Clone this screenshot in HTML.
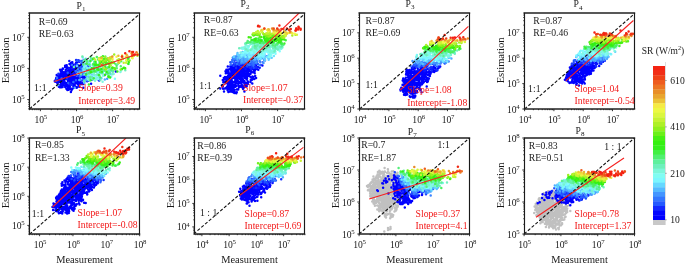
<!DOCTYPE html><html><head><meta charset="utf-8"><style>html,body{margin:0;padding:0;background:#fff;width:685px;height:264px;overflow:hidden}svg{display:block;will-change:transform}text{font-family:"Liberation Serif", serif}</style></head><body>
<svg width="685" height="264" viewBox="0 0 685 264" xmlns="http://www.w3.org/2000/svg">
<clipPath id="c1"><rect x="29.5" y="13" width="110.0" height="96"/></clipPath>
<g clip-path="url(#c1)">
<g stroke-width="2.5" stroke-linecap="round" fill="none"><path d="M70.2 74.8h0M80.2 76.3h0M69.7 75.4h0M66.4 77.4h0M71.1 76.6h0M76.8 87.7h0M81.3 71.4h0M76.3 79.6h0M62.7 81.5h0M69.8 75.0h0M83.1 75.3h0M68.6 78.2h0M81.4 84.0h0M67.1 88.7h0M81.3 66.6h0M58.4 76.2h0M59.0 81.7h0M56.7 75.0h0M69.6 75.5h0M70.0 70.9h0M67.0 84.7h0M66.8 71.8h0M84.8 65.0h0M71.5 90.3h0M71.4 81.6h0M60.4 74.6h0M68.0 80.4h0M80.4 77.3h0M73.6 67.5h0M79.8 79.6h0M64.2 79.4h0M72.2 69.5h0M66.3 65.5h0M73.7 82.5h0M62.8 74.7h0M81.4 72.5h0M83.2 76.2h0M74.6 72.8h0M76.1 64.1h0M80.5 74.9h0M78.5 81.3h0M78.3 80.4h0M70.8 88.6h0M75.2 79.5h0M67.3 78.7h0M76.6 73.0h0M81.1 82.9h0M85.9 72.7h0M81.1 71.2h0M68.4 80.7h0M74.7 84.9h0M63.7 85.1h0M61.4 78.8h0M76.7 73.5h0M85.7 77.3h0M70.5 68.6h0M89.4 71.0h0M73.5 76.7h0M70.7 81.3h0M72.7 73.9h0M69.8 74.4h0M65.1 65.7h0M78.1 77.9h0M64.2 75.9h0M68.7 86.0h0M78.0 72.7h0M60.1 77.8h0M69.8 86.5h0M70.4 84.5h0M57.5 78.9h0M71.6 72.8h0M66.5 79.1h0M71.4 89.7h0M69.0 77.3h0M78.8 65.6h0M67.4 71.6h0M71.2 75.8h0M61.6 78.9h0M61.9 71.1h0M65.6 72.5h0M59.0 85.1h0M67.5 71.5h0M75.3 72.5h0M65.8 85.8h0M83.3 87.7h0M63.6 80.5h0M72.1 75.5h0M62.8 80.8h0M66.3 75.1h0M60.7 87.0h0M64.4 72.4h0M81.0 76.7h0M75.9 70.9h0M59.8 78.2h0M67.4 79.2h0M84.6 66.0h0M57.6 79.8h0M57.0 81.6h0M81.3 68.9h0M71.8 71.2h0M70.0 74.2h0M62.9 81.4h0M71.1 89.5h0M72.3 62.2h0M74.0 82.7h0M78.3 84.7h0M61.0 82.4h0M64.3 82.3h0M72.1 82.6h0M68.2 88.3h0M61.1 78.1h0M64.2 78.7h0M76.1 67.3h0M74.5 81.2h0M69.0 77.5h0M73.6 87.7h0M68.3 70.9h0M74.8 82.1h0M72.1 76.5h0M66.4 86.1h0M63.5 79.7h0M70.3 75.6h0M68.2 79.8h0M65.2 86.9h0M84.7 75.3h0M71.6 80.0h0M69.0 68.7h0M64.7 76.1h0M71.1 67.1h0M73.4 83.0h0M70.9 80.4h0M76.0 82.9h0M71.0 73.0h0M62.7 74.1h0M74.5 71.8h0M72.9 67.3h0M59.9 87.2h0M61.5 87.3h0M61.7 84.9h0M65.2 74.4h0M63.5 82.2h0M78.9 75.6h0M54.8 80.9h0M60.4 75.9h0M76.4 77.5h0M75.1 72.0h0M68.3 71.2h0M66.2 83.9h0M80.3 82.2h0M78.6 77.1h0M62.4 69.3h0M68.0 80.8h0M74.4 87.3h0M68.6 78.4h0M61.0 83.5h0M65.7 86.2h0M60.6 85.4h0M80.0 82.3h0M58.1 80.4h0M79.6 80.0h0M72.2 89.2h0M68.8 86.7h0M75.2 86.9h0M75.7 74.3h0M66.9 83.1h0M80.4 71.4h0M81.1 76.4h0M67.9 85.7h0M57.7 85.1h0M68.6 89.8h0M72.4 76.6h0M68.7 78.2h0M76.1 66.5h0M87.1 81.3h0M72.7 70.9h0M79.1 82.9h0M79.1 66.8h0M64.7 72.3h0M62.8 74.4h0M88.9 80.8h0M73.3 86.0h0M79.5 68.1h0M74.8 72.2h0M75.4 68.2h0M76.5 65.2h0M63.1 77.2h0M60.9 74.5h0M70.9 78.9h0M68.9 72.2h0M60.1 81.5h0M73.3 69.6h0M62.6 87.0h0M66.8 78.3h0M83.1 75.0h0M70.6 75.3h0M68.5 73.2h0M67.4 67.3h0M70.9 92.1h0M78.2 81.6h0M70.3 79.2h0M59.4 74.7h0M56.1 78.7h0M70.2 74.6h0M73.4 65.3h0M72.4 64.2h0M60.1 69.8h0M71.3 83.4h0M68.9 78.9h0M71.8 77.9h0M67.7 82.4h0M62.3 85.1h0M68.2 80.5h0M59.4 76.6h0M72.4 75.2h0M79.3 80.9h0M65.7 70.1h0M70.2 73.0h0M67.4 90.1h0M80.4 69.9h0M66.0 78.3h0M88.2 70.7h0M75.9 69.8h0M61.5 70.3h0M62.4 76.6h0M56.3 77.8h0M61.9 81.5h0M80.0 83.5h0M66.9 78.1h0M63.8 80.3h0M70.7 64.7h0M68.2 72.5h0M68.1 88.4h0M77.7 83.9h0M62.1 73.6h0M80.9 84.2h0M74.1 77.1h0M60.1 80.7h0M65.7 77.0h0M81.5 63.8h0M63.1 82.7h0M77.1 87.2h0M72.3 74.8h0M84.9 74.3h0M62.8 72.1h0M67.1 84.9h0M84.8 75.6h0M57.6 83.6h0M69.6 77.0h0M55.8 81.8h0M81.6 67.6h0M83.8 59.9h0M64.7 82.8h0M60.8 81.1h0M79.6 78.7h0M77.3 81.2h0M54.9 81.5h0M72.9 64.4h0M72.0 84.3h0M79.3 77.1h0M68.5 72.8h0M84.4 79.3h0M74.7 76.7h0M70.8 89.2h0M66.6 73.5h0M68.4 73.2h0M67.6 75.6h0M68.5 70.6h0M72.8 78.6h0M76.1 62.5h0M63.9 79.5h0M73.1 70.2h0M74.0 69.8h0M70.1 77.4h0M75.4 71.1h0M67.1 78.2h0M71.1 63.0h0M80.9 66.4h0M65.3 66.9h0M65.9 83.8h0M66.3 73.0h0M71.5 89.2h0M66.8 78.4h0M69.1 69.9h0M67.6 79.0h0M57.4 83.3h0M66.8 68.4h0M77.0 74.3h0M67.5 71.4h0M77.2 80.4h0M64.7 73.1h0M73.8 73.3h0M78.3 84.2h0M68.8 82.7h0M63.1 81.4h0M63.8 83.1h0M75.7 77.3h0M69.6 76.3h0M72.3 76.2h0M75.9 74.0h0M58.4 77.6h0M64.2 75.9h0M71.2 66.4h0M70.5 70.4h0M67.6 83.3h0M77.1 74.5h0M77.7 83.4h0M72.8 78.7h0M60.5 73.5h0M79.6 68.6h0M74.7 70.7h0M64.8 82.2h0M68.2 85.3h0M74.9 71.3h0M73.0 77.1h0M76.5 68.8h0M78.4 80.1h0M82.8 77.5h0M61.3 79.3h0M91.1 83.7h0M75.7 86.7h0M69.4 68.0h0M66.7 65.2h0M80.5 81.0h0M90.6 79.6h0M70.7 84.0h0M61.0 86.8h0M74.0 86.5h0M68.5 86.4h0M70.2 79.6h0M75.4 82.3h0M66.0 77.5h0M64.5 72.4h0M58.9 86.8h0M78.6 81.0h0M77.0 62.3h0M73.4 80.5h0M79.3 86.7h0M60.8 71.2h0M73.2 84.2h0M67.6 89.3h0M72.3 89.1h0M85.5 76.7h0M64.6 79.3h0M68.4 88.0h0M62.8 68.6h0M78.6 83.9h0M69.2 88.0h0M81.7 65.6h0M70.3 70.2h0M74.0 77.7h0M63.7 73.7h0M78.7 83.0h0M74.8 78.7h0M60.6 84.7h0M70.8 77.1h0M62.1 73.6h0M73.1 66.0h0M115.8 71.6h0M69.5 64.1h0M61.7 71.8h0M84.5 68.6h0M85.1 77.4h0M70.0 69.9h0M98.7 79.9h0M72.1 67.1h0M76.9 81.4h0M74.6 73.5h0M82.9 80.1h0M80.2 72.8h0M71.8 80.9h0M68.0 75.3h0M66.4 88.7h0M79.2 61.8h0M82.6 72.8h0M83.3 83.9h0M63.0 68.8h0M64.2 81.0h0" stroke="#0000ff"/><path d="M70.2 81.5h0M86.9 75.4h0M70.5 80.8h0M79.7 71.9h0M77.2 70.2h0M87.5 76.1h0M73.5 84.3h0M75.0 69.1h0M85.7 67.2h0M78.8 78.7h0M73.8 72.8h0M65.1 67.0h0M68.1 70.7h0M80.5 66.2h0" stroke="#0102ff"/><path d="M87.0 68.5h0M81.3 74.8h0M69.1 68.4h0M69.3 61.0h0M84.2 68.0h0M83.6 67.9h0M85.9 71.5h0M88.9 75.2h0M87.1 65.4h0M81.0 70.3h0M81.9 82.5h0M80.6 75.2h0M75.3 64.3h0M55.4 80.5h0M73.2 73.1h0M82.1 75.0h0" stroke="#0a14ff"/><path d="M78.2 60.3h0M71.9 84.9h0M99.2 80.6h0M75.6 74.5h0M76.1 59.9h0M77.6 75.6h0M77.7 68.3h0M82.5 66.1h0M58.4 73.7h0M78.0 69.0h0M70.7 84.5h0M66.8 78.6h0M79.4 61.0h0M91.8 79.7h0M83.8 72.7h0M79.5 60.8h0M92.8 77.4h0" stroke="#142bff"/><path d="M81.8 61.1h0M79.6 67.2h0M98.8 77.5h0M82.1 66.8h0M85.8 67.2h0M88.6 67.0h0M86.1 65.8h0M98.8 73.2h0M79.9 74.4h0" stroke="#1f4cff"/><path d="M56.3 80.7h0M87.1 77.2h0M81.7 69.7h0M83.0 72.8h0M95.5 63.5h0M77.2 64.5h0M88.4 64.5h0M89.7 75.0h0M76.0 80.2h0M79.7 67.0h0M75.9 71.6h0M96.1 78.4h0M68.3 83.1h0M79.9 80.0h0M78.7 70.9h0M90.8 76.3h0M92.5 77.8h0M87.2 70.3h0M83.5 73.2h0M77.4 60.7h0M88.5 62.7h0M67.7 72.7h0M80.8 68.2h0" stroke="#2860ff"/><path d="M71.9 64.9h0M82.9 75.1h0M85.0 80.1h0M82.2 73.0h0M87.4 74.5h0M75.8 70.9h0M104.5 75.3h0M77.6 73.4h0M80.5 61.3h0M86.3 72.8h0M82.5 74.1h0M91.0 75.4h0M91.7 71.2h0M92.5 71.4h0M82.2 62.7h0M82.6 73.9h0M98.1 69.5h0M57.0 78.0h0M84.3 66.2h0M87.2 76.3h0M73.4 82.1h0M83.8 70.1h0M61.6 78.6h0M85.1 65.3h0M79.8 76.5h0" stroke="#3172ff"/><path d="M88.5 77.4h0M93.3 68.0h0M87.2 80.5h0M84.7 68.5h0M79.9 71.2h0M83.3 79.7h0M81.1 71.2h0M86.6 78.8h0M87.9 67.9h0M80.5 79.6h0M90.1 73.8h0M90.8 79.3h0M91.4 60.0h0M96.4 71.7h0M81.0 74.5h0M111.3 70.9h0M94.5 67.5h0" stroke="#3a83ff"/><path d="M84.7 72.3h0M77.7 69.1h0M84.2 67.3h0M84.8 63.9h0M99.9 69.7h0M90.0 65.9h0M107.2 78.8h0M85.0 80.0h0M78.1 72.5h0M84.6 81.3h0M88.1 78.6h0M87.5 79.7h0M109.7 71.1h0M81.0 75.4h0M82.8 68.7h0" stroke="#4397ff"/><path d="M58.3 85.1h0M74.7 87.7h0M106.5 73.6h0M84.8 69.3h0M92.8 67.9h0M89.7 79.7h0M104.8 79.4h0M97.5 70.6h0M88.2 74.2h0M99.3 75.2h0M86.4 76.3h0M79.3 80.1h0M90.3 72.8h0M88.9 68.6h0M84.3 65.8h0" stroke="#4eadff"/><path d="M89.6 71.6h0M85.9 79.5h0M99.3 68.8h0M88.7 74.9h0M95.9 67.4h0M84.4 83.0h0M83.3 70.5h0M87.9 78.9h0M98.2 71.2h0M87.3 75.1h0M106.1 68.5h0M91.2 59.2h0M89.7 71.1h0" stroke="#58bfff"/><path d="M88.3 68.5h0M91.7 69.6h0M93.2 74.7h0M97.1 78.5h0M84.6 69.2h0M110.6 73.9h0M90.5 78.8h0M83.5 63.5h0M84.3 68.4h0M76.9 66.0h0M82.9 68.7h0M84.1 60.3h0M85.8 58.8h0M101.5 78.3h0M82.8 71.9h0M90.9 59.4h0M83.6 64.9h0M95.6 76.1h0M87.7 62.9h0" stroke="#61d1ff"/><path d="M95.2 66.7h0M82.7 57.5h0M92.3 68.3h0M92.7 65.3h0M90.6 77.0h0M102.9 72.9h0M98.7 77.8h0M88.0 75.4h0M104.0 70.2h0M89.3 74.7h0M89.8 62.8h0M87.9 71.9h0M83.9 70.5h0M84.4 66.8h0M94.7 62.7h0" stroke="#72e8ff"/><path d="M86.3 61.4h0M96.3 71.0h0M111.2 76.5h0M89.8 68.9h0M86.2 65.7h0M84.8 70.3h0M94.4 70.1h0M98.2 59.2h0M86.0 71.9h0M92.7 58.4h0M77.5 73.9h0M93.8 59.5h0M101.0 60.9h0M98.7 73.3h0M84.4 67.3h0M89.5 80.6h0M88.2 79.0h0" stroke="#7bf7ff"/><path d="M97.6 71.7h0M89.0 63.8h0M90.7 75.9h0M95.2 68.5h0M96.3 65.6h0M100.3 73.4h0M101.9 68.8h0M93.4 58.4h0M104.0 67.8h0M105.5 68.4h0M92.1 71.3h0M114.9 78.7h0M89.6 68.2h0M93.7 76.5h0" stroke="#80fefc"/><path d="M87.4 63.4h0M90.3 75.3h0M91.7 78.7h0M97.0 74.7h0M110.7 70.8h0M84.1 64.7h0M102.3 71.5h0M89.5 64.4h0M87.1 67.9h0M89.6 80.3h0M95.7 77.2h0M85.1 71.3h0M111.6 68.3h0M99.2 62.2h0M98.1 79.0h0M95.3 75.5h0M92.4 72.6h0M94.8 62.2h0M90.9 68.9h0M106.5 68.2h0M105.0 62.0h0M107.3 70.9h0" stroke="#80fbee"/><path d="M95.0 80.7h0M98.5 76.5h0M93.9 73.6h0M128.7 64.0h0M94.1 70.7h0M89.3 60.5h0M105.8 70.6h0M96.0 79.2h0M107.6 73.2h0M90.3 60.7h0M103.0 75.7h0M113.7 74.0h0M102.6 81.8h0M86.5 60.7h0M120.4 71.9h0M121.1 70.5h0" stroke="#80f8df"/><path d="M89.2 79.4h0M96.9 74.6h0M105.4 56.4h0M109.4 63.6h0M84.4 74.4h0M98.7 65.2h0M94.5 74.7h0M83.7 61.3h0M91.9 60.1h0M94.6 62.5h0M112.4 74.3h0M90.3 70.9h0M93.3 79.5h0M110.5 65.8h0M95.0 68.6h0M109.7 62.9h0M87.4 78.1h0M90.0 65.3h0M100.1 66.8h0M93.4 65.2h0" stroke="#77f3ce"/><path d="M125.3 70.3h0M100.4 79.9h0M105.8 67.9h0M89.7 69.5h0M110.7 62.5h0M99.7 76.0h0M85.1 69.5h0M104.9 70.7h0M91.8 77.2h0M93.5 69.8h0M109.3 70.1h0M94.6 68.1h0M80.0 72.8h0M99.6 70.1h0M97.6 74.6h0" stroke="#6ef0bc"/><path d="M117.8 63.9h0M82.4 56.5h0M92.8 78.7h0M111.5 69.1h0M121.3 61.2h0M103.1 67.4h0M93.1 69.9h0M109.8 72.3h0M90.2 71.3h0M104.0 68.9h0M97.2 70.7h0M112.9 71.7h0M108.9 75.8h0M73.9 67.0h0M109.4 59.9h0M94.1 62.1h0M97.1 64.7h0M84.2 80.9h0M96.1 71.2h0M103.1 60.6h0M80.9 74.1h0M108.1 71.3h0M87.0 72.2h0" stroke="#65f0aa"/><path d="M95.7 71.2h0M90.2 77.8h0M112.3 69.3h0M94.3 68.6h0M109.0 67.6h0M104.1 70.6h0M100.2 57.9h0M97.7 68.6h0M90.3 77.0h0M94.1 63.7h0M107.3 67.8h0M103.0 69.4h0M102.0 73.2h0M113.1 70.4h0M85.5 59.5h0M111.5 69.4h0M109.3 73.3h0" stroke="#5cf094"/><path d="M83.3 64.4h0M100.0 66.0h0M89.1 73.2h0M87.2 61.3h0M89.2 64.6h0M91.6 69.9h0M94.5 67.3h0M95.7 63.6h0M116.8 68.3h0M95.6 71.1h0M85.1 60.1h0M107.2 67.6h0M111.0 69.7h0M98.1 59.6h0M120.8 66.3h0M115.5 63.9h0M90.6 71.7h0M107.4 67.7h0M119.2 62.2h0" stroke="#53f079"/><path d="M92.2 71.9h0M99.7 59.7h0M94.7 71.3h0M90.5 56.9h0M107.9 73.6h0M96.8 57.1h0M100.4 77.4h0M99.7 60.9h0M102.2 65.4h0M103.5 64.5h0M97.8 67.9h0M93.0 64.2h0M100.2 72.2h0M116.6 65.8h0M100.5 70.1h0" stroke="#4af05f"/><path d="M93.6 67.9h0M90.4 70.8h0M86.7 63.7h0M86.5 63.5h0M105.6 61.2h0M106.8 63.1h0M94.2 71.2h0M93.8 78.3h0M104.8 62.1h0M108.3 76.2h0M95.7 63.6h0" stroke="#41f044"/><path d="M86.2 74.6h0M124.6 68.0h0M101.5 57.2h0M92.7 59.0h0M103.0 64.3h0M113.9 62.8h0M128.7 57.7h0M101.9 60.2h0M98.5 65.4h0M88.9 84.6h0M90.4 61.0h0M88.6 70.0h0M102.9 56.2h0M119.1 62.8h0M104.9 66.7h0M110.9 63.3h0M98.9 75.0h0M101.4 60.3h0M90.6 80.2h0" stroke="#3af02d"/><path d="M100.2 63.3h0M94.6 64.7h0M95.5 61.4h0M106.6 71.9h0M97.3 69.2h0M102.1 71.7h0M107.5 58.5h0M122.9 58.8h0M127.7 59.3h0M108.3 63.8h0M117.4 71.5h0M126.7 60.5h0" stroke="#32f017"/><path d="M105.6 64.4h0M96.2 65.2h0M93.8 68.8h0M112.7 67.7h0M101.4 68.9h0M110.1 77.4h0M91.7 68.2h0M98.5 69.7h0M104.1 58.8h0M128.8 61.9h0M105.1 74.7h0M111.5 58.3h0M128.3 63.8h0" stroke="#33f010"/><path d="M98.4 65.1h0M123.7 67.7h0M101.8 61.8h0M122.1 68.9h0M90.9 72.2h0M108.6 77.1h0" stroke="#36f010"/><path d="M109.6 65.1h0M112.4 67.7h0M99.1 59.2h0M120.8 60.4h0M109.5 63.8h0M119.0 59.4h0M105.9 64.1h0M107.8 60.1h0M103.4 61.6h0M109.3 66.9h0M125.2 68.2h0" stroke="#44f012"/><path d="M114.8 68.3h0M105.4 61.9h0M99.8 63.4h0" stroke="#5af015"/><path d="M115.0 69.3h0M111.5 62.2h0M99.8 59.4h0" stroke="#71f018"/><path d="M102.3 59.0h0M110.1 57.4h0M106.7 60.0h0M94.0 58.4h0M100.0 61.2h0M120.6 69.4h0M129.6 60.4h0M108.9 61.7h0M105.2 69.5h0M113.1 62.5h0M105.8 58.8h0" stroke="#87f01c"/><path d="M105.2 56.7h0M105.7 60.6h0M114.2 54.4h0M112.5 63.1h0M103.3 61.6h0M106.3 69.3h0" stroke="#9df020"/><path d="M102.0 57.4h0M137.4 55.7h0M101.0 59.2h0M117.5 59.9h0M109.6 58.7h0" stroke="#adf026"/><path d="M109.6 59.9h0M110.7 65.5h0M123.7 62.8h0M103.8 67.7h0M122.9 59.0h0M99.0 58.2h0" stroke="#bcf02e"/><path d="M137.6 53.9h0M118.8 59.5h0M95.2 59.8h0M126.1 62.8h0M134.1 55.8h0" stroke="#c9f235"/><path d="M131.8 57.4h0M118.6 62.7h0" stroke="#d6f53b"/><path d="M125.8 56.9h0" stroke="#e2f841"/><path d="M116.5 56.8h0M126.4 60.2h0M101.2 59.3h0M119.3 61.3h0M112.5 58.2h0M132.6 58.3h0" stroke="#f5f847"/><path d="M99.0 59.2h0M122.1 55.5h0M112.4 59.8h0M120.8 59.8h0" stroke="#f3e642"/><path d="M131.4 53.2h0M111.3 57.2h0M127.3 55.8h0M108.4 58.2h0" stroke="#edcb39"/><path d="M101.4 58.1h0M118.6 62.2h0M126.6 54.7h0M118.4 55.8h0M133.1 55.9h0" stroke="#eab834"/><path d="M112.3 56.5h0" stroke="#e8992b"/><path d="M121.9 56.7h0" stroke="#e98b27"/><path d="M136.5 52.2h0" stroke="#ec7c24"/><path d="M132.0 54.1h0" stroke="#ed6e22"/><path d="M132.0 55.7h0M101.7 64.8h0" stroke="#ee5f20"/><path d="M132.0 51.9h0" stroke="#ee4e1a"/><path d="M122.1 56.6h0" stroke="#f03218"/><path d="M137.5 54.7h0" stroke="#f12b16"/><path d="M133.7 54.8h0M129.4 51.2h0M135.0 54.6h0M133.1 51.9h0M125.2 53.3h0" stroke="#f51e10"/></g>
</g>
<g clip-path="url(#c1)"><line x1="29.53" y1="108.86" x2="140.69" y2="13.10" stroke="#111" stroke-width="1.1" stroke-dasharray="3.2,1.8"/>
<line x1="54.2" y1="81.6" x2="136.4" y2="54.6" stroke="#f52020" stroke-width="1.1"/></g>
<path d="M28.8 13H140.2M28.8 109H140.2" stroke="#222" stroke-width="1.45" fill="none"/>
<path d="M29.5 13V109M139.5 13V109" stroke="#1a1a1a" stroke-width="1.15" fill="none"/>
<path d="M29.53 109v1.2M29.5 108.86h-1.2M32.39 109v1.2M29.5 106.40h-1.2M34.81 109v1.2M29.5 104.32h-1.2M36.90 109v1.2M29.5 102.51h-1.2M38.75 109v1.2M29.5 100.92h-1.2M40.40 109v2.2M29.5 99.50h-2.2M51.27 109v1.2M29.5 90.14h-1.2M57.62 109v1.2M29.5 84.66h-1.2M62.13 109v1.2M29.5 80.78h-1.2M65.63 109v1.2M29.5 77.76h-1.2M68.49 109v1.2M29.5 75.30h-1.2M70.91 109v1.2M29.5 73.22h-1.2M73.00 109v1.2M29.5 71.41h-1.2M74.85 109v1.2M29.5 69.82h-1.2M76.50 109v2.2M29.5 68.40h-2.2M87.37 109v1.2M29.5 59.04h-1.2M93.72 109v1.2M29.5 53.56h-1.2M98.23 109v1.2M29.5 49.68h-1.2M101.73 109v1.2M29.5 46.66h-1.2M104.59 109v1.2M29.5 44.20h-1.2M107.01 109v1.2M29.5 42.12h-1.2M109.10 109v1.2M29.5 40.31h-1.2M110.95 109v1.2M29.5 38.72h-1.2M112.60 109v2.2M29.5 37.30h-2.2M123.47 109v1.2M29.5 27.94h-1.2M129.82 109v1.2M29.5 22.46h-1.2M134.33 109v1.2M29.5 18.58h-1.2M137.83 109v1.2M29.5 15.56h-1.2M29.5 13.10h-1.2" stroke="#222" stroke-width="0.9" fill="none"/>
<text x="40.90" y="122.90" font-size="9.6" text-anchor="middle" fill="#1a1a1a">10<tspan font-size="6.8" dx="-0.3" dy="-3.7">5</tspan></text>
<text x="24.60" y="103.00" font-size="9.6" text-anchor="end" fill="#1a1a1a">10<tspan font-size="6.8" dx="-0.4" dy="-3.7">5</tspan></text>
<text x="77.00" y="122.90" font-size="9.6" text-anchor="middle" fill="#1a1a1a">10<tspan font-size="6.8" dx="-0.3" dy="-3.7">6</tspan></text>
<text x="24.60" y="71.90" font-size="9.6" text-anchor="end" fill="#1a1a1a">10<tspan font-size="6.8" dx="-0.4" dy="-3.7">6</tspan></text>
<text x="113.10" y="122.90" font-size="9.6" text-anchor="middle" fill="#1a1a1a">10<tspan font-size="6.8" dx="-0.3" dy="-3.7">7</tspan></text>
<text x="24.60" y="40.80" font-size="9.6" text-anchor="end" fill="#1a1a1a">10<tspan font-size="6.8" dx="-0.4" dy="-3.7">7</tspan></text>
<text transform="translate(9.00,60.40) rotate(-90)" font-size="10.6" text-anchor="middle" fill="#1a1a1a">Estimation</text>
<text x="76.40" y="8.50" font-size="9.7" fill="#1a1a1a">P<tspan font-size="7.1" dx="0.1" dy="2.3">1</tspan></text>
<text x="38.80" y="24.50" font-size="9.7" fill="#1a1a1a">R=0.69</text>
<text x="38.80" y="36.60" font-size="9.7" fill="#1a1a1a">RE=0.63</text>
<text x="34.10" y="91.20" font-size="9.7" fill="#1a1a1a">1:1</text>
<text x="78.30" y="91.10" font-size="9.7" fill="#f21818">Slope=0.39</text>
<text x="78.30" y="103.60" font-size="9.7" fill="#f21818">Intercept=3.49</text>
<clipPath id="c2"><rect x="194.5" y="13" width="110.0" height="96"/></clipPath>
<g clip-path="url(#c2)">
<g stroke-width="2.5" stroke-linecap="round" fill="none"><path d="M244.1 71.0h0M230.1 80.4h0M239.2 86.7h0M230.8 90.5h0M244.3 81.0h0M227.7 78.6h0M230.2 79.1h0M224.4 81.7h0M252.2 79.4h0M229.1 87.7h0M238.8 70.0h0M235.6 85.8h0M222.8 86.5h0M238.3 77.6h0M255.2 76.0h0M238.4 75.0h0M247.1 77.9h0M229.2 83.5h0M247.9 70.5h0M252.2 69.0h0M239.0 69.1h0M247.2 71.3h0M223.8 78.1h0M226.2 71.7h0M237.3 80.0h0M232.3 84.7h0M235.9 83.3h0M234.4 73.4h0M236.5 70.4h0M239.0 75.1h0M238.2 89.6h0M241.7 85.0h0M244.1 70.2h0M243.0 69.0h0M231.1 69.3h0M238.1 71.2h0M239.4 73.9h0M254.2 71.4h0M226.5 82.2h0M242.7 82.0h0M225.0 76.9h0M250.2 65.1h0M241.7 82.2h0M235.6 68.3h0M248.1 72.9h0M240.6 78.0h0M232.0 71.6h0M233.6 88.7h0M235.5 83.7h0M229.1 83.0h0M225.9 78.9h0M229.3 89.1h0M240.3 82.1h0M250.6 77.2h0M229.5 74.0h0M244.6 85.3h0M238.7 73.6h0M236.3 93.2h0M235.5 72.6h0M239.9 65.4h0M239.1 70.6h0M235.3 86.8h0M235.7 86.1h0M231.9 70.3h0M247.1 70.7h0M248.3 69.9h0M244.4 83.7h0M234.7 78.2h0M244.6 81.9h0M245.2 69.0h0M240.7 74.1h0M227.7 85.7h0M240.9 75.0h0M226.4 80.0h0M241.3 81.7h0M247.9 81.4h0M250.4 81.9h0M250.1 70.9h0M241.4 78.4h0M226.8 87.1h0M229.5 74.2h0M234.0 66.2h0M233.4 87.9h0M256.2 68.9h0M238.0 69.8h0M250.1 74.0h0M241.6 84.3h0M237.2 89.5h0M243.2 73.8h0M225.6 77.6h0M253.2 77.1h0M243.3 72.7h0M235.1 71.1h0M234.1 70.0h0M227.6 90.3h0M231.3 70.9h0M233.6 82.0h0M229.2 73.6h0M234.5 91.7h0M234.9 82.3h0M237.2 74.1h0M246.9 79.6h0M249.9 70.1h0M234.0 84.7h0M235.7 69.9h0M228.6 72.1h0M241.9 73.4h0M231.3 67.0h0M239.8 74.1h0M250.6 71.8h0M223.8 79.4h0M229.3 77.2h0M237.0 71.3h0M240.4 76.9h0M245.6 77.6h0M247.5 68.8h0M240.0 83.0h0M250.0 70.9h0M250.8 71.0h0M241.7 77.5h0M241.2 75.6h0M241.8 67.6h0M231.8 87.5h0M228.9 76.3h0M235.6 72.0h0M227.8 81.9h0M238.3 71.3h0M239.6 73.5h0M234.1 72.2h0M239.2 71.0h0M238.9 71.2h0M225.5 82.2h0M254.0 70.8h0M247.8 75.3h0M230.4 91.6h0M224.6 77.4h0M254.8 70.7h0M230.3 68.4h0M235.6 77.5h0M247.4 75.3h0M238.1 76.5h0M230.6 78.8h0M238.4 77.2h0M235.1 82.4h0M236.6 81.0h0M229.2 86.3h0M243.9 70.2h0M252.3 83.5h0M231.9 82.5h0M246.4 76.8h0M227.7 90.3h0M239.3 68.3h0M232.2 72.5h0M226.9 83.0h0M246.7 86.3h0M236.4 64.0h0M230.4 77.2h0M224.0 91.5h0M232.4 91.0h0M230.0 83.8h0M237.0 75.4h0M245.1 71.1h0M240.7 75.1h0M223.0 80.0h0M243.2 81.6h0M234.4 64.6h0M245.3 76.2h0M242.9 68.5h0M234.3 70.6h0M237.0 73.9h0M245.2 69.5h0M229.1 84.9h0M239.1 76.1h0M230.1 77.2h0M239.0 87.3h0M250.4 73.9h0M230.4 78.6h0M244.6 71.1h0M252.2 72.3h0M233.3 67.8h0M244.3 64.5h0M228.2 71.0h0M232.1 68.4h0M254.3 69.9h0M236.8 92.3h0M240.4 70.5h0M230.2 89.9h0M228.8 85.3h0M225.2 77.5h0M238.5 66.3h0M242.2 87.3h0M237.2 70.1h0M251.8 79.9h0M231.8 80.9h0M239.2 77.8h0M231.5 69.9h0M242.2 87.0h0M221.9 85.3h0M230.5 84.9h0M229.8 87.3h0M235.3 80.3h0M227.7 70.6h0M238.9 68.1h0M248.5 68.7h0M230.4 86.1h0M244.4 86.5h0M230.5 75.9h0M236.9 78.4h0M233.9 65.2h0M236.8 89.5h0M236.7 77.7h0M236.1 79.7h0M228.2 69.6h0M241.3 82.4h0M244.5 75.3h0M220.3 88.4h0M241.9 85.3h0M245.0 76.1h0M243.1 89.0h0M231.6 78.7h0M254.7 73.3h0M228.4 86.2h0M231.2 86.3h0M231.9 86.9h0M241.0 71.7h0M256.0 65.6h0M235.3 71.0h0M232.6 91.9h0M234.9 74.3h0M229.0 87.1h0M254.3 79.1h0M246.2 75.4h0M234.6 86.8h0M238.0 73.5h0M242.1 75.3h0M255.8 65.5h0M231.4 73.4h0M244.6 77.8h0M227.3 70.2h0M229.4 82.0h0M226.9 76.9h0M246.9 68.1h0M239.8 71.4h0M245.9 84.3h0M244.0 70.0h0M246.2 70.0h0M230.4 69.4h0M254.0 71.8h0M245.6 70.6h0M242.3 70.1h0M240.4 77.7h0M225.8 83.2h0M227.3 87.0h0M220.3 75.8h0M226.4 69.7h0M244.8 68.9h0M238.3 83.9h0M236.5 85.9h0M255.6 68.9h0M237.2 78.4h0M249.2 75.8h0M246.2 78.8h0M228.3 75.4h0M251.0 80.2h0M245.7 74.0h0M231.6 76.1h0M246.0 77.7h0M243.8 81.8h0M244.2 86.3h0M231.6 66.1h0M248.1 71.5h0M240.3 68.8h0M241.6 85.8h0M232.6 75.0h0M244.9 86.3h0M243.3 72.1h0M235.8 70.6h0M234.6 67.0h0M234.5 75.7h0M255.1 67.5h0M235.3 66.7h0M230.2 74.7h0M244.3 87.0h0M231.0 78.5h0M241.0 82.6h0M233.2 72.2h0M225.8 82.4h0M250.0 74.0h0M233.5 71.6h0M227.6 73.0h0M242.7 69.1h0M240.7 86.0h0M225.8 73.2h0M227.2 83.1h0M225.5 88.2h0M226.1 80.4h0M234.3 92.9h0M252.5 76.4h0M238.9 86.0h0M231.0 88.4h0M230.3 80.1h0M249.5 67.0h0M246.6 82.9h0M238.0 89.4h0M242.8 68.1h0M247.3 67.9h0M230.5 89.5h0M243.5 70.5h0M240.9 80.0h0M238.6 78.2h0M233.4 77.8h0M236.9 68.3h0M247.6 75.9h0M247.5 72.4h0M229.6 82.5h0M238.8 76.6h0M240.9 79.7h0M239.1 74.9h0M223.1 88.7h0M240.1 86.8h0M243.7 87.7h0M247.9 82.6h0M238.5 69.3h0M245.5 70.1h0M246.5 85.2h0M243.0 79.4h0M239.8 79.1h0M234.1 72.4h0M256.1 78.1h0M225.0 88.6h0M236.5 70.9h0M228.1 71.0h0M234.2 77.8h0M242.9 87.3h0M223.3 82.3h0M232.7 82.4h0M235.1 68.7h0M238.4 82.7h0M233.0 65.5h0M239.6 75.0h0M243.9 86.6h0M228.4 92.0h0M247.4 74.6h0M237.5 70.0h0M244.4 65.4h0M243.5 72.7h0M229.3 80.7h0M225.5 71.3h0M231.7 74.3h0M244.4 91.6h0M224.9 82.3h0M248.7 74.7h0M228.4 83.3h0M226.9 88.5h0M233.4 87.2h0M240.0 81.7h0M248.5 65.7h0M231.6 79.4h0M247.3 67.2h0M236.5 68.3h0M239.6 74.2h0M225.5 82.5h0M222.8 80.0h0M236.5 71.3h0M254.5 73.0h0M238.8 73.8h0M244.4 81.3h0M243.5 82.1h0M244.4 72.4h0M235.4 73.8h0M250.7 80.0h0M227.4 80.6h0M237.9 81.1h0M244.9 68.0h0M250.4 66.4h0M234.4 68.0h0M237.8 83.4h0M233.8 74.9h0M236.9 66.4h0M228.0 83.7h0M247.8 84.1h0M252.3 78.1h0M234.9 69.4h0M230.9 91.6h0M258.3 69.8h0M236.2 73.9h0M227.8 66.5h0M227.8 79.4h0M231.8 88.6h0M246.3 67.6h0M244.2 73.2h0M234.5 89.9h0M239.4 67.1h0M233.4 73.7h0M235.2 85.0h0M243.7 72.8h0M231.5 85.9h0M253.0 68.1h0M237.1 63.2h0M243.2 76.5h0M241.6 80.3h0M231.3 71.9h0M231.3 73.1h0M229.7 81.9h0M239.9 77.7h0M240.0 68.8h0M243.7 73.1h0M231.2 68.8h0" stroke="#0000ff"/><path d="M231.4 89.3h0M249.4 67.7h0M233.4 90.8h0M246.8 69.1h0M231.4 67.1h0M240.8 73.0h0M241.8 70.0h0M230.3 66.5h0M229.2 75.1h0M237.0 65.2h0M234.5 63.6h0M222.5 86.1h0M245.1 65.6h0M262.4 65.5h0M239.9 67.9h0M227.1 72.7h0M256.9 67.8h0M249.6 65.5h0M239.0 65.0h0M243.0 68.5h0M246.2 72.1h0M256.5 67.8h0M234.8 64.6h0M251.8 68.7h0M254.4 64.5h0M249.9 66.9h0M233.8 64.3h0M242.4 65.4h0M240.8 69.5h0M233.7 70.3h0M249.0 64.3h0M256.5 63.1h0M247.8 71.4h0" stroke="#0102ff"/><path d="M230.9 64.7h0M251.1 66.4h0M245.5 69.0h0M259.7 67.8h0M251.3 69.8h0M248.8 66.7h0M239.0 64.6h0M240.4 68.1h0M241.7 64.5h0M242.6 65.6h0M245.1 63.6h0M244.5 66.3h0M254.0 62.6h0M246.9 66.7h0M257.9 67.0h0M241.0 62.7h0M244.1 63.8h0M238.6 63.3h0M242.0 63.8h0" stroke="#0a14ff"/><path d="M253.6 64.3h0M244.7 64.1h0M240.2 61.6h0M260.7 64.9h0M243.4 66.9h0M239.5 63.2h0M247.0 62.7h0M257.2 63.2h0M236.2 65.2h0M254.9 66.1h0M250.9 60.7h0M235.1 63.6h0M236.1 67.9h0M251.3 68.7h0M234.7 63.1h0M243.4 63.2h0M260.6 65.0h0M256.5 63.3h0M240.8 60.8h0M244.6 64.3h0M249.7 67.4h0M240.1 61.8h0M239.7 64.1h0M234.6 60.4h0M245.3 62.6h0M240.1 61.1h0M237.3 62.9h0M245.2 65.1h0M252.9 62.8h0M255.3 67.5h0M256.6 67.9h0" stroke="#142bff"/><path d="M241.2 63.4h0M234.7 63.5h0M256.3 63.6h0M252.5 62.8h0M240.1 62.7h0M233.6 65.7h0M258.1 64.3h0M247.2 66.2h0M254.2 62.6h0M243.5 61.0h0M237.3 59.7h0M250.5 63.5h0M257.0 63.0h0M252.4 66.0h0M239.3 65.0h0M243.6 63.6h0M238.3 63.5h0M256.9 62.0h0M253.7 67.7h0M230.3 62.3h0M250.4 64.8h0M240.0 64.0h0M233.0 59.8h0M239.0 62.0h0M248.2 61.5h0M248.6 63.9h0M255.1 62.2h0M246.2 65.0h0M256.1 62.5h0" stroke="#1f4cff"/><path d="M232.3 59.9h0M254.4 62.6h0M241.0 63.5h0M249.2 63.8h0M251.9 62.9h0M243.5 62.7h0M241.3 62.2h0M250.0 58.1h0M233.1 57.9h0M233.9 62.6h0M252.1 64.0h0M251.6 60.8h0M253.1 62.3h0M256.1 62.1h0M249.0 61.5h0M236.4 60.6h0M247.4 59.1h0M250.1 60.7h0M251.2 61.5h0M252.7 64.2h0M236.2 59.4h0M249.9 65.1h0M245.7 60.5h0M244.8 62.8h0" stroke="#2860ff"/><path d="M254.8 62.8h0M256.9 61.3h0M253.2 62.7h0M250.5 61.0h0M247.0 61.7h0M242.7 61.3h0M238.1 60.0h0M241.6 59.0h0M262.7 62.3h0M237.0 64.0h0M230.9 64.4h0M253.6 65.0h0M238.8 60.4h0M249.8 58.2h0M251.5 61.3h0M242.9 58.9h0M235.7 58.2h0M249.6 57.9h0M238.4 59.5h0M248.9 64.7h0M232.0 61.9h0M260.1 61.7h0M245.8 61.9h0M233.0 59.7h0M250.0 61.6h0M254.3 58.7h0M242.5 63.1h0M256.7 61.0h0" stroke="#3172ff"/><path d="M251.2 59.2h0M265.0 60.4h0M234.6 56.8h0M249.0 59.4h0M236.0 56.6h0M264.2 60.1h0M249.7 60.9h0M232.8 57.8h0M246.5 61.0h0M236.7 55.9h0M259.6 65.0h0M259.5 61.1h0M246.5 59.7h0M247.5 61.9h0M243.4 58.2h0M241.3 62.7h0M234.4 59.3h0M240.9 60.2h0M238.7 57.2h0M235.0 57.3h0M255.5 57.6h0M234.6 59.1h0" stroke="#3a83ff"/><path d="M256.1 56.0h0M251.3 58.8h0M245.4 57.8h0M238.4 57.8h0M242.3 60.5h0M246.7 55.1h0M246.9 61.5h0M241.5 62.3h0M257.4 59.0h0M236.1 57.7h0M256.4 62.4h0M243.8 59.5h0M263.5 63.1h0M243.7 62.3h0M235.2 57.6h0M255.2 60.1h0M243.2 58.5h0M242.8 60.3h0M243.2 55.2h0M255.8 57.9h0M246.7 53.5h0M238.0 61.2h0M262.3 58.2h0M266.3 56.2h0M254.0 60.5h0M255.0 56.3h0" stroke="#4397ff"/><path d="M251.1 58.4h0M248.5 59.9h0M247.5 58.8h0M249.2 58.7h0M249.3 61.7h0M257.8 54.8h0M244.7 57.7h0M245.4 60.2h0M251.2 58.6h0M237.4 59.5h0M245.6 61.0h0M259.5 53.6h0M247.2 56.9h0M241.8 59.0h0M264.5 57.8h0M264.9 59.5h0M261.1 57.4h0M259.8 57.2h0M254.3 56.6h0M258.1 55.4h0M252.8 54.5h0M261.3 54.8h0M239.8 57.1h0M248.7 53.7h0M247.3 58.8h0M250.2 55.0h0M233.7 57.0h0M245.2 56.5h0M269.0 56.8h0M245.1 51.9h0M255.7 56.0h0M241.8 61.0h0" stroke="#4eadff"/><path d="M259.3 57.9h0M269.0 56.6h0M245.2 54.0h0M255.8 54.9h0M239.6 55.8h0M258.7 55.0h0M257.1 56.8h0M248.8 58.4h0M249.2 55.3h0M268.3 55.8h0M249.2 59.8h0M246.1 57.0h0M238.6 57.0h0M247.1 52.3h0M237.8 57.8h0M250.7 57.0h0M246.4 57.2h0M260.4 53.4h0M246.1 54.1h0M244.6 53.1h0M264.9 59.9h0M242.6 56.8h0M251.3 57.0h0M254.6 53.0h0M254.9 59.3h0M268.3 57.9h0M242.5 52.0h0M264.5 54.3h0M237.5 53.0h0M258.2 57.7h0M262.5 55.6h0" stroke="#58bfff"/><path d="M238.3 55.1h0M242.9 54.3h0M258.0 58.8h0M237.2 54.6h0M260.6 55.4h0M233.9 56.8h0M261.4 54.5h0M269.2 58.5h0M242.9 53.3h0M261.7 56.0h0M255.0 53.9h0M251.9 57.4h0M252.8 57.5h0M248.8 57.1h0M241.1 56.5h0M256.6 55.8h0M268.7 59.7h0M256.8 55.4h0M267.9 56.9h0M261.1 58.0h0M260.7 58.9h0M240.1 57.6h0M265.0 59.5h0M249.6 58.2h0M261.0 51.6h0M269.1 57.2h0M250.7 51.4h0M271.7 57.8h0M256.3 52.5h0M257.1 52.8h0M256.1 57.0h0M269.2 55.0h0M243.1 55.6h0M260.9 57.4h0M240.6 54.5h0M255.0 55.1h0M263.4 55.8h0M254.3 53.0h0M273.2 52.8h0M258.8 56.7h0M250.3 53.5h0M252.5 57.5h0M261.7 56.7h0M259.9 52.7h0" stroke="#61d1ff"/><path d="M263.6 53.9h0M245.3 51.1h0M245.5 54.3h0M244.4 54.8h0M255.8 53.3h0M254.7 54.0h0M251.4 56.6h0M256.4 56.1h0M273.9 55.9h0M249.3 53.7h0M264.1 55.9h0M253.8 53.5h0M243.5 52.7h0M243.9 52.3h0M260.3 53.6h0M257.2 54.8h0M267.1 57.3h0M263.6 55.0h0M242.6 54.7h0M268.8 55.3h0M248.4 55.1h0M242.3 47.8h0M250.1 53.3h0M251.9 50.8h0M263.8 52.1h0M258.4 56.7h0M263.7 57.3h0M260.4 58.2h0M252.4 48.8h0M250.7 54.3h0M249.8 50.5h0" stroke="#72e8ff"/><path d="M267.7 49.3h0M248.8 46.2h0M262.3 54.9h0M264.2 54.0h0M273.3 52.7h0M272.2 50.5h0M271.7 51.3h0M271.4 52.1h0M259.3 55.8h0M263.4 55.2h0M258.3 52.3h0M251.0 53.3h0M268.5 50.4h0M272.7 52.9h0M245.9 44.8h0M245.5 56.7h0M250.9 52.3h0M249.4 56.8h0M266.1 51.5h0M256.9 50.5h0M262.6 56.3h0M268.2 52.6h0M248.4 46.1h0M251.7 49.9h0M262.0 51.4h0M255.1 50.0h0M252.4 53.4h0M241.6 55.6h0M248.4 51.0h0M261.5 55.2h0" stroke="#7bf7ff"/><path d="M271.2 55.3h0M275.5 53.7h0M262.4 46.1h0M264.1 52.6h0M264.9 51.7h0M254.6 50.2h0M269.3 56.9h0M255.3 47.1h0M243.0 49.1h0M269.8 48.8h0M241.5 48.4h0M246.3 52.6h0M263.0 52.5h0M258.8 52.5h0M245.0 51.4h0M254.4 49.7h0M264.3 47.3h0M269.9 53.1h0M273.6 50.8h0M251.8 53.0h0M243.2 53.1h0M275.5 51.8h0M255.6 54.3h0M260.5 55.2h0M247.4 47.3h0M253.9 51.5h0M266.4 47.6h0M249.3 51.1h0M259.8 45.8h0M255.5 51.2h0M251.8 52.0h0M274.7 51.8h0M263.3 53.9h0M268.6 52.4h0M279.7 51.3h0M247.4 52.7h0M254.6 51.2h0M264.8 47.3h0M260.0 49.5h0M248.4 47.7h0" stroke="#80fefc"/><path d="M255.2 46.5h0M259.2 46.4h0M264.8 49.1h0M270.2 46.3h0M276.5 46.8h0M260.1 50.0h0M246.9 48.5h0M252.9 46.3h0M270.7 51.8h0M255.9 52.1h0M279.1 49.5h0M254.3 48.4h0M274.9 49.8h0M250.7 50.4h0M269.8 48.3h0M266.1 47.5h0M253.6 51.3h0M264.0 50.1h0M271.4 46.8h0M255.0 55.4h0M264.9 48.3h0M261.3 50.4h0M263.4 48.1h0M269.7 56.6h0M255.7 45.2h0M248.0 49.7h0M266.5 46.5h0M257.5 46.4h0M245.1 48.6h0M274.8 51.2h0M259.1 49.9h0M272.8 53.0h0M254.2 48.6h0M269.4 46.3h0M265.1 48.8h0M270.4 54.0h0M272.5 52.6h0M270.0 46.8h0M262.3 45.4h0M256.8 51.9h0M281.3 48.8h0" stroke="#80fbee"/><path d="M241.4 48.1h0M261.7 53.3h0M263.8 49.5h0M270.4 50.2h0M251.9 49.1h0M262.5 46.4h0M261.9 48.6h0M268.9 45.1h0M272.2 51.7h0M264.1 46.7h0M272.2 51.5h0M263.7 50.8h0M268.3 46.4h0M252.5 43.9h0M259.9 48.5h0M240.6 52.4h0M255.3 44.6h0M248.4 46.3h0M269.7 51.9h0M246.2 45.3h0M250.3 44.6h0M247.2 43.1h0M257.8 48.0h0M275.1 47.5h0M255.6 46.7h0M259.4 49.2h0M243.8 47.4h0M260.6 44.4h0M244.9 47.2h0M279.4 47.9h0M270.9 46.5h0M245.4 46.2h0M262.0 44.8h0M274.3 47.3h0M268.1 50.5h0M276.7 44.7h0M281.1 48.4h0M254.0 51.4h0M266.8 46.9h0M259.6 47.3h0M257.6 44.4h0M275.8 47.1h0M253.2 47.1h0M276.7 45.7h0M279.5 46.3h0M261.3 46.9h0M266.0 48.7h0M266.0 50.1h0" stroke="#80f8df"/><path d="M252.6 47.3h0M275.0 49.5h0M276.0 48.7h0M278.2 48.0h0M266.6 47.0h0M247.9 50.8h0M252.2 49.0h0M277.7 48.0h0M261.2 44.4h0M259.3 46.8h0M258.3 54.0h0M265.9 46.3h0M282.4 47.6h0M257.8 42.7h0M277.8 49.2h0M269.6 43.6h0M282.3 47.1h0M268.5 47.2h0M265.8 46.4h0M245.5 43.6h0M277.8 46.7h0M254.4 44.3h0M257.5 45.5h0M251.8 49.1h0M245.2 48.8h0M262.4 45.5h0M255.4 48.5h0M275.5 44.8h0M259.8 47.8h0M273.0 48.5h0" stroke="#77f3ce"/><path d="M274.4 51.5h0M262.7 42.5h0M267.1 46.3h0M256.8 41.4h0M268.7 45.3h0M272.9 47.0h0M254.8 42.9h0M239.2 48.3h0M266.4 48.0h0M264.3 48.3h0M273.1 48.1h0M277.7 49.5h0M263.0 50.6h0M264.2 46.2h0M246.3 49.5h0M269.0 46.7h0M256.7 49.2h0M260.5 43.9h0M272.1 45.6h0M257.4 42.9h0M250.6 49.8h0M274.6 50.9h0M274.3 43.5h0M261.3 46.8h0M259.8 51.6h0M264.0 48.2h0M267.6 45.4h0M257.9 44.7h0M280.5 47.3h0M245.3 43.7h0M259.4 42.0h0M255.4 48.2h0M272.6 46.5h0M253.0 43.1h0M248.8 42.6h0M280.2 46.8h0M267.6 43.8h0M259.6 42.1h0M257.0 42.5h0M251.0 43.5h0" stroke="#6ef0bc"/><path d="M260.1 46.8h0M252.0 42.2h0M265.8 40.1h0M256.9 45.7h0M264.2 43.5h0M256.1 47.2h0M247.8 41.8h0M275.5 48.0h0M269.3 46.5h0M262.5 40.2h0M263.8 43.8h0M266.2 43.4h0M277.5 44.6h0M254.9 47.7h0" stroke="#65f0aa"/><path d="M262.0 42.1h0M282.2 44.9h0M248.4 42.5h0M276.8 43.7h0M255.8 40.9h0M280.6 43.8h0M274.9 46.6h0M254.8 46.1h0M254.4 41.6h0M283.4 45.1h0M252.9 42.8h0M258.3 40.9h0M248.4 42.8h0M281.7 46.3h0M261.8 43.1h0M271.0 43.2h0M273.6 43.1h0M266.6 42.5h0M259.8 42.1h0M267.2 43.0h0M266.2 47.4h0" stroke="#5cf094"/><path d="M252.7 40.0h0M279.6 41.9h0M263.7 43.3h0M271.4 41.5h0M247.7 41.1h0M261.0 42.6h0M262.7 42.2h0M268.1 41.8h0M268.4 43.0h0M260.4 40.5h0M268.2 42.1h0M271.9 42.9h0M254.2 41.4h0M272.8 42.4h0M254.4 43.1h0M246.7 42.7h0M265.2 41.9h0M255.6 40.1h0M275.4 45.3h0M277.4 44.2h0M272.9 45.3h0" stroke="#53f079"/><path d="M257.5 40.8h0M277.8 43.1h0M267.4 43.4h0M282.1 43.8h0M271.0 42.5h0M269.7 42.5h0M254.2 39.4h0M267.1 42.2h0M250.4 41.9h0M279.2 42.3h0M260.8 40.1h0M268.2 44.7h0M272.5 40.6h0M263.6 42.4h0M271.4 38.4h0M269.3 43.3h0M257.0 41.4h0M266.3 41.6h0M270.7 41.5h0M261.3 40.3h0" stroke="#4af05f"/><path d="M266.0 42.0h0M281.4 42.4h0M258.3 38.6h0M270.0 43.0h0M266.0 39.7h0M266.9 41.7h0M260.1 39.4h0M280.8 41.3h0M261.5 40.9h0M270.5 40.1h0M281.4 43.6h0M266.9 40.9h0M268.5 41.2h0M259.8 42.7h0M266.9 38.3h0M256.5 42.1h0M258.3 40.6h0M254.9 40.9h0M285.7 40.3h0M257.4 41.7h0" stroke="#41f044"/><path d="M284.4 43.6h0M274.7 40.9h0M271.0 42.0h0M253.6 39.9h0M267.8 39.6h0M267.9 40.0h0M264.1 37.7h0M273.4 41.8h0M273.6 40.0h0M251.5 39.9h0M258.6 40.5h0M269.3 41.5h0M273.3 42.2h0M256.0 38.4h0M279.2 39.9h0" stroke="#3af02d"/><path d="M271.8 39.1h0M268.2 40.4h0M284.1 39.5h0M268.2 38.9h0M271.0 39.7h0M278.7 41.9h0M279.7 42.3h0M269.4 36.3h0M254.9 39.0h0M276.0 41.0h0M266.4 40.4h0M266.5 40.9h0M264.7 38.7h0" stroke="#32f017"/><path d="M273.0 40.6h0M264.5 35.8h0M261.2 40.4h0M272.0 38.6h0M275.9 38.8h0M275.5 38.8h0M265.4 40.6h0M281.9 39.4h0M277.9 40.0h0M270.3 38.1h0M265.0 40.0h0" stroke="#33f010"/><path d="M263.7 37.3h0M275.5 39.1h0M255.5 40.1h0M279.9 38.8h0M276.8 39.2h0M266.6 36.2h0M270.2 38.6h0M272.1 40.9h0" stroke="#36f010"/><path d="M258.5 33.6h0M281.8 37.3h0M272.5 36.7h0M280.6 40.4h0M253.9 35.3h0M278.9 39.4h0M279.4 40.3h0M266.2 38.4h0M268.3 37.6h0M261.2 37.1h0M280.0 38.0h0M250.7 37.4h0M267.8 38.8h0M271.4 36.7h0M266.4 36.1h0M280.1 36.0h0M276.6 38.3h0M248.7 37.3h0M266.5 37.8h0M271.3 35.8h0M258.3 33.8h0M269.2 35.1h0M281.8 37.0h0M255.9 34.4h0M268.5 37.9h0" stroke="#44f012"/><path d="M252.8 34.7h0M273.0 36.6h0M259.6 36.7h0M273.9 35.3h0M277.6 37.6h0M271.7 39.1h0M267.6 36.8h0M256.3 34.5h0M269.9 34.8h0M253.2 35.2h0M271.8 35.6h0M266.2 36.3h0M259.5 35.0h0" stroke="#5af015"/><path d="M272.3 34.4h0M276.3 37.7h0M281.0 36.7h0M276.0 36.3h0M257.4 34.9h0M274.7 35.6h0M274.7 34.9h0M284.0 38.1h0M257.7 35.1h0M275.2 36.1h0M283.2 37.6h0M266.7 34.7h0M252.8 34.3h0M259.5 33.7h0M269.2 33.4h0" stroke="#71f018"/><path d="M279.1 36.0h0M278.1 35.3h0M265.2 35.1h0M275.5 35.1h0M258.6 34.0h0M285.0 35.0h0M282.9 36.2h0M282.5 37.3h0M267.3 35.9h0M263.4 34.3h0" stroke="#87f01c"/><path d="M268.9 36.6h0M275.8 34.5h0M277.1 34.7h0M257.1 33.8h0M259.6 34.1h0M282.5 37.3h0M283.5 37.0h0M264.6 34.3h0" stroke="#9df020"/><path d="M278.2 34.9h0M295.4 34.8h0M267.6 33.2h0M278.5 34.5h0M273.7 33.5h0M284.2 37.6h0M270.5 35.7h0M266.3 33.8h0M276.7 34.1h0M292.3 35.5h0M254.8 33.3h0M262.8 32.9h0M267.9 33.5h0M275.0 34.2h0M268.2 32.7h0" stroke="#adf026"/><path d="M268.3 33.8h0M269.7 33.4h0M285.7 35.7h0M285.0 34.5h0M275.9 33.9h0M274.3 33.3h0M269.7 32.0h0M253.3 33.3h0M272.0 33.8h0M257.8 31.0h0" stroke="#bcf02e"/><path d="M279.7 33.2h0M280.2 33.9h0M280.3 35.4h0M266.5 33.2h0M256.2 32.0h0M280.3 32.9h0M262.1 32.0h0M259.2 32.5h0" stroke="#c9f235"/><path d="M279.2 33.5h0M285.5 35.3h0M280.9 33.9h0M296.9 34.7h0" stroke="#d6f53b"/><path d="M274.5 32.5h0M261.0 30.9h0" stroke="#e2f841"/><path d="M276.5 33.5h0M273.6 32.1h0M268.3 31.6h0M279.2 32.5h0M292.1 32.9h0" stroke="#ebf844"/><path d="M289.7 32.6h0M294.8 33.8h0M288.3 32.9h0M277.1 32.6h0M283.5 33.5h0M263.1 29.8h0M267.9 30.8h0" stroke="#f5f847"/><path d="M267.3 30.0h0M269.8 30.7h0M276.8 31.6h0M280.9 32.5h0M273.9 32.4h0M292.5 33.6h0" stroke="#f3e642"/><path d="M286.9 33.8h0M285.5 32.3h0M286.4 32.6h0M261.6 29.9h0M268.3 29.2h0M278.9 31.3h0M289.8 32.8h0" stroke="#edcb39"/><path d="M268.8 29.4h0M279.4 31.2h0M284.0 31.3h0M290.3 31.9h0" stroke="#eab834"/><path d="M274.3 29.9h0M273.7 30.2h0M277.0 30.0h0M276.4 30.8h0" stroke="#e8a730"/><path d="M272.8 29.3h0M264.5 28.7h0" stroke="#e8992b"/><path d="M272.1 28.5h0" stroke="#e98b27"/><path d="M290.2 31.6h0" stroke="#ec7c24"/><path d="M288.8 29.9h0" stroke="#ed6e22"/><path d="M278.6 29.8h0" stroke="#ee5f20"/><path d="M273.7 28.6h0M295.8 30.5h0" stroke="#ee4e1a"/><path d="M264.3 28.4h0M283.4 28.9h0M289.1 29.7h0M281.4 29.0h0M296.2 28.8h0" stroke="#ef4018"/><path d="M300.6 29.8h0M298.8 27.8h0M277.2 28.4h0M258.2 25.8h0" stroke="#f03218"/><path d="M290.8 28.9h0M259.6 26.5h0" stroke="#f12b16"/><path d="M300.6 28.7h0M279.4 25.4h0" stroke="#f32513"/><path d="M295.5 30.4h0M298.0 29.5h0M298.5 26.8h0M258.0 26.2h0M286.9 28.4h0M296.2 28.6h0" stroke="#f51e10"/></g>
</g>
<g clip-path="url(#c2)"><line x1="194.53" y1="108.86" x2="305.69" y2="13.10" stroke="#111" stroke-width="1.1" stroke-dasharray="3.2,1.8"/>
<line x1="221.3" y1="87.5" x2="299.1" y2="13" stroke="#f52020" stroke-width="1.1"/></g>
<path d="M193.8 13H305.2M193.8 109H305.2" stroke="#222" stroke-width="1.45" fill="none"/>
<path d="M194.5 13V109M304.5 13V109" stroke="#1a1a1a" stroke-width="1.15" fill="none"/>
<path d="M194.53 109v1.2M194.5 108.86h-1.2M197.39 109v1.2M194.5 106.40h-1.2M199.81 109v1.2M194.5 104.32h-1.2M201.90 109v1.2M194.5 102.51h-1.2M203.75 109v1.2M194.5 100.92h-1.2M205.40 109v2.2M194.5 99.50h-2.2M216.27 109v1.2M194.5 90.14h-1.2M222.62 109v1.2M194.5 84.66h-1.2M227.13 109v1.2M194.5 80.78h-1.2M230.63 109v1.2M194.5 77.76h-1.2M233.49 109v1.2M194.5 75.30h-1.2M235.91 109v1.2M194.5 73.22h-1.2M238.00 109v1.2M194.5 71.41h-1.2M239.85 109v1.2M194.5 69.82h-1.2M241.50 109v2.2M194.5 68.40h-2.2M252.37 109v1.2M194.5 59.04h-1.2M258.72 109v1.2M194.5 53.56h-1.2M263.23 109v1.2M194.5 49.68h-1.2M266.73 109v1.2M194.5 46.66h-1.2M269.59 109v1.2M194.5 44.20h-1.2M272.01 109v1.2M194.5 42.12h-1.2M274.10 109v1.2M194.5 40.31h-1.2M275.95 109v1.2M194.5 38.72h-1.2M277.60 109v2.2M194.5 37.30h-2.2M288.47 109v1.2M194.5 27.94h-1.2M294.82 109v1.2M194.5 22.46h-1.2M299.33 109v1.2M194.5 18.58h-1.2M302.83 109v1.2M194.5 15.56h-1.2M194.5 13.10h-1.2" stroke="#222" stroke-width="0.9" fill="none"/>
<text x="205.90" y="122.90" font-size="9.6" text-anchor="middle" fill="#1a1a1a">10<tspan font-size="6.8" dx="-0.3" dy="-3.7">5</tspan></text>
<text x="189.60" y="103.00" font-size="9.6" text-anchor="end" fill="#1a1a1a">10<tspan font-size="6.8" dx="-0.4" dy="-3.7">5</tspan></text>
<text x="242.00" y="122.90" font-size="9.6" text-anchor="middle" fill="#1a1a1a">10<tspan font-size="6.8" dx="-0.3" dy="-3.7">6</tspan></text>
<text x="189.60" y="71.90" font-size="9.6" text-anchor="end" fill="#1a1a1a">10<tspan font-size="6.8" dx="-0.4" dy="-3.7">6</tspan></text>
<text x="278.10" y="122.90" font-size="9.6" text-anchor="middle" fill="#1a1a1a">10<tspan font-size="6.8" dx="-0.3" dy="-3.7">7</tspan></text>
<text x="189.60" y="40.80" font-size="9.6" text-anchor="end" fill="#1a1a1a">10<tspan font-size="6.8" dx="-0.4" dy="-3.7">7</tspan></text>
<text transform="translate(174.00,60.40) rotate(-90)" font-size="10.6" text-anchor="middle" fill="#1a1a1a">Estimation</text>
<text x="240.60" y="7.00" font-size="9.7" fill="#1a1a1a">P<tspan font-size="7.1" dx="0.1" dy="2.3">2</tspan></text>
<text x="203.80" y="23.30" font-size="9.7" fill="#1a1a1a">R=0.87</text>
<text x="203.80" y="35.50" font-size="9.7" fill="#1a1a1a">RE=0.63</text>
<text x="199.30" y="89.00" font-size="9.7" fill="#1a1a1a">1:1</text>
<text x="243.00" y="90.60" font-size="9.7" fill="#f21818">Slope=1.07</text>
<text x="243.00" y="102.60" font-size="9.7" fill="#f21818">Intercept=-0.37</text>
<clipPath id="c3"><rect x="359.5" y="13" width="110.0" height="96"/></clipPath>
<g clip-path="url(#c3)">
<g stroke-width="2.5" stroke-linecap="round" fill="none"><path d="M411.2 75.4h0M425.9 71.6h0M431.2 72.3h0M403.8 89.6h0M404.4 84.2h0M407.5 85.6h0M409.8 85.7h0M411.5 93.3h0M417.7 84.6h0M407.2 82.8h0M409.8 77.8h0M410.7 76.7h0M416.4 76.4h0M400.4 89.6h0M412.4 83.7h0M418.3 79.9h0M411.1 92.8h0M405.1 87.8h0M404.1 84.5h0M414.5 78.1h0M413.4 78.4h0M412.9 97.4h0M423.7 79.3h0M415.8 78.4h0M404.2 85.8h0M418.0 79.0h0M418.2 83.6h0M421.7 74.2h0M406.2 80.1h0M431.1 68.8h0M415.6 84.9h0M413.6 82.1h0M424.5 71.9h0M407.8 83.7h0M415.2 96.4h0M421.6 79.2h0M420.2 83.1h0M415.3 74.7h0M416.4 87.8h0M418.4 69.9h0M414.3 74.2h0M409.2 89.3h0M415.1 77.1h0M410.8 80.5h0M421.6 92.3h0M423.3 70.2h0M408.4 81.2h0M411.1 90.4h0M411.4 85.9h0M411.8 86.0h0M408.5 78.2h0M406.3 85.6h0M411.4 78.8h0M427.0 81.9h0M415.9 75.6h0M420.5 72.5h0M416.8 79.6h0M419.7 72.5h0M429.8 69.5h0M400.6 90.6h0M416.9 91.0h0M419.5 87.3h0M416.8 92.5h0M414.7 76.7h0M413.0 89.3h0M420.2 67.3h0M411.2 80.1h0M421.3 77.6h0M412.0 77.7h0M420.4 89.7h0M422.1 80.9h0M419.4 73.3h0M430.5 73.8h0M433.3 71.6h0M423.7 75.5h0M411.4 80.9h0M403.1 80.0h0M410.5 90.6h0M430.2 72.2h0M409.5 80.4h0M421.1 74.6h0M407.2 88.1h0M422.8 75.1h0M424.1 77.2h0M422.6 71.5h0M431.5 67.7h0M416.4 82.7h0M434.7 67.8h0M406.4 83.9h0M415.2 72.9h0M406.6 82.8h0M410.7 81.6h0M410.9 83.8h0M408.2 76.9h0M419.8 70.5h0M413.0 77.0h0M415.6 83.4h0M413.1 88.1h0M419.6 73.6h0M427.8 81.5h0M409.9 77.6h0M415.8 72.2h0M424.5 75.7h0M417.5 71.6h0M406.7 80.1h0M411.9 68.6h0M418.0 74.7h0M411.4 77.2h0M410.7 72.6h0M418.5 84.8h0M407.2 70.7h0M420.5 89.8h0M427.0 78.1h0M418.5 75.0h0M406.7 69.8h0M408.5 85.7h0M407.3 91.4h0M413.5 96.1h0M424.0 69.4h0M429.3 72.9h0M411.1 81.5h0M417.5 76.2h0M417.7 83.1h0M412.7 71.9h0M425.6 73.2h0M402.7 80.4h0M412.5 89.7h0M414.3 85.5h0M408.3 89.8h0M403.2 78.6h0M423.0 80.9h0M409.8 71.5h0M409.5 84.7h0M402.4 89.1h0M424.7 77.8h0M416.7 74.0h0M418.4 84.3h0M417.6 78.2h0M404.0 94.7h0M408.8 79.5h0M410.5 71.7h0M409.3 88.1h0M426.7 86.4h0M410.3 93.3h0M414.5 97.6h0M410.4 76.3h0M405.4 94.9h0M414.6 71.0h0M410.6 72.2h0M429.9 76.0h0M414.5 74.0h0M407.5 73.3h0M425.9 80.3h0M421.8 71.6h0M405.7 79.9h0M418.0 73.9h0M418.9 87.4h0M422.5 75.7h0M416.1 76.3h0M412.1 76.9h0M415.3 95.7h0M418.3 82.7h0M426.0 74.5h0M408.6 85.3h0M411.5 77.5h0M411.3 73.4h0M411.0 93.6h0M407.8 75.3h0M418.7 77.3h0M407.1 88.6h0M404.7 79.7h0M423.8 73.0h0M409.0 81.9h0M402.6 88.5h0M410.3 80.1h0M416.2 74.5h0M420.0 70.1h0M411.9 67.9h0M412.3 76.9h0M425.9 77.1h0M412.4 79.2h0M417.5 78.5h0M423.4 75.8h0M414.4 88.4h0M413.0 72.4h0M406.5 88.1h0M404.5 81.2h0M414.8 73.5h0M404.9 86.3h0M414.3 92.2h0M413.4 96.4h0M416.3 78.2h0M411.5 92.4h0M402.6 85.1h0M417.7 75.7h0M419.9 74.5h0M417.6 73.2h0M412.5 78.1h0M412.3 81.1h0M406.0 74.4h0M416.0 75.0h0M428.2 75.2h0M412.9 77.9h0M405.5 84.2h0M411.1 80.5h0M407.8 90.2h0M406.3 73.3h0M414.6 80.7h0M410.0 87.4h0M413.7 79.3h0M421.7 78.3h0M415.3 79.4h0M404.2 80.1h0M413.0 93.8h0M416.8 86.3h0M416.0 75.1h0M418.1 67.2h0M417.1 80.0h0M404.3 85.6h0M410.9 72.5h0M419.1 72.4h0M404.9 82.9h0M407.7 82.1h0M412.3 96.2h0M413.5 75.8h0M402.6 84.8h0M408.0 81.7h0M422.0 70.0h0M414.4 70.7h0M412.2 91.2h0M412.7 81.7h0M424.3 73.1h0M406.0 89.6h0M415.1 67.6h0M413.3 91.9h0M415.5 72.1h0M420.7 89.9h0M410.1 73.4h0M420.8 89.7h0M431.4 71.8h0M422.7 72.5h0M428.6 71.6h0M403.9 81.9h0M407.9 77.1h0M410.5 75.3h0M423.2 82.7h0M414.4 68.1h0M408.4 81.2h0M403.4 92.0h0M419.2 71.9h0M417.1 74.4h0M423.8 71.5h0M418.9 78.5h0M409.7 96.3h0M406.1 82.2h0M420.0 74.0h0M412.9 80.8h0M422.1 73.4h0M414.6 74.7h0M401.3 87.7h0M412.8 94.1h0M403.6 90.7h0M420.3 85.4h0M409.5 90.3h0M421.5 82.5h0M428.4 79.6h0M424.2 72.8h0M409.6 70.0h0M410.2 87.4h0M407.0 91.5h0M409.9 79.7h0M403.3 91.4h0M428.9 78.6h0M416.8 91.9h0M419.5 77.6h0M423.0 69.5h0M407.8 71.7h0M408.9 87.3h0M425.7 76.7h0M426.0 72.7h0M409.3 89.1h0M419.4 70.3h0M422.9 72.0h0M405.4 90.7h0M425.8 80.7h0M423.1 71.6h0M407.3 86.6h0M421.0 68.7h0M405.9 93.0h0M404.5 93.9h0M407.8 87.7h0M413.4 68.9h0M426.6 79.9h0M418.4 72.8h0M414.0 91.8h0M422.1 84.3h0M420.6 69.9h0M410.2 96.9h0M406.8 86.5h0M421.6 77.7h0M419.2 80.8h0M411.2 87.6h0M420.4 66.3h0M424.4 72.2h0M409.0 87.9h0M408.8 82.9h0M414.8 90.4h0M435.2 68.0h0M417.8 70.6h0M409.4 87.4h0M415.3 82.9h0M426.0 70.2h0M407.6 91.5h0M423.8 81.9h0M403.1 90.9h0M423.4 67.8h0M418.7 73.9h0M423.5 67.2h0M405.8 77.8h0M406.9 74.6h0M411.6 70.5h0M404.3 85.5h0M414.5 85.0h0M423.9 70.7h0M418.5 66.2h0M410.9 81.7h0M409.3 84.0h0M413.7 67.1h0M433.5 70.1h0M420.9 69.2h0M405.9 87.2h0M421.3 68.5h0M413.2 83.2h0M427.2 72.4h0M420.8 67.5h0M408.5 70.6h0M418.9 81.7h0M406.5 80.8h0M413.2 68.4h0M410.1 92.8h0M430.4 72.9h0M406.4 71.2h0M410.6 80.3h0M436.4 70.6h0M403.6 81.8h0M433.4 68.8h0M419.1 84.4h0M409.3 90.6h0M405.4 89.1h0M407.3 94.2h0M424.6 73.9h0M415.2 75.0h0M420.9 79.3h0M420.5 69.5h0M415.0 67.5h0M408.4 73.1h0M406.8 83.6h0M408.6 90.3h0M414.4 89.6h0M437.1 69.4h0M418.8 88.8h0M418.5 80.1h0M418.2 76.0h0M435.4 70.8h0M408.8 77.4h0M405.0 80.0h0M418.8 76.5h0M411.5 86.3h0M420.6 67.8h0M418.0 74.2h0M416.2 71.5h0M417.7 68.6h0M412.0 84.7h0M432.7 67.8h0M433.1 69.3h0M419.1 79.7h0M434.2 72.1h0M428.0 78.2h0M419.3 66.3h0M422.1 82.8h0M417.8 75.4h0M414.7 93.3h0M423.1 77.8h0M416.4 66.0h0M424.4 72.6h0M422.5 68.0h0M412.5 73.0h0M426.2 71.8h0M409.0 89.9h0M411.1 78.1h0M432.3 63.9h0M408.9 75.7h0M421.4 74.4h0M424.8 70.8h0M440.2 66.6h0M414.4 72.1h0M419.2 71.9h0M413.7 67.5h0" stroke="#0000ff"/><path d="M405.5 86.0h0M421.8 69.8h0M407.3 87.9h0M429.5 74.2h0M432.9 67.8h0M423.6 73.5h0M415.0 68.4h0M425.1 66.2h0M406.6 94.6h0M424.3 67.4h0M424.2 69.6h0M415.1 66.7h0M427.8 74.8h0M422.4 69.9h0M413.1 78.9h0M406.9 71.3h0M425.2 79.6h0M430.4 67.6h0M434.1 66.2h0M438.0 68.2h0M423.9 67.1h0M417.7 67.1h0M422.9 68.6h0" stroke="#0102ff"/><path d="M431.8 67.8h0M420.9 65.6h0M433.3 68.6h0M424.5 71.3h0M417.8 65.8h0M429.5 69.3h0M439.3 67.6h0M425.3 70.6h0M438.7 66.6h0M422.3 64.0h0M418.7 66.0h0M427.9 68.4h0M414.0 66.3h0M418.2 70.3h0M424.3 64.9h0M412.5 68.0h0M436.2 70.5h0M427.3 69.0h0M430.2 63.7h0" stroke="#0a14ff"/><path d="M425.9 67.2h0M415.9 64.5h0M413.0 66.5h0M431.5 67.6h0M436.9 69.9h0M437.4 70.2h0M423.7 69.0h0M427.6 65.7h0M426.1 64.7h0M425.8 65.4h0M422.0 65.2h0M422.8 63.9h0M423.0 64.2h0M414.6 64.1h0M431.8 70.6h0" stroke="#142bff"/><path d="M416.4 67.0h0M426.1 64.3h0M422.9 66.1h0M429.3 68.6h0M422.0 64.3h0M439.8 62.2h0M413.7 65.2h0M420.4 63.3h0M426.3 63.3h0M416.5 64.7h0M420.5 66.4h0M444.8 63.5h0" stroke="#1f4cff"/><path d="M427.8 64.6h0M424.7 68.1h0M435.0 65.2h0M437.1 66.4h0M433.3 62.8h0M428.9 63.0h0M426.8 64.8h0M438.1 61.9h0M423.1 62.9h0M424.5 62.9h0M410.6 66.0h0M415.4 63.6h0M432.0 60.5h0M426.4 63.7h0M435.1 63.8h0M418.1 66.4h0M440.5 63.6h0M414.8 65.2h0" stroke="#2860ff"/><path d="M436.4 63.5h0M415.9 63.7h0M435.1 63.6h0M419.4 63.9h0M434.5 63.7h0M423.5 63.3h0M433.5 64.1h0M443.8 62.5h0M418.7 64.8h0M437.0 62.6h0M416.9 60.4h0M436.2 63.4h0M429.9 64.3h0" stroke="#3172ff"/><path d="M418.9 65.1h0M425.2 60.7h0M448.7 61.5h0M429.2 63.7h0M423.5 64.4h0M427.0 59.8h0M423.9 65.9h0M427.0 61.6h0M422.5 64.1h0M419.4 64.9h0M419.0 66.8h0M432.1 62.6h0M446.4 60.6h0M426.0 61.3h0M415.5 60.6h0M440.1 63.0h0M437.1 62.4h0M419.4 64.1h0" stroke="#3a83ff"/><path d="M440.4 61.7h0M422.9 60.1h0M422.4 61.5h0M420.1 64.5h0M434.7 63.0h0M413.9 62.3h0M430.6 61.7h0M412.5 61.0h0M430.7 60.6h0M431.0 64.3h0M424.8 63.8h0M439.3 63.5h0M418.9 60.4h0M421.2 62.3h0M442.9 58.8h0M438.8 61.3h0M429.1 61.3h0M426.9 61.1h0M434.3 59.0h0M427.2 61.0h0M429.8 61.5h0M432.6 62.0h0M446.0 62.7h0M441.5 61.7h0M433.8 63.0h0" stroke="#4397ff"/><path d="M419.5 61.2h0M427.5 58.9h0M430.6 60.8h0M437.6 60.6h0M431.5 61.8h0M440.8 59.1h0M426.5 60.1h0M417.6 62.9h0M428.7 60.7h0M436.3 59.8h0M438.4 59.1h0M443.2 57.9h0M451.4 58.4h0M424.4 57.0h0M437.2 64.4h0M418.1 60.8h0M425.4 60.1h0M421.4 63.2h0" stroke="#4eadff"/><path d="M431.6 61.5h0M428.5 60.1h0M423.0 56.3h0M413.9 62.7h0M426.9 59.8h0M448.6 57.9h0M443.4 58.2h0M430.1 57.6h0M442.9 59.7h0M427.1 60.8h0M425.9 60.0h0M422.8 64.0h0M431.8 59.0h0M441.1 56.3h0M424.6 57.3h0M431.4 63.3h0M440.4 56.4h0M443.2 61.5h0M422.8 58.7h0" stroke="#58bfff"/><path d="M420.7 58.8h0M432.7 57.2h0M424.8 59.1h0M443.7 61.9h0M431.9 60.2h0M426.4 59.6h0M423.6 60.1h0M427.0 61.5h0M431.7 59.6h0M434.5 58.9h0M443.7 56.4h0M430.4 55.8h0M443.3 58.3h0M433.1 56.6h0M424.3 59.5h0M441.4 59.3h0M423.5 55.9h0M432.4 60.9h0M434.4 60.6h0M427.8 57.9h0M415.9 60.3h0M427.2 59.6h0M442.2 60.5h0M440.7 59.9h0M423.0 59.8h0M449.6 57.7h0M423.3 58.6h0" stroke="#61d1ff"/><path d="M430.3 55.9h0M423.7 57.4h0M437.3 61.1h0M444.1 58.8h0M427.1 58.3h0M448.7 56.8h0M432.6 59.4h0M434.1 57.0h0M431.3 61.7h0M437.3 60.4h0M433.6 57.9h0M438.9 59.1h0M426.9 54.5h0M440.6 57.4h0M416.6 58.8h0M418.2 59.0h0M443.1 60.7h0M445.1 59.1h0M440.2 58.1h0M448.8 57.1h0M416.3 57.1h0M447.2 61.5h0M421.3 58.7h0M439.5 55.8h0" stroke="#72e8ff"/><path d="M437.6 59.1h0M440.8 58.6h0M429.5 56.7h0M430.6 57.4h0M427.3 58.4h0M443.1 57.0h0M429.3 56.5h0M424.3 57.4h0M435.8 59.9h0M416.9 54.9h0M439.5 55.9h0M429.4 57.7h0M425.4 60.4h0M427.3 58.8h0M437.4 56.6h0M426.2 58.6h0M432.4 60.4h0M438.9 61.7h0M436.2 56.2h0M421.9 57.2h0" stroke="#7bf7ff"/><path d="M428.9 54.4h0M434.4 55.2h0M425.3 56.2h0M437.1 56.9h0M450.9 55.1h0M432.0 57.0h0M438.4 56.3h0M446.4 59.2h0M447.8 52.4h0M438.4 56.8h0M427.1 53.8h0M420.3 57.0h0M419.8 57.4h0M435.7 58.6h0M440.7 56.3h0M424.7 55.1h0M433.6 57.9h0M421.5 57.1h0M448.0 55.1h0M441.8 55.7h0M422.5 54.1h0M421.9 54.9h0M442.5 55.3h0M443.2 53.6h0M438.3 56.8h0M440.3 52.5h0" stroke="#80fefc"/><path d="M427.9 55.2h0M444.9 56.3h0M449.8 52.6h0M446.3 53.6h0M429.7 53.2h0M428.4 52.2h0M442.7 52.6h0M443.9 59.6h0M433.8 53.4h0M423.2 55.9h0M442.1 54.8h0M454.8 52.4h0M427.5 53.3h0M431.0 52.0h0M444.2 54.1h0M421.4 53.8h0M429.6 54.8h0M423.3 55.8h0M438.4 54.0h0M428.3 53.1h0M432.7 53.3h0M438.0 56.2h0M426.6 55.7h0" stroke="#80fbee"/><path d="M416.7 56.3h0M442.2 55.4h0M438.6 52.6h0M437.8 57.0h0M427.8 55.1h0M444.9 54.5h0M437.4 55.8h0M442.3 52.1h0M437.3 55.3h0M447.6 56.3h0M433.8 53.3h0M449.3 55.4h0M430.4 53.0h0M448.0 56.3h0M426.5 53.7h0M440.9 55.7h0M443.0 55.8h0M438.5 51.3h0M453.5 52.1h0" stroke="#80f8df"/><path d="M434.7 51.8h0M443.1 54.9h0M446.2 55.1h0M444.4 54.8h0M440.7 55.5h0M446.6 51.7h0M450.4 52.1h0M425.8 52.8h0M453.8 50.7h0M450.8 54.9h0M439.4 53.2h0M433.0 55.6h0" stroke="#77f3ce"/><path d="M437.3 50.2h0M457.1 50.4h0M425.0 54.0h0M434.8 51.3h0M454.8 53.8h0M453.1 52.7h0M440.2 55.2h0M427.0 50.4h0M426.6 55.3h0M429.7 50.4h0M443.1 53.2h0M442.8 52.2h0M445.2 51.5h0M442.1 50.2h0" stroke="#6ef0bc"/><path d="M447.7 51.4h0M430.4 48.9h0M444.0 51.4h0M445.8 53.0h0M430.8 49.1h0M420.4 54.2h0M432.8 51.2h0M446.2 53.3h0M439.3 50.8h0M448.6 48.2h0M425.8 51.6h0M439.9 51.3h0M447.1 51.1h0M451.1 52.4h0M437.0 53.4h0M438.7 53.8h0M451.8 51.5h0M438.6 50.3h0M439.2 53.0h0M444.3 51.5h0" stroke="#65f0aa"/><path d="M443.5 56.2h0M442.7 51.0h0M435.0 54.6h0M435.8 49.6h0M442.8 51.9h0M451.3 50.6h0M424.6 52.2h0M442.1 51.7h0M443.6 51.0h0M445.4 51.4h0M430.4 48.9h0" stroke="#5cf094"/><path d="M430.6 50.9h0M454.1 51.4h0M432.8 50.1h0M446.9 50.6h0M448.5 51.6h0M426.0 50.0h0M438.4 49.8h0M449.8 50.6h0M446.6 47.6h0M433.0 51.2h0M441.0 51.2h0M435.5 49.9h0M449.6 49.0h0M446.3 50.2h0" stroke="#53f079"/><path d="M443.6 50.1h0M436.9 50.3h0M433.8 49.7h0M430.6 50.2h0M424.9 51.4h0M443.1 48.8h0M448.1 50.4h0M424.7 48.6h0M444.6 49.3h0M428.7 49.1h0M454.2 49.2h0M444.3 47.5h0M441.6 52.7h0M452.6 51.7h0M454.9 50.0h0M459.1 49.5h0M436.1 50.7h0M446.8 49.0h0M449.3 51.7h0M430.4 48.2h0M450.5 52.6h0M460.4 48.8h0M444.1 48.2h0" stroke="#4af05f"/><path d="M442.3 49.4h0M448.5 48.4h0M439.8 49.2h0M437.0 50.4h0M445.3 48.9h0M429.3 49.7h0M452.5 47.8h0M444.7 49.7h0M446.8 48.8h0M436.5 51.8h0M438.5 48.3h0M438.0 49.9h0" stroke="#41f044"/><path d="M436.1 45.8h0M450.9 46.4h0M442.1 46.8h0M444.1 49.1h0M449.1 48.0h0M424.8 48.1h0M433.2 49.0h0M454.4 48.0h0M428.9 48.1h0M442.5 48.9h0M443.1 48.4h0M435.2 46.9h0M444.9 50.8h0M434.0 47.9h0M432.3 46.7h0" stroke="#3af02d"/><path d="M449.9 47.2h0M435.5 49.1h0M445.6 47.2h0M427.9 48.0h0M425.7 47.1h0M439.1 49.6h0M426.8 46.6h0M452.6 47.4h0M442.8 46.0h0M437.0 49.1h0M445.3 50.3h0M423.8 48.2h0M445.7 48.7h0M459.5 47.8h0M435.8 48.7h0M436.8 46.4h0" stroke="#32f017"/><path d="M444.1 47.1h0M449.2 47.8h0M437.8 46.4h0M454.3 47.9h0M444.0 48.5h0M454.0 47.6h0M434.9 48.1h0M447.3 46.9h0M451.1 47.6h0M423.9 47.6h0" stroke="#33f010"/><path d="M425.1 46.8h0M457.0 46.7h0M438.0 47.0h0M427.6 48.8h0M442.7 46.4h0M448.4 47.7h0M436.2 45.9h0M432.1 46.8h0" stroke="#36f010"/><path d="M438.8 44.7h0M446.2 45.3h0M451.0 46.0h0M439.2 46.5h0M451.5 46.2h0M440.6 47.5h0M433.5 46.7h0" stroke="#44f012"/><path d="M453.4 45.8h0M441.6 45.8h0M432.1 44.0h0M444.5 46.7h0M427.5 46.6h0M423.1 48.2h0M451.8 43.7h0M441.7 44.8h0M438.5 45.7h0" stroke="#5af015"/><path d="M456.1 43.8h0M451.9 44.9h0M449.8 45.4h0M449.2 47.0h0M447.6 47.1h0M443.6 47.1h0M457.8 46.2h0M451.9 43.4h0M455.9 46.1h0M450.6 45.6h0M455.1 49.0h0M456.3 43.8h0" stroke="#71f018"/><path d="M439.0 45.5h0M430.4 44.9h0M441.6 46.0h0M438.3 44.4h0M450.3 45.7h0M447.3 46.2h0M449.4 44.7h0M460.0 46.0h0M449.3 44.4h0M446.7 46.9h0M456.2 47.3h0M441.0 43.9h0M454.5 43.5h0" stroke="#87f01c"/><path d="M446.1 43.9h0M433.6 43.6h0M443.7 44.7h0M430.2 44.1h0M440.3 45.1h0M449.8 44.3h0M446.7 42.2h0" stroke="#9df020"/><path d="M431.1 43.7h0M438.7 43.3h0M461.4 43.1h0M442.8 43.0h0M439.5 44.5h0M451.5 44.2h0M442.7 42.7h0M426.2 45.1h0M440.9 44.0h0M459.1 42.5h0" stroke="#adf026"/><path d="M452.4 42.8h0M454.7 43.6h0M455.5 43.7h0M443.1 43.0h0" stroke="#bcf02e"/><path d="M441.2 42.6h0M439.9 43.0h0M432.3 43.1h0M442.8 43.2h0M438.0 41.8h0M440.9 41.7h0" stroke="#c9f235"/><path d="M464.9 41.9h0M430.9 43.3h0M452.2 42.8h0M442.6 42.7h0M439.3 43.4h0M462.2 41.4h0" stroke="#d6f53b"/><path d="M431.5 42.5h0M439.5 41.0h0M448.8 42.4h0M452.6 41.4h0M444.6 42.3h0" stroke="#e2f841"/><path d="M433.4 42.7h0" stroke="#ebf844"/><path d="M430.0 41.9h0M448.5 41.9h0M444.7 41.7h0M443.1 42.2h0" stroke="#f5f847"/><path d="M461.3 41.2h0M447.2 42.7h0M448.7 40.7h0M437.5 41.6h0M446.6 41.3h0M457.1 40.5h0" stroke="#f3e642"/><path d="M455.2 40.7h0M446.8 40.7h0M431.6 40.9h0M448.4 40.9h0M438.3 39.6h0" stroke="#edcb39"/><path d="M450.2 39.8h0M460.1 40.0h0" stroke="#eab834"/><path d="M448.0 42.0h0M457.3 40.4h0M448.6 41.0h0M442.6 39.4h0M438.5 40.7h0M437.7 40.4h0" stroke="#e8a730"/><path d="M444.8 40.3h0M436.5 40.7h0" stroke="#e8992b"/><path d="M467.8 38.5h0M440.4 39.9h0" stroke="#e98b27"/><path d="M460.7 40.2h0M452.6 39.6h0" stroke="#ec7c24"/><path d="M464.6 39.1h0M439.2 40.0h0M463.0 39.6h0" stroke="#ed6e22"/><path d="M465.4 39.5h0M442.8 38.5h0M441.3 39.4h0" stroke="#ee5f20"/><path d="M437.7 39.4h0M438.7 37.7h0" stroke="#ee4e1a"/><path d="M438.5 37.6h0M460.5 38.7h0M438.7 38.2h0M446.2 38.4h0" stroke="#ef4018"/><path d="M442.9 38.7h0" stroke="#f03218"/><path d="M450.7 37.7h0M463.3 37.2h0M444.7 35.0h0" stroke="#f12b16"/><path d="M453.0 37.7h0M454.9 37.5h0M459.6 37.6h0" stroke="#f51e10"/></g>
</g>
<g clip-path="url(#c3)"><line x1="359.60" y1="109.00" x2="470.30" y2="13.03" stroke="#111" stroke-width="1.1" stroke-dasharray="3.2,1.8"/>
<line x1="400.1" y1="90.1" x2="468.4" y2="26.3" stroke="#f52020" stroke-width="1.1"/></g>
<path d="M358.8 13H470.2M358.8 109H470.2" stroke="#222" stroke-width="1.45" fill="none"/>
<path d="M359.5 13V109M469.5 13V109" stroke="#1a1a1a" stroke-width="1.15" fill="none"/>
<path d="M359.60 109v2.2M359.5 109.00h-2.2M368.42 109v1.2M359.5 101.35h-1.2M373.58 109v1.2M359.5 96.88h-1.2M377.24 109v1.2M359.5 93.71h-1.2M380.08 109v1.2M359.5 91.25h-1.2M382.40 109v1.2M359.5 89.23h-1.2M384.36 109v1.2M359.5 87.53h-1.2M386.06 109v1.2M359.5 86.06h-1.2M387.56 109v1.2M359.5 84.76h-1.2M388.90 109v2.2M359.5 83.60h-2.2M397.72 109v1.2M359.5 75.95h-1.2M402.88 109v1.2M359.5 71.48h-1.2M406.54 109v1.2M359.5 68.31h-1.2M409.38 109v1.2M359.5 65.85h-1.2M411.70 109v1.2M359.5 63.83h-1.2M413.66 109v1.2M359.5 62.13h-1.2M415.36 109v1.2M359.5 60.66h-1.2M416.86 109v1.2M359.5 59.36h-1.2M418.20 109v2.2M359.5 58.20h-2.2M427.02 109v1.2M359.5 50.55h-1.2M432.18 109v1.2M359.5 46.08h-1.2M435.84 109v1.2M359.5 42.91h-1.2M438.68 109v1.2M359.5 40.45h-1.2M441.00 109v1.2M359.5 38.43h-1.2M442.96 109v1.2M359.5 36.73h-1.2M444.66 109v1.2M359.5 35.26h-1.2M446.16 109v1.2M359.5 33.96h-1.2M447.50 109v2.2M359.5 32.80h-2.2M456.32 109v1.2M359.5 25.15h-1.2M461.48 109v1.2M359.5 20.68h-1.2M465.14 109v1.2M359.5 17.51h-1.2M467.98 109v1.2M359.5 15.05h-1.2M359.5 13.03h-1.2" stroke="#222" stroke-width="0.9" fill="none"/>
<text x="360.10" y="122.90" font-size="9.6" text-anchor="middle" fill="#1a1a1a">10<tspan font-size="6.8" dx="-0.3" dy="-3.7">4</tspan></text>
<text x="354.60" y="112.50" font-size="9.6" text-anchor="end" fill="#1a1a1a">10<tspan font-size="6.8" dx="-0.4" dy="-3.7">4</tspan></text>
<text x="389.40" y="122.90" font-size="9.6" text-anchor="middle" fill="#1a1a1a">10<tspan font-size="6.8" dx="-0.3" dy="-3.7">5</tspan></text>
<text x="354.60" y="87.10" font-size="9.6" text-anchor="end" fill="#1a1a1a">10<tspan font-size="6.8" dx="-0.4" dy="-3.7">5</tspan></text>
<text x="418.70" y="122.90" font-size="9.6" text-anchor="middle" fill="#1a1a1a">10<tspan font-size="6.8" dx="-0.3" dy="-3.7">6</tspan></text>
<text x="354.60" y="61.70" font-size="9.6" text-anchor="end" fill="#1a1a1a">10<tspan font-size="6.8" dx="-0.4" dy="-3.7">6</tspan></text>
<text x="448.00" y="122.90" font-size="9.6" text-anchor="middle" fill="#1a1a1a">10<tspan font-size="6.8" dx="-0.3" dy="-3.7">7</tspan></text>
<text x="354.60" y="36.30" font-size="9.6" text-anchor="end" fill="#1a1a1a">10<tspan font-size="6.8" dx="-0.4" dy="-3.7">7</tspan></text>
<text transform="translate(339.00,60.40) rotate(-90)" font-size="10.6" text-anchor="middle" fill="#1a1a1a">Estimation</text>
<text x="405.40" y="6.90" font-size="9.7" fill="#1a1a1a">P<tspan font-size="7.1" dx="0.1" dy="2.3">3</tspan></text>
<text x="365.60" y="24.00" font-size="9.7" fill="#1a1a1a">R=0.87</text>
<text x="365.60" y="36.30" font-size="9.7" fill="#1a1a1a">RE=0.69</text>
<text x="365.40" y="88.00" font-size="9.7" fill="#1a1a1a">1:1</text>
<text x="407.20" y="93.40" font-size="9.7" fill="#f21818">Slope=1.08</text>
<text x="407.20" y="105.60" font-size="9.7" fill="#f21818">Intercept=-1.08</text>
<clipPath id="c4"><rect x="524.5" y="13" width="110.0" height="96"/></clipPath>
<g clip-path="url(#c4)">
<g stroke-width="2.5" stroke-linecap="round" fill="none"><path d="M582.1 76.9h0M572.3 74.2h0M572.3 68.2h0M575.5 78.0h0M575.9 71.0h0M591.7 70.8h0M577.6 80.5h0M586.6 70.1h0M569.5 82.9h0M590.0 72.4h0M577.8 64.7h0M575.7 69.1h0M578.2 65.2h0M578.1 72.7h0M577.8 67.5h0M590.2 66.9h0M576.8 80.9h0M580.2 77.9h0M576.1 75.0h0M574.8 76.4h0M584.4 70.5h0M573.7 83.0h0M573.8 73.4h0M584.6 70.3h0M588.8 73.2h0M573.3 75.6h0M576.8 83.4h0M585.6 72.4h0M576.9 69.2h0M569.8 73.1h0M583.1 76.1h0M581.0 66.4h0M569.2 76.5h0M588.4 66.0h0M584.0 76.2h0M581.3 65.3h0M583.3 76.2h0M577.1 71.5h0M591.6 68.3h0M574.6 75.8h0M579.9 79.3h0M582.2 74.3h0M589.2 74.2h0M576.6 79.5h0M577.3 67.2h0M571.9 72.3h0M582.6 71.0h0M571.5 71.4h0M594.4 67.8h0M582.7 79.8h0M592.6 70.1h0M575.8 74.6h0M572.2 81.0h0M574.5 72.8h0M581.4 74.0h0M583.9 69.8h0M572.2 65.7h0M575.1 78.6h0M591.2 67.9h0M573.4 72.2h0M570.9 69.9h0M590.9 73.8h0M575.0 79.7h0M585.2 76.0h0M580.8 79.9h0M570.8 73.8h0M581.3 72.4h0M569.9 82.4h0M599.2 66.0h0M569.8 77.2h0M576.7 69.3h0M572.9 73.9h0M575.2 76.9h0M579.1 78.5h0M567.0 76.0h0M569.5 76.6h0M573.1 70.9h0M589.0 70.4h0M568.1 74.3h0M571.8 74.1h0M575.8 82.2h0M582.5 72.0h0M589.5 66.6h0M574.2 70.8h0M576.9 72.2h0M569.0 74.4h0M574.6 81.5h0M593.5 70.4h0M568.5 77.3h0M572.1 70.9h0M577.6 75.3h0M571.9 75.6h0M574.9 72.7h0M588.3 69.9h0M573.0 77.3h0M578.5 68.0h0M570.9 82.6h0M585.2 68.0h0M575.1 70.0h0M568.2 74.7h0M578.1 71.3h0M576.1 79.6h0M581.0 82.8h0M581.9 82.4h0M572.9 78.6h0M585.3 76.1h0M573.0 69.3h0M566.7 79.5h0M581.8 81.5h0M583.6 70.0h0M583.7 73.5h0M592.0 68.9h0M583.5 72.2h0M566.1 80.3h0M583.9 75.9h0M580.3 76.3h0M583.5 67.0h0M577.7 79.0h0M574.5 64.4h0M580.3 67.0h0M594.2 66.6h0M567.4 75.9h0M589.9 71.5h0M585.8 66.8h0M566.1 77.8h0M590.4 70.8h0M578.6 79.1h0M567.1 75.0h0M582.1 73.2h0M577.6 75.9h0M587.4 72.3h0M566.5 77.0h0M584.5 64.3h0M571.0 67.4h0M574.8 68.9h0M590.7 65.9h0M582.3 70.0h0M581.4 72.9h0M590.1 65.3h0M583.5 81.8h0M578.7 75.5h0M585.4 69.2h0M572.3 79.9h0M579.2 81.6h0M575.9 79.0h0M589.5 68.4h0M574.3 75.8h0M572.0 72.1h0M570.4 71.2h0M580.9 67.3h0M587.6 68.3h0M590.9 65.2h0M584.7 66.4h0M575.6 67.3h0M591.6 68.7h0M580.0 73.5h0M590.7 63.9h0M584.7 78.2h0M578.6 66.3h0M573.8 75.6h0M581.1 70.6h0M574.0 72.8h0M574.6 69.6h0M600.1 61.9h0M575.2 79.7h0M594.1 66.1h0M574.8 76.5h0M573.6 78.4h0M582.1 83.4h0M577.7 65.4h0M581.3 72.8h0M586.6 71.7h0M593.4 65.3h0M573.7 73.5h0M570.7 73.2h0M582.2 68.9h0M574.5 82.1h0M586.7 68.6h0M571.2 68.1h0M571.4 74.1h0M581.8 78.6h0M585.7 72.8h0M567.6 73.5h0M578.6 68.5h0M573.9 68.0h0M588.2 70.9h0M574.5 72.9h0M580.5 65.3h0M581.7 69.5h0M584.5 78.3h0M586.9 66.1h0M574.2 74.1h0M591.2 71.4h0M571.9 65.2h0M586.8 67.6h0M566.9 77.9h0M578.1 72.2h0M587.2 74.5h0M567.9 81.3h0M579.1 81.9h0M578.0 70.5h0M566.8 75.3h0M577.3 63.1h0M583.4 71.0h0M571.7 77.3h0M570.6 72.5h0M582.0 71.3h0M581.5 78.0h0M585.3 70.3h0M567.9 77.6h0M594.6 67.9h0M579.9 69.5h0M580.8 80.2h0M580.8 67.9h0M570.3 74.3h0M567.9 79.2h0M582.2 79.5h0M584.0 69.3h0M603.0 61.7h0M573.8 69.9h0M592.0 68.0h0M596.2 66.5h0M575.5 75.1h0M583.8 65.1h0M592.3 68.4h0M577.0 76.6h0M582.9 65.6h0M570.2 68.0h0M576.8 79.1h0M576.3 84.8h0M573.6 64.5h0M586.8 75.0h0M575.2 70.2h0M571.9 63.8h0M578.8 68.5h0M574.9 69.6h0M578.2 69.4h0M571.5 67.2h0M576.9 67.1h0M583.1 75.7h0M584.7 83.5h0M592.6 62.9h0M584.2 69.2h0M581.3 71.8h0M586.7 65.1h0M583.1 73.6h0M584.9 79.4h0M573.8 76.6h0M575.1 75.0h0M584.5 72.6h0M578.9 70.4h0M581.5 72.4h0M582.1 63.2h0M566.7 74.8h0M569.5 70.8h0M574.9 75.9h0M567.0 77.8h0M573.4 70.8h0M582.9 67.2h0M579.4 64.8h0M576.9 63.1h0M576.6 75.5h0M579.4 82.5h0M577.7 77.9h0M584.6 75.8h0M591.1 67.0h0M580.6 65.9h0M586.2 67.2h0M585.8 73.6h0M575.2 73.2h0M589.2 65.4h0M588.6 65.8h0M570.3 70.8h0M582.9 70.8h0M564.9 79.7h0M587.0 65.3h0M572.0 82.4h0M572.6 81.1h0M587.9 70.1h0M575.0 78.3h0M591.3 65.3h0M573.9 67.5h0M570.6 77.6h0M567.8 72.4h0M578.2 64.9h0M581.2 80.9h0M571.7 65.4h0M571.6 66.0h0M586.4 66.3h0M591.7 70.1h0M587.0 67.9h0M576.8 61.9h0M569.9 67.6h0M575.4 65.3h0M578.9 85.5h0" stroke="#0000ff"/><path d="M579.4 80.9h0M591.8 63.2h0M576.4 82.0h0M575.6 65.8h0M571.1 72.4h0M574.7 69.6h0M586.0 66.6h0M572.6 66.7h0M575.6 64.4h0M576.1 65.2h0M573.1 66.5h0M595.8 62.5h0M579.0 67.4h0M581.4 66.9h0M578.8 65.9h0M590.6 62.6h0M587.3 63.3h0M591.5 66.1h0M580.9 64.8h0M584.8 66.8h0M593.5 66.3h0M575.8 64.3h0M596.4 63.3h0M580.0 68.7h0M584.7 65.4h0M578.8 64.7h0M584.1 61.7h0M594.9 60.6h0M584.2 64.5h0M579.9 63.5h0" stroke="#0102ff"/><path d="M590.0 64.0h0M579.1 64.4h0M571.8 70.6h0M597.3 63.8h0M586.7 62.8h0M593.7 63.3h0M581.7 62.9h0M580.8 62.3h0M591.0 64.9h0M583.5 60.0h0M587.0 61.0h0M589.8 64.9h0M582.7 62.4h0M575.7 64.2h0M596.0 64.1h0M583.4 61.3h0M585.2 63.3h0M587.0 62.4h0M590.4 60.5h0" stroke="#0a14ff"/><path d="M581.1 63.0h0M581.4 62.7h0M578.8 61.6h0M581.9 62.7h0M592.5 61.0h0M601.2 63.8h0M575.3 65.9h0M588.7 65.0h0M596.5 60.9h0M582.5 60.5h0M589.3 61.9h0M584.6 61.8h0M592.0 60.3h0M586.8 60.6h0M584.0 61.0h0M599.9 63.6h0M595.9 66.0h0M579.0 62.8h0M575.2 60.4h0M577.9 61.8h0M604.9 60.8h0M585.7 62.8h0M587.3 62.1h0M598.9 57.0h0" stroke="#142bff"/><path d="M573.9 60.4h0M602.2 61.8h0M590.5 61.7h0M597.8 58.9h0M598.0 60.9h0M573.7 62.2h0M572.0 64.2h0M585.2 61.2h0M601.1 58.8h0M579.3 62.7h0M587.1 60.0h0M590.7 62.8h0M600.7 61.9h0M579.3 60.7h0M590.5 60.2h0" stroke="#1f4cff"/><path d="M586.5 64.5h0M598.5 60.5h0M575.2 60.2h0M581.8 60.3h0M596.8 59.7h0M587.7 60.0h0M595.1 59.9h0M586.1 59.8h0M583.6 63.2h0M587.8 58.7h0M602.0 58.5h0M597.5 59.0h0M599.0 58.2h0M599.7 59.9h0M586.1 57.6h0M591.4 59.8h0M576.2 57.0h0M582.5 59.1h0" stroke="#2860ff"/><path d="M580.9 58.9h0M599.8 59.8h0M582.2 60.7h0M594.0 60.4h0M602.2 60.3h0M590.0 59.9h0M583.6 58.4h0M579.3 61.1h0M584.0 58.4h0M589.8 59.9h0M588.3 55.5h0M588.0 61.2h0M580.8 58.4h0M578.1 60.8h0M599.4 57.7h0M592.9 60.1h0" stroke="#3172ff"/><path d="M598.3 57.5h0M600.6 58.9h0M597.6 57.3h0M581.7 60.3h0M582.6 59.0h0M586.6 60.6h0M607.6 56.8h0M607.1 58.2h0M590.7 58.7h0M597.0 58.0h0M599.4 58.6h0M600.9 52.2h0M592.9 60.2h0M607.0 54.6h0M604.4 60.0h0M586.6 60.0h0M588.5 59.8h0M592.2 59.2h0M593.3 58.5h0M602.7 58.1h0M595.2 54.9h0M600.3 58.4h0" stroke="#3a83ff"/><path d="M585.1 59.7h0M581.2 56.9h0M580.4 55.4h0M598.2 61.4h0M596.7 56.6h0M591.4 56.0h0M594.2 58.3h0M598.6 55.2h0M595.2 58.3h0M603.6 56.8h0M591.7 58.8h0M594.0 57.0h0M580.6 58.6h0M591.7 57.3h0M594.0 59.3h0M606.4 54.2h0M598.9 54.8h0M591.0 59.1h0M578.0 59.9h0" stroke="#4397ff"/><path d="M579.1 54.0h0M606.0 56.9h0M606.9 58.8h0M593.3 60.1h0M582.3 55.5h0M595.5 60.7h0M599.1 57.2h0M595.2 58.3h0M588.3 57.9h0M593.4 60.0h0M585.7 56.7h0M591.0 56.5h0M591.9 58.6h0M595.4 54.3h0M594.4 59.0h0M599.1 54.6h0M604.6 54.8h0M586.0 56.3h0M604.3 58.0h0M589.4 57.5h0M602.2 55.3h0M598.0 58.4h0M597.0 53.9h0M583.1 51.1h0M589.3 55.9h0M600.7 59.3h0M595.0 54.9h0M596.4 59.1h0M590.6 55.1h0" stroke="#4eadff"/><path d="M582.4 56.0h0M591.3 55.8h0M580.8 58.1h0M590.3 57.1h0M592.0 57.0h0M585.0 52.4h0M594.5 55.3h0M591.1 56.5h0M608.6 56.8h0M590.9 60.9h0M592.5 54.4h0M604.6 56.2h0M584.0 55.7h0M579.0 55.1h0M597.3 52.3h0M598.0 55.3h0M593.2 56.5h0M606.0 55.0h0M600.9 56.3h0M577.7 55.2h0M584.3 54.4h0M599.0 56.2h0M583.8 57.9h0M584.7 57.2h0M592.7 56.2h0M593.1 56.7h0M585.7 59.6h0" stroke="#58bfff"/><path d="M582.0 54.5h0M579.8 54.7h0M606.2 56.4h0M592.0 54.5h0M594.9 56.8h0M591.7 53.6h0M604.6 55.4h0M598.2 56.4h0M602.2 55.5h0M610.7 54.0h0M580.1 51.8h0M598.5 55.6h0M597.8 54.5h0M591.4 56.5h0M589.9 56.5h0M607.8 55.3h0M591.1 56.3h0M596.4 58.0h0M580.1 57.1h0M601.2 55.8h0M582.4 55.3h0M580.7 55.1h0M591.6 51.9h0M615.2 51.7h0M605.0 54.1h0M598.1 55.9h0M595.2 55.3h0M586.2 55.7h0M598.3 52.4h0M600.5 50.8h0" stroke="#61d1ff"/><path d="M602.5 54.3h0M606.5 54.1h0M589.1 58.1h0M583.7 56.2h0M580.2 57.1h0M596.9 55.2h0M599.6 53.6h0M590.2 51.3h0M597.1 55.5h0M576.2 56.7h0M597.3 53.7h0M585.8 51.6h0M608.4 53.5h0M600.0 52.5h0M595.0 55.8h0M583.8 54.3h0M579.9 54.9h0M580.1 55.7h0" stroke="#72e8ff"/><path d="M606.2 54.9h0M580.8 50.7h0M594.5 53.0h0M595.0 55.7h0M601.7 48.7h0M576.4 55.4h0M605.7 52.8h0M587.3 52.9h0M593.2 55.2h0M611.2 54.3h0M587.4 52.5h0M583.2 55.3h0M592.2 53.9h0M594.6 50.9h0M602.4 50.3h0M585.8 52.6h0M596.4 52.6h0M582.6 55.5h0M595.4 52.5h0M587.8 53.3h0M598.3 54.2h0" stroke="#7bf7ff"/><path d="M584.2 52.9h0M590.2 53.1h0M597.1 54.1h0M580.7 54.6h0M606.2 51.3h0M606.7 52.9h0M584.2 48.9h0M592.5 52.1h0M587.8 51.7h0M579.8 52.8h0M583.2 52.2h0M598.0 50.6h0M583.1 50.9h0M598.0 55.3h0M598.1 52.0h0M595.4 55.0h0M605.5 54.9h0M603.6 50.6h0M596.6 52.1h0M578.6 53.8h0M600.8 50.0h0M598.7 51.0h0M587.7 50.2h0M596.6 56.3h0M603.8 50.7h0M578.8 59.1h0M591.4 50.9h0M594.3 53.9h0M601.4 48.9h0M607.9 50.3h0" stroke="#80fefc"/><path d="M595.6 49.2h0M606.8 54.6h0M587.1 51.0h0M587.1 51.9h0M590.1 48.5h0M587.4 51.7h0M591.4 52.9h0M600.2 50.1h0M595.9 50.2h0M600.5 52.2h0M603.7 53.2h0M591.9 51.2h0" stroke="#80fbee"/><path d="M610.5 48.8h0M589.6 55.1h0M586.2 49.1h0M595.4 50.2h0M607.7 53.9h0M613.4 48.4h0M593.4 49.9h0M596.7 51.7h0M599.6 53.6h0M593.3 50.6h0M597.8 50.6h0M614.5 50.9h0M608.6 50.0h0M582.7 53.4h0M589.3 50.2h0M601.0 55.8h0M616.1 47.5h0M602.0 51.3h0M593.6 49.2h0M585.7 48.0h0M589.6 50.3h0M602.6 52.4h0M604.6 48.6h0" stroke="#80f8df"/><path d="M603.7 51.0h0M597.9 50.2h0M602.1 49.1h0M599.5 51.9h0M596.4 50.5h0M604.6 49.3h0M607.7 48.9h0M592.3 49.5h0M587.9 52.5h0M599.7 54.7h0M607.3 51.2h0M587.2 48.2h0M599.0 54.1h0M588.5 49.1h0M601.9 48.7h0M586.2 49.1h0M601.8 47.8h0M593.7 49.1h0M604.5 49.8h0M600.7 48.1h0M602.5 49.3h0M596.5 49.1h0" stroke="#77f3ce"/><path d="M608.4 47.9h0M609.1 48.0h0M599.9 46.4h0M595.2 50.4h0M594.9 48.2h0M606.3 48.7h0M608.5 47.8h0M607.4 47.5h0M598.5 51.2h0M590.3 47.8h0M598.2 50.0h0M603.4 48.4h0M593.2 47.2h0M597.1 50.1h0M598.5 47.7h0M593.1 48.9h0M597.8 48.7h0M611.0 47.5h0" stroke="#6ef0bc"/><path d="M586.9 49.2h0M597.2 47.1h0M615.1 46.6h0M606.1 48.7h0M609.4 45.5h0M593.9 46.8h0M611.7 44.8h0M597.3 46.0h0M610.6 47.1h0M604.8 51.5h0M587.0 47.1h0M605.9 49.0h0M606.8 47.2h0M598.2 49.9h0M597.6 46.6h0M599.8 47.4h0M603.0 46.5h0M596.1 47.8h0" stroke="#65f0aa"/><path d="M590.7 50.1h0M603.7 47.1h0M602.5 45.3h0M591.2 45.8h0M600.4 48.0h0M601.7 49.1h0M607.8 49.0h0M601.0 48.8h0M605.3 44.9h0M584.5 48.8h0M590.7 49.3h0M609.5 47.5h0M609.5 49.7h0M595.6 48.6h0" stroke="#5cf094"/><path d="M604.9 47.7h0M614.3 47.4h0M607.5 44.4h0M609.8 45.7h0M596.7 46.4h0M614.0 44.7h0M597.5 44.1h0M598.4 47.7h0M609.2 45.0h0M588.9 47.1h0M606.8 46.9h0M603.8 49.8h0M614.8 46.7h0M608.3 45.4h0M613.3 46.6h0M605.2 48.9h0M596.8 46.4h0M603.2 45.9h0M586.4 46.7h0M606.5 46.4h0M605.3 46.0h0M592.9 47.7h0M616.7 44.7h0M598.8 44.5h0M597.0 47.4h0" stroke="#53f079"/><path d="M611.8 45.5h0M597.3 46.2h0M610.4 46.5h0M614.7 45.4h0M604.5 44.0h0M608.4 45.8h0M603.7 45.6h0M616.4 45.7h0M610.1 45.5h0M612.6 46.5h0M614.5 46.7h0M615.6 45.7h0M602.8 47.7h0M605.9 44.4h0" stroke="#4af05f"/><path d="M618.7 42.9h0M603.0 45.4h0M595.7 45.2h0M603.8 45.0h0M607.9 47.9h0M604.0 48.6h0M584.5 46.8h0M612.1 45.9h0M591.4 46.1h0M605.8 46.5h0M598.5 44.7h0M594.7 44.4h0M607.6 44.0h0M601.7 45.2h0M600.2 44.7h0" stroke="#41f044"/><path d="M612.5 45.6h0M593.9 43.6h0M599.2 48.0h0M618.4 41.8h0M596.1 46.4h0M599.2 45.1h0M607.4 44.8h0M585.6 48.2h0M593.5 44.4h0M619.4 45.9h0M591.5 48.1h0M599.8 43.1h0M606.1 43.8h0M590.2 44.0h0M598.4 44.0h0M600.8 46.0h0M607.7 46.5h0M601.0 45.0h0M605.4 43.0h0" stroke="#3af02d"/><path d="M610.5 45.5h0M604.1 45.3h0M604.4 44.4h0M612.4 45.6h0M592.6 44.3h0M594.3 44.4h0M606.1 44.9h0M592.8 45.7h0M608.2 43.8h0M589.6 42.2h0M611.4 42.6h0" stroke="#32f017"/><path d="M611.1 44.2h0M592.0 44.1h0M604.1 42.3h0M606.5 44.7h0M620.2 43.1h0M591.4 43.7h0M610.2 44.2h0M602.2 44.3h0M611.6 42.7h0M603.9 43.4h0M613.1 43.2h0M597.2 41.0h0M595.3 43.1h0" stroke="#33f010"/><path d="M605.7 42.0h0M603.5 43.3h0M596.8 42.8h0M613.9 43.4h0M622.1 42.6h0M609.3 42.9h0M598.9 43.6h0M602.4 41.4h0" stroke="#36f010"/><path d="M615.9 42.9h0M600.0 42.3h0M616.7 42.5h0M598.2 42.4h0M620.7 43.0h0M621.3 42.6h0M610.5 40.0h0M607.5 43.1h0M612.4 42.0h0" stroke="#44f012"/><path d="M602.4 43.3h0M618.0 41.1h0M608.2 41.1h0M601.5 42.0h0M600.8 40.1h0M613.1 43.5h0M628.0 41.2h0M610.6 41.1h0M618.1 43.1h0M598.6 42.7h0M611.5 40.7h0M599.0 43.6h0M597.5 40.3h0M601.7 40.5h0M626.3 41.6h0M610.5 42.7h0" stroke="#5af015"/><path d="M592.3 41.6h0M624.6 39.8h0M616.2 40.1h0M602.5 42.1h0M603.6 40.6h0M622.2 39.8h0" stroke="#71f018"/><path d="M612.9 41.5h0M616.4 40.9h0M599.2 41.6h0M590.6 42.8h0M609.7 41.7h0M617.0 41.3h0M601.6 41.6h0M604.3 40.1h0M608.5 38.9h0M590.9 41.1h0M600.4 41.5h0M615.8 40.4h0M603.9 40.3h0M613.1 41.1h0" stroke="#87f01c"/><path d="M623.1 40.9h0M616.6 40.4h0M607.7 40.4h0M596.6 39.3h0M606.1 41.5h0M625.0 41.1h0M593.7 39.7h0M594.2 40.0h0M624.0 40.7h0M605.8 39.5h0M615.3 41.0h0M596.6 41.7h0" stroke="#9df020"/><path d="M602.6 42.0h0M592.3 39.8h0M595.3 40.4h0M601.7 40.4h0M603.8 42.5h0M594.8 40.4h0M615.8 40.3h0M612.0 41.1h0M599.5 39.9h0M597.8 39.4h0M593.1 40.2h0" stroke="#adf026"/><path d="M604.7 39.8h0M601.2 39.0h0M608.3 42.1h0M599.4 40.3h0M598.1 39.3h0M598.1 39.0h0M611.4 39.7h0M612.9 38.7h0M598.1 37.8h0M609.0 38.3h0M598.8 40.9h0M596.4 39.9h0M617.6 38.9h0M594.6 39.0h0" stroke="#bcf02e"/><path d="M595.9 37.5h0M618.2 38.1h0M619.4 39.7h0M598.0 39.6h0M618.6 38.0h0M605.2 38.8h0M598.7 38.8h0M599.2 38.8h0" stroke="#c9f235"/><path d="M599.1 38.7h0M612.8 39.2h0M626.1 38.9h0M629.1 38.2h0" stroke="#d6f53b"/><path d="M606.7 38.2h0M616.4 39.1h0M599.1 38.0h0M609.0 37.2h0M624.1 37.7h0M594.6 38.3h0M605.1 38.1h0M596.9 38.0h0M612.5 37.2h0M603.0 37.3h0M609.8 38.0h0" stroke="#e2f841"/><path d="M612.9 38.3h0M609.7 37.7h0M615.7 37.7h0M623.8 40.1h0M607.5 38.3h0M603.7 38.6h0M627.5 38.7h0M597.2 37.3h0M613.8 37.3h0" stroke="#ebf844"/><path d="M615.2 37.9h0M609.2 37.2h0M593.5 37.8h0" stroke="#f5f847"/><path d="M599.3 37.7h0M601.0 38.3h0M613.2 37.7h0M604.3 37.4h0M611.3 36.7h0M622.7 37.2h0" stroke="#f3e642"/><path d="M596.2 36.8h0M628.8 36.9h0M615.9 36.9h0" stroke="#edcb39"/><path d="M621.0 37.7h0M595.5 37.0h0M601.1 36.5h0" stroke="#eab834"/><path d="M625.7 37.2h0M613.9 36.1h0M601.2 36.4h0M628.5 36.9h0M605.4 36.9h0M616.0 36.9h0" stroke="#e8a730"/><path d="M610.1 35.7h0M601.9 37.4h0M609.2 36.1h0M626.0 36.0h0" stroke="#e8992b"/><path d="M615.4 36.3h0M631.4 35.9h0M613.2 35.9h0M596.4 36.6h0M602.1 36.1h0" stroke="#e98b27"/><path d="M610.2 34.5h0M603.7 34.7h0M606.5 34.4h0M616.0 36.1h0" stroke="#ed6e22"/><path d="M627.2 34.5h0M605.8 35.5h0M603.0 34.1h0M603.7 34.6h0" stroke="#ee5f20"/><path d="M608.6 35.6h0M611.8 34.8h0M597.8 33.9h0M612.0 35.0h0M632.3 34.3h0" stroke="#ee4e1a"/><path d="M602.0 35.0h0M626.2 33.8h0M632.9 33.7h0M605.1 33.4h0M609.8 33.5h0M630.4 34.7h0M624.7 35.4h0" stroke="#ef4018"/><path d="M596.2 34.3h0M631.2 33.8h0M611.1 33.9h0" stroke="#f03218"/><path d="M600.2 34.8h0M603.8 33.1h0" stroke="#f12b16"/><path d="M606.2 33.5h0M626.2 33.2h0" stroke="#f32513"/><path d="M604.1 34.4h0M594.5 32.6h0M628.6 31.4h0M620.5 30.5h0" stroke="#f51e10"/></g>
</g>
<g clip-path="url(#c4)"><line x1="524.60" y1="109.00" x2="635.30" y2="13.03" stroke="#111" stroke-width="1.1" stroke-dasharray="3.2,1.8"/>
<line x1="565.8" y1="80.8" x2="633.4" y2="20.5" stroke="#f52020" stroke-width="1.1"/></g>
<path d="M523.8 13H635.2M523.8 109H635.2" stroke="#222" stroke-width="1.45" fill="none"/>
<path d="M524.5 13V109M634.5 13V109" stroke="#1a1a1a" stroke-width="1.15" fill="none"/>
<path d="M524.60 109v2.2M524.5 109.00h-2.2M533.42 109v1.2M524.5 101.35h-1.2M538.58 109v1.2M524.5 96.88h-1.2M542.24 109v1.2M524.5 93.71h-1.2M545.08 109v1.2M524.5 91.25h-1.2M547.40 109v1.2M524.5 89.23h-1.2M549.36 109v1.2M524.5 87.53h-1.2M551.06 109v1.2M524.5 86.06h-1.2M552.56 109v1.2M524.5 84.76h-1.2M553.90 109v2.2M524.5 83.60h-2.2M562.72 109v1.2M524.5 75.95h-1.2M567.88 109v1.2M524.5 71.48h-1.2M571.54 109v1.2M524.5 68.31h-1.2M574.38 109v1.2M524.5 65.85h-1.2M576.70 109v1.2M524.5 63.83h-1.2M578.66 109v1.2M524.5 62.13h-1.2M580.36 109v1.2M524.5 60.66h-1.2M581.86 109v1.2M524.5 59.36h-1.2M583.20 109v2.2M524.5 58.20h-2.2M592.02 109v1.2M524.5 50.55h-1.2M597.18 109v1.2M524.5 46.08h-1.2M600.84 109v1.2M524.5 42.91h-1.2M603.68 109v1.2M524.5 40.45h-1.2M606.00 109v1.2M524.5 38.43h-1.2M607.96 109v1.2M524.5 36.73h-1.2M609.66 109v1.2M524.5 35.26h-1.2M611.16 109v1.2M524.5 33.96h-1.2M612.50 109v2.2M524.5 32.80h-2.2M621.32 109v1.2M524.5 25.15h-1.2M626.48 109v1.2M524.5 20.68h-1.2M630.14 109v1.2M524.5 17.51h-1.2M632.98 109v1.2M524.5 15.05h-1.2M524.5 13.03h-1.2" stroke="#222" stroke-width="0.9" fill="none"/>
<text x="525.10" y="122.90" font-size="9.6" text-anchor="middle" fill="#1a1a1a">10<tspan font-size="6.8" dx="-0.3" dy="-3.7">4</tspan></text>
<text x="519.60" y="112.50" font-size="9.6" text-anchor="end" fill="#1a1a1a">10<tspan font-size="6.8" dx="-0.4" dy="-3.7">4</tspan></text>
<text x="554.40" y="122.90" font-size="9.6" text-anchor="middle" fill="#1a1a1a">10<tspan font-size="6.8" dx="-0.3" dy="-3.7">5</tspan></text>
<text x="519.60" y="87.10" font-size="9.6" text-anchor="end" fill="#1a1a1a">10<tspan font-size="6.8" dx="-0.4" dy="-3.7">5</tspan></text>
<text x="583.70" y="122.90" font-size="9.6" text-anchor="middle" fill="#1a1a1a">10<tspan font-size="6.8" dx="-0.3" dy="-3.7">6</tspan></text>
<text x="519.60" y="61.70" font-size="9.6" text-anchor="end" fill="#1a1a1a">10<tspan font-size="6.8" dx="-0.4" dy="-3.7">6</tspan></text>
<text x="613.00" y="122.90" font-size="9.6" text-anchor="middle" fill="#1a1a1a">10<tspan font-size="6.8" dx="-0.3" dy="-3.7">7</tspan></text>
<text x="519.60" y="36.30" font-size="9.6" text-anchor="end" fill="#1a1a1a">10<tspan font-size="6.8" dx="-0.4" dy="-3.7">7</tspan></text>
<text transform="translate(504.00,60.40) rotate(-90)" font-size="10.6" text-anchor="middle" fill="#1a1a1a">Estimation</text>
<text x="573.60" y="7.40" font-size="9.7" fill="#1a1a1a">P<tspan font-size="7.1" dx="0.1" dy="2.3">4</tspan></text>
<text x="533.30" y="23.70" font-size="9.7" fill="#1a1a1a">R=0.87</text>
<text x="533.30" y="36.00" font-size="9.7" fill="#1a1a1a">RE=0.46</text>
<text x="528.10" y="91.80" font-size="9.7" fill="#1a1a1a">1:1</text>
<text x="574.60" y="91.80" font-size="9.7" fill="#f21818">Slope=1.04</text>
<text x="574.60" y="103.90" font-size="9.7" fill="#f21818">Intercept=-0.54</text>
<clipPath id="c5"><rect x="29.5" y="138" width="110.0" height="96"/></clipPath>
<g clip-path="url(#c5)">
<g stroke-width="2.5" stroke-linecap="round" fill="none"><path d="M72.4 189.6h0M67.7 191.3h0M92.3 183.4h0M57.1 204.8h0M91.4 187.3h0M83.0 186.6h0M78.9 203.2h0M75.4 185.2h0M66.8 201.2h0M82.3 191.8h0M60.0 194.3h0M66.5 188.5h0M72.9 181.3h0M64.3 196.6h0M84.6 184.8h0M60.9 202.4h0M62.6 201.6h0M57.0 202.2h0M62.9 195.9h0M78.8 181.9h0M77.3 188.5h0M64.9 199.6h0M62.9 192.1h0M73.6 210.7h0M71.0 208.2h0M90.8 188.3h0M66.3 202.0h0M86.9 192.3h0M63.3 206.9h0M72.1 181.9h0M59.4 199.0h0M68.2 191.8h0M62.5 190.3h0M67.1 213.4h0M69.7 186.4h0M78.4 195.2h0M61.4 209.3h0M63.2 209.4h0M68.7 207.9h0M75.7 187.1h0M79.2 189.7h0M64.9 202.7h0M76.5 186.6h0M66.1 188.1h0M69.2 207.5h0M68.9 210.0h0M76.1 188.7h0M68.0 197.6h0M73.0 192.3h0M77.8 187.6h0M74.2 203.7h0M61.9 189.5h0M78.7 187.9h0M95.7 182.3h0M92.0 183.3h0M67.5 194.9h0M82.8 192.3h0M71.8 188.7h0M81.0 199.4h0M64.9 198.3h0M85.0 180.2h0M90.9 186.3h0M82.2 194.6h0M67.0 211.1h0M70.8 201.9h0M72.0 194.3h0M90.1 188.1h0M63.8 193.3h0M61.7 195.7h0M74.7 183.2h0M59.6 202.7h0M56.8 203.0h0M77.5 196.6h0M60.1 203.8h0M76.0 193.1h0M75.2 182.5h0M71.4 189.5h0M73.9 196.3h0M56.7 204.5h0M75.7 188.5h0M87.3 194.2h0M57.9 205.7h0M64.5 201.8h0M73.3 183.6h0M80.6 194.7h0M69.6 185.0h0M86.9 185.2h0M91.0 181.6h0M67.9 198.4h0M82.3 188.9h0M53.5 203.4h0M65.5 212.5h0M55.5 207.6h0M78.0 178.9h0M86.3 184.2h0M64.7 201.5h0M66.6 194.9h0M83.4 186.6h0M65.7 196.1h0M85.7 203.0h0M71.9 186.1h0M66.6 192.0h0M65.8 191.6h0M62.3 212.7h0M65.0 194.3h0M87.3 182.7h0M56.6 207.0h0M65.9 192.1h0M67.7 177.4h0M70.0 192.4h0M73.3 210.6h0M68.5 199.8h0M62.3 196.2h0M88.7 187.0h0M63.9 195.3h0M81.9 193.8h0M71.2 189.6h0M56.9 200.8h0M79.6 189.3h0M62.4 195.1h0M56.8 197.9h0M64.5 200.4h0M67.7 196.1h0M67.6 202.2h0M81.6 197.4h0M81.1 193.2h0M88.4 186.3h0M66.9 197.6h0M66.5 194.0h0M61.1 204.2h0M57.3 204.9h0M71.8 198.2h0M79.8 198.3h0M79.5 204.4h0M68.8 213.0h0M89.1 181.4h0M72.9 180.7h0M63.9 200.2h0M67.9 183.6h0M81.4 177.1h0M72.4 194.0h0M79.9 194.6h0M97.7 183.3h0M66.8 206.2h0M62.4 192.7h0M78.4 187.5h0M75.0 191.3h0M73.3 190.3h0M84.5 186.1h0M67.3 202.4h0M61.2 207.6h0M65.3 198.9h0M57.7 205.9h0M70.8 205.5h0M68.8 184.6h0M82.2 181.4h0M86.3 185.4h0M80.7 185.6h0M71.2 206.6h0M87.0 187.7h0M79.2 199.9h0M79.1 195.5h0M57.3 202.7h0M64.4 194.8h0M60.0 203.3h0M73.3 203.7h0M58.8 210.3h0M75.8 191.5h0M60.4 207.5h0M68.0 189.1h0M77.7 185.1h0M66.2 187.8h0M63.9 200.9h0M66.6 188.9h0M62.7 194.3h0M85.1 182.0h0M55.7 203.9h0M62.6 198.9h0M70.9 185.6h0M67.7 200.6h0M64.9 207.6h0M60.8 203.3h0M73.8 179.7h0M85.7 192.8h0M68.2 184.5h0M89.0 191.6h0M66.1 193.9h0M75.1 191.2h0M81.1 189.0h0M94.0 184.2h0M55.5 210.3h0M56.9 211.0h0M64.2 209.3h0M63.3 192.1h0M86.5 185.7h0M70.6 198.7h0M77.8 189.2h0M58.3 205.7h0M67.5 201.8h0M74.5 184.1h0M62.0 208.9h0M59.5 197.3h0M63.0 200.5h0M61.3 209.3h0M94.8 184.8h0M59.9 200.5h0M72.2 196.2h0M88.4 183.1h0M61.8 185.8h0M62.7 198.2h0M81.5 201.2h0M81.5 187.1h0M93.9 187.5h0M57.6 197.9h0M56.0 206.7h0M67.6 198.7h0M59.7 207.2h0M81.9 196.8h0M71.2 194.6h0M96.3 182.0h0M80.9 181.2h0M74.1 187.1h0M73.5 186.9h0M92.2 186.8h0M69.7 185.3h0M62.4 195.7h0M53.8 206.1h0M81.2 180.2h0M74.3 195.5h0M74.6 199.7h0M80.2 187.4h0M87.9 184.4h0M83.0 199.9h0M72.0 192.2h0M66.9 210.6h0M57.6 199.8h0M65.3 209.7h0M70.1 196.5h0M67.5 209.9h0M72.4 199.7h0M84.6 184.7h0M89.4 189.6h0M65.2 191.2h0M77.5 186.5h0M61.9 207.8h0M73.1 182.8h0M95.0 185.5h0M72.4 204.7h0M64.3 203.3h0M67.4 188.5h0M58.0 211.4h0M52.5 207.1h0M68.8 189.1h0M77.4 198.3h0M63.6 208.8h0M67.2 205.5h0M83.0 184.4h0M68.1 182.1h0M81.5 195.3h0M74.1 187.2h0M59.6 193.7h0M73.8 193.1h0M76.3 182.6h0M66.9 195.0h0M67.2 192.2h0M71.6 204.2h0M65.7 204.1h0M61.3 204.6h0M69.0 191.9h0M65.9 205.5h0M79.5 195.0h0M61.3 203.6h0M74.0 208.1h0M84.2 187.9h0M69.8 186.2h0M62.4 182.2h0M79.5 182.7h0M62.6 184.9h0M85.6 179.1h0M82.9 187.3h0M69.1 211.5h0M65.6 194.7h0M56.4 198.8h0M70.9 191.5h0M58.8 197.2h0M87.1 182.7h0M77.3 197.6h0M61.1 201.2h0M63.9 204.0h0M60.8 192.1h0M66.9 207.6h0M60.6 205.1h0M64.7 208.3h0M70.6 179.9h0M66.6 187.5h0M78.8 183.4h0M58.9 195.0h0M68.4 187.9h0M61.0 197.2h0M78.7 199.9h0M73.5 192.1h0M86.0 180.2h0M61.2 204.0h0M64.6 187.2h0M90.5 187.5h0M60.4 197.4h0M79.3 196.9h0M61.9 208.6h0M66.6 197.6h0M72.4 184.1h0M81.5 187.4h0M66.0 192.9h0M60.3 205.0h0M82.2 192.2h0M64.8 207.0h0M68.9 198.7h0M62.4 199.1h0M66.4 205.9h0M59.8 195.5h0M69.1 207.7h0M64.8 185.0h0M65.7 193.3h0M91.7 182.7h0M75.9 204.6h0M68.2 188.9h0M76.7 204.3h0M60.8 196.6h0M67.5 195.6h0M70.6 183.7h0M78.3 197.5h0M78.4 186.6h0M63.4 208.7h0M65.5 188.6h0M65.1 199.2h0M73.0 196.2h0M73.4 195.8h0M68.7 179.7h0M57.3 202.6h0M87.2 194.5h0M69.0 202.5h0M64.5 198.7h0M71.4 188.5h0M71.7 186.4h0M79.0 181.6h0M83.1 191.1h0M56.6 203.5h0M81.7 188.6h0M74.3 192.3h0M67.3 207.2h0M65.3 189.9h0M62.2 198.6h0M91.3 188.8h0M80.1 198.7h0M92.5 182.1h0M66.3 188.5h0M59.4 202.0h0M60.2 201.0h0M56.2 198.4h0M78.5 185.7h0M68.1 197.3h0M84.1 202.8h0M68.6 188.5h0M62.2 213.4h0M68.6 191.0h0M73.5 187.4h0M86.5 192.4h0M65.6 202.5h0M89.8 188.2h0M69.2 199.4h0M75.8 197.3h0M80.8 182.8h0M60.0 207.2h0M74.1 183.6h0M76.6 197.0h0M70.0 189.1h0M83.6 188.1h0M92.8 181.6h0M62.8 211.2h0M61.5 202.6h0M79.7 191.5h0M76.5 194.1h0M81.1 183.8h0M70.3 199.6h0M68.0 195.9h0M70.0 196.2h0M55.3 204.5h0M66.2 209.3h0M68.9 193.4h0M77.7 186.0h0M58.9 213.3h0M75.1 192.4h0M84.5 189.8h0M59.8 207.3h0M61.5 190.2h0M87.4 186.9h0M58.2 209.9h0M62.5 202.2h0M73.0 193.0h0M72.7 196.0h0M81.5 188.3h0M56.2 206.1h0M76.2 183.9h0M73.0 192.5h0M66.9 194.9h0M68.8 210.9h0M78.6 200.1h0M79.0 187.9h0M65.6 184.9h0M79.3 184.5h0M53.8 205.3h0M76.7 195.5h0M75.3 192.7h0M77.6 190.5h0M60.3 203.0h0M65.7 187.0h0M71.9 184.0h0M71.9 201.7h0M70.6 176.6h0M81.6 183.6h0M74.6 208.8h0M90.1 185.1h0M75.9 200.3h0M76.3 199.0h0M81.4 182.9h0M87.1 186.5h0M60.6 203.2h0M82.0 188.0h0M61.8 201.5h0M60.6 192.3h0M61.2 196.5h0M84.6 185.0h0M78.2 189.7h0M61.1 205.3h0M80.4 200.5h0M68.8 195.0h0M62.0 195.7h0M78.1 190.5h0M72.6 203.2h0M89.3 180.1h0M75.6 186.1h0M74.0 181.3h0M64.9 200.0h0M64.8 207.9h0M85.8 187.1h0M73.8 202.8h0M53.1 210.0h0M85.1 186.9h0M75.3 189.0h0M61.0 191.0h0M62.7 194.7h0M62.8 199.7h0M78.6 200.7h0M65.5 182.4h0M78.3 183.5h0M60.6 200.9h0M68.9 201.2h0M73.6 191.0h0M63.9 195.1h0M71.2 189.1h0M84.6 185.4h0M60.2 212.8h0M80.4 186.3h0M71.6 180.8h0M72.4 207.9h0M86.6 187.3h0M60.9 193.0h0M66.3 180.7h0M89.7 188.5h0M89.5 191.0h0M77.8 181.9h0M67.6 196.4h0M66.5 179.1h0M72.2 209.5h0M66.1 197.7h0M78.2 197.8h0M68.9 190.6h0M75.8 189.1h0M79.1 199.1h0M80.3 185.1h0M77.6 199.1h0M65.9 192.0h0M75.5 205.7h0M68.6 194.8h0M66.3 198.9h0M62.3 208.8h0M61.7 201.3h0M96.6 182.2h0M96.1 184.8h0M72.2 192.2h0M73.0 190.7h0M84.2 180.7h0M72.6 181.9h0M61.1 197.3h0M65.1 195.2h0M84.9 192.7h0M54.2 207.2h0M77.3 189.4h0M91.9 189.9h0M71.9 186.4h0M69.0 184.5h0M64.6 206.9h0M87.9 189.6h0M61.9 203.9h0M61.9 195.5h0M85.4 183.1h0M64.4 201.0h0M82.2 199.8h0M91.5 183.9h0M66.2 205.7h0M74.3 206.7h0M82.6 186.1h0M89.6 183.9h0M77.3 183.5h0M69.2 196.3h0M81.6 189.5h0M89.6 189.3h0M71.0 189.6h0M67.3 187.8h0M80.0 180.0h0M84.9 188.7h0M76.2 198.3h0M71.6 178.1h0M77.4 192.8h0M65.0 188.2h0M63.6 208.0h0M75.6 196.1h0M69.5 190.7h0M56.4 208.7h0M77.5 187.0h0M61.3 204.4h0M76.2 187.9h0M82.4 179.9h0M64.4 192.2h0M72.6 180.5h0M81.9 191.4h0M64.0 188.2h0M56.0 211.1h0M88.0 180.7h0M72.8 208.9h0M74.0 208.6h0M60.4 195.4h0M79.5 196.3h0M76.0 195.3h0M65.5 207.6h0M76.0 201.0h0M63.8 191.9h0M67.9 199.5h0M58.5 204.8h0M71.6 204.5h0M73.7 183.3h0M74.8 185.4h0M81.1 199.7h0M82.7 186.7h0M64.6 186.2h0M81.5 180.0h0M58.9 207.4h0M56.1 197.6h0M64.2 190.6h0M63.7 193.2h0M93.5 182.9h0M72.2 192.1h0M66.4 204.0h0M81.2 185.5h0M67.5 194.4h0M67.5 200.3h0M81.9 199.9h0M81.3 181.5h0M79.7 194.0h0M69.3 193.3h0M71.0 181.8h0M73.3 185.7h0M75.7 205.7h0M81.0 177.8h0M87.6 184.0h0M57.2 196.4h0M88.3 182.2h0M70.2 178.1h0M68.4 192.6h0M69.9 179.2h0M62.3 201.9h0M75.9 181.1h0M61.7 192.2h0M77.2 188.3h0M61.9 199.5h0M70.2 189.7h0M58.9 209.7h0M74.4 192.0h0M62.2 206.8h0M73.9 184.0h0M60.1 196.1h0M74.2 195.9h0M79.0 186.5h0M73.5 204.3h0M73.1 197.5h0M61.6 183.7h0M74.1 199.9h0M83.1 193.3h0M77.7 197.9h0M84.1 191.9h0M62.5 200.5h0M70.6 202.7h0M70.3 196.8h0M75.6 177.8h0M63.0 192.6h0M72.7 188.1h0M75.6 178.0h0M76.6 189.9h0M84.6 189.5h0M82.6 191.1h0M86.5 182.0h0M84.4 186.6h0M62.7 184.6h0M73.3 178.5h0M61.8 192.1h0M97.8 182.0h0M68.7 177.6h0M89.8 184.0h0M78.6 183.4h0M80.6 181.0h0M73.3 183.6h0M70.3 206.7h0M88.9 185.1h0M57.7 198.3h0M84.2 189.5h0M79.3 181.6h0M79.0 199.1h0M89.5 180.9h0M68.9 201.0h0M77.1 178.2h0M90.4 182.3h0M83.0 199.8h0M88.5 181.2h0M56.5 201.5h0M76.3 178.2h0M83.7 181.4h0M78.5 182.9h0M69.5 181.0h0M69.5 178.4h0M61.3 212.1h0M72.5 187.9h0M94.5 179.8h0M64.5 180.5h0" stroke="#0000ff"/><path d="M83.6 180.4h0M81.5 184.0h0M69.2 189.8h0M66.3 193.2h0M79.7 182.7h0M56.3 211.0h0M77.5 199.1h0M69.6 195.2h0M77.6 183.9h0M70.2 176.2h0M85.8 183.9h0M73.4 179.7h0M80.7 182.7h0M92.5 180.7h0M85.7 183.2h0M97.7 180.4h0M80.9 178.0h0M76.0 180.2h0M88.0 180.6h0M80.0 178.2h0M77.8 176.8h0M69.8 176.8h0M96.9 180.1h0M96.0 181.3h0M73.6 181.3h0M90.1 177.8h0M93.3 184.8h0M77.8 184.9h0M90.5 179.4h0M91.0 178.0h0M80.1 176.9h0M74.0 183.3h0M95.6 177.7h0M87.2 175.7h0" stroke="#0102ff"/><path d="M75.9 179.5h0M79.1 180.1h0M75.8 177.4h0M84.4 176.5h0M77.1 176.6h0M96.2 179.3h0M81.2 179.6h0M97.4 179.3h0M79.4 183.6h0M95.3 177.4h0M75.5 179.0h0M81.4 176.2h0M74.1 181.5h0M84.4 175.1h0M75.1 174.5h0M84.2 181.1h0M69.2 178.0h0M70.6 175.8h0M86.2 176.3h0M90.3 179.3h0M86.0 181.2h0M75.1 175.9h0M100.6 180.3h0M90.4 178.5h0M77.9 173.5h0M90.6 175.2h0M81.8 176.9h0" stroke="#0a14ff"/><path d="M93.9 179.4h0M83.4 178.1h0M96.7 178.8h0M68.6 176.0h0M82.0 176.4h0M94.4 180.3h0M85.4 181.4h0M87.9 180.6h0M78.0 179.3h0M92.4 177.4h0M78.9 176.7h0M75.1 178.0h0M99.0 178.3h0M97.1 178.7h0M80.7 179.2h0M88.0 178.1h0M82.1 174.8h0M97.9 178.3h0M73.8 174.5h0M78.4 180.1h0M92.5 178.4h0M103.6 179.9h0" stroke="#142bff"/><path d="M98.5 178.4h0M92.0 178.0h0M85.5 175.6h0M89.9 177.3h0M90.7 175.5h0M79.2 175.8h0M100.1 178.4h0M88.2 180.7h0M88.9 176.7h0M74.4 180.3h0M71.6 179.1h0M96.5 177.0h0M80.0 176.1h0M80.0 176.6h0M89.5 176.0h0M97.1 178.5h0M94.9 177.8h0M84.2 175.3h0M83.8 175.4h0M87.6 176.7h0M92.0 183.1h0M89.7 176.7h0M93.8 176.7h0M77.7 174.9h0M79.7 174.6h0" stroke="#1f4cff"/><path d="M97.1 180.2h0M99.2 176.7h0M74.2 175.8h0M100.4 182.3h0M90.3 179.3h0M79.3 177.0h0M100.9 180.8h0M84.8 173.3h0M90.0 174.3h0M92.7 176.8h0M93.9 176.8h0M89.6 175.4h0M77.6 177.7h0M71.1 175.4h0M86.2 175.9h0M100.4 178.5h0M89.1 178.6h0M90.2 174.7h0" stroke="#2860ff"/><path d="M95.4 174.0h0M92.5 176.3h0M75.4 172.4h0M90.2 174.3h0M91.2 175.1h0M84.5 171.8h0M93.1 177.4h0M73.6 170.8h0M99.8 177.1h0M87.4 172.2h0M79.9 173.2h0M98.5 174.4h0M71.3 171.9h0M93.9 174.3h0M92.3 171.7h0M80.0 171.5h0M78.4 171.8h0M84.4 176.5h0" stroke="#3172ff"/><path d="M88.1 170.9h0M84.8 174.4h0M102.6 177.6h0M80.8 175.1h0M92.7 174.7h0M97.1 174.0h0M83.9 174.4h0M100.4 175.5h0M85.6 175.9h0M93.3 175.4h0M85.1 175.3h0M86.0 176.3h0M89.3 173.8h0M88.8 176.6h0M89.1 174.6h0M96.6 178.7h0M88.3 173.2h0M80.6 173.6h0M84.6 171.6h0M90.7 176.4h0M74.2 172.3h0M75.0 174.0h0M95.4 175.0h0M90.5 172.5h0M88.4 172.4h0" stroke="#3a83ff"/><path d="M100.7 177.4h0M82.6 173.0h0M88.4 173.6h0M88.1 174.4h0M72.5 172.3h0M86.4 171.9h0M72.6 173.1h0M95.3 173.2h0M83.6 173.1h0M85.4 175.9h0M89.8 173.8h0M99.2 177.8h0M99.2 172.5h0M85.3 175.2h0M96.5 177.8h0M95.7 173.3h0M94.8 175.8h0M88.7 173.2h0M83.9 173.4h0" stroke="#4397ff"/><path d="M102.8 175.9h0M88.0 172.8h0M82.3 172.2h0M74.3 170.3h0M90.1 177.1h0M95.8 173.0h0M80.5 171.1h0M105.3 173.7h0M88.1 175.0h0M82.2 173.8h0M76.6 170.5h0M87.8 173.1h0M94.5 169.4h0M105.8 173.7h0M75.6 170.9h0M78.4 168.7h0M76.3 170.6h0M83.9 170.3h0" stroke="#4eadff"/><path d="M85.3 173.7h0M94.4 173.2h0M88.1 169.7h0M88.0 174.8h0M93.2 173.9h0M81.1 173.7h0M80.0 171.2h0M93.1 174.5h0M95.4 176.7h0M85.6 172.0h0M92.9 170.7h0M79.5 168.9h0M94.3 170.0h0M89.2 172.3h0M95.4 172.5h0M95.0 173.9h0M80.6 170.3h0M78.5 170.4h0M97.9 175.7h0" stroke="#58bfff"/><path d="M84.5 171.3h0M101.3 175.4h0M79.2 170.1h0M97.6 174.0h0M87.9 172.2h0M86.6 172.1h0M90.1 172.9h0M98.3 172.6h0M93.0 171.2h0M88.4 173.5h0M92.1 173.5h0M101.6 174.8h0" stroke="#61d1ff"/><path d="M93.6 170.6h0M97.1 173.8h0M97.7 168.5h0M97.7 170.3h0M104.2 175.9h0M86.3 171.5h0M81.3 166.8h0M94.3 174.3h0M78.0 168.0h0M100.5 170.6h0M83.6 167.6h0M83.8 172.9h0M102.7 173.5h0M106.0 171.3h0M104.8 173.2h0" stroke="#72e8ff"/><path d="M72.3 170.0h0M94.5 170.7h0M84.9 170.5h0M87.0 170.8h0M90.8 169.0h0M87.4 168.6h0M87.8 170.0h0M96.3 171.9h0M102.3 171.0h0M95.2 173.3h0M102.4 170.4h0M91.6 168.5h0M98.1 170.4h0M93.7 170.5h0M95.1 172.2h0M90.5 170.6h0M99.1 172.7h0M89.2 169.1h0M79.8 168.7h0" stroke="#7bf7ff"/><path d="M77.5 168.7h0M101.6 168.6h0M89.1 168.5h0M97.8 170.0h0M82.8 170.3h0M71.3 167.6h0M75.9 167.4h0M92.1 172.2h0M99.3 173.8h0M85.1 168.1h0M86.5 169.7h0M99.5 171.2h0M90.2 171.0h0M90.4 166.7h0M107.7 172.4h0M91.9 169.3h0M96.9 169.3h0M78.7 168.2h0M91.0 166.2h0" stroke="#80fefc"/><path d="M101.9 170.8h0M105.6 172.1h0M96.2 167.6h0M102.6 171.4h0M99.1 167.0h0M99.8 168.6h0M96.5 168.8h0M96.8 170.1h0M97.4 168.6h0M94.1 169.6h0M100.3 168.7h0M101.9 169.2h0M105.4 171.0h0M88.3 168.2h0M91.7 165.5h0M102.0 171.7h0" stroke="#80fbee"/><path d="M99.3 172.8h0M98.5 168.7h0M98.8 169.4h0M88.5 167.9h0M102.2 167.9h0M97.5 171.0h0M100.0 166.1h0M109.6 170.3h0M104.9 173.0h0M89.4 169.9h0M88.1 164.9h0M91.9 166.6h0" stroke="#80f8df"/><path d="M83.5 163.1h0M95.3 169.1h0M88.8 165.8h0M85.1 162.7h0M97.2 169.2h0M90.7 166.8h0M82.5 162.2h0M93.6 170.9h0M96.1 168.9h0M90.7 166.6h0M109.7 168.3h0M92.3 169.7h0M92.2 167.6h0M94.0 169.1h0" stroke="#77f3ce"/><path d="M106.1 170.1h0M98.4 170.4h0M95.9 167.2h0M97.2 166.8h0M92.1 169.1h0M99.5 166.1h0M94.0 165.7h0M83.6 164.4h0M95.0 167.6h0M101.3 170.0h0M108.0 169.0h0" stroke="#6ef0bc"/><path d="M89.2 168.2h0M102.5 168.2h0M90.2 163.7h0M84.2 166.6h0M98.1 164.5h0M88.4 164.8h0M89.2 165.6h0M102.3 166.6h0M87.1 165.1h0M87.3 166.2h0M91.9 164.5h0M106.1 166.4h0" stroke="#65f0aa"/><path d="M92.6 164.3h0M92.0 165.9h0M97.0 164.4h0M84.5 163.3h0M85.6 164.3h0M92.0 165.7h0M95.6 166.0h0M103.6 165.8h0M103.7 167.1h0M101.4 167.5h0" stroke="#5cf094"/><path d="M97.3 164.7h0M100.3 167.7h0M80.7 161.6h0M77.9 163.2h0M77.2 164.7h0M106.4 164.9h0M92.2 162.6h0M95.9 164.9h0M107.0 165.8h0M95.1 164.4h0M88.1 163.7h0M85.7 164.1h0M85.1 164.3h0M95.3 160.6h0" stroke="#53f079"/><path d="M99.5 164.0h0M97.8 165.4h0M105.4 166.6h0M115.7 165.7h0M80.7 162.7h0M91.7 163.7h0M117.8 164.4h0M105.4 165.6h0M101.2 164.7h0" stroke="#4af05f"/><path d="M112.5 165.4h0M104.4 165.4h0M83.1 162.0h0M87.0 162.1h0M89.4 163.1h0M95.4 161.6h0M100.8 162.8h0M115.0 165.6h0" stroke="#41f044"/><path d="M104.9 165.1h0M96.9 162.9h0M102.3 164.4h0M110.0 164.6h0M107.3 165.5h0M104.8 163.6h0M119.0 163.9h0M87.8 160.8h0M99.8 162.2h0M96.3 161.2h0M107.7 163.8h0M101.6 164.1h0M84.2 159.9h0M102.2 165.2h0M107.3 163.6h0M105.5 163.8h0" stroke="#3af02d"/><path d="M98.0 163.8h0M84.0 160.1h0M93.4 161.4h0M101.9 163.7h0M87.6 161.8h0M92.8 163.4h0M91.5 159.7h0M90.3 161.7h0M106.5 162.9h0M97.0 162.5h0M105.8 164.1h0M91.3 162.5h0M88.9 161.0h0M103.9 161.7h0M91.7 160.7h0M83.1 160.3h0M103.6 164.9h0M107.3 166.2h0M84.6 162.5h0M93.7 159.9h0" stroke="#32f017"/><path d="M84.0 159.3h0M99.3 162.8h0M101.8 161.4h0M113.2 162.9h0M82.4 159.2h0M102.6 161.9h0M90.6 160.6h0M113.0 164.0h0M94.7 160.5h0M109.1 162.6h0M107.2 161.5h0" stroke="#33f010"/><path d="M119.7 162.5h0M91.2 159.4h0M90.0 160.8h0M101.8 161.3h0M113.2 161.8h0M98.1 160.1h0M102.8 160.9h0M99.7 162.4h0M91.6 161.4h0M96.7 158.8h0" stroke="#36f010"/><path d="M87.5 156.8h0M113.0 163.5h0M104.4 160.5h0M100.7 163.0h0M101.7 164.3h0M109.9 161.5h0M93.5 160.8h0M95.4 158.0h0" stroke="#44f012"/><path d="M85.8 158.0h0M91.4 158.4h0M91.8 160.8h0M101.5 161.3h0M88.1 157.6h0M101.2 159.3h0M99.5 160.0h0M109.4 160.6h0M91.2 158.3h0M109.8 163.6h0M89.3 158.4h0" stroke="#5af015"/><path d="M85.4 158.3h0M112.0 162.8h0M93.3 159.3h0M86.7 155.9h0M98.1 160.4h0M99.4 159.5h0M93.3 157.6h0M95.9 160.8h0M103.0 163.1h0M99.6 161.8h0M88.5 156.9h0M106.3 159.0h0M103.2 160.4h0M89.1 159.4h0M93.0 158.5h0M106.4 161.6h0" stroke="#71f018"/><path d="M113.5 158.8h0M116.1 159.8h0M114.0 159.3h0M92.3 159.2h0M88.6 157.0h0M90.2 157.0h0" stroke="#87f01c"/><path d="M97.0 157.5h0M102.1 158.7h0M105.4 160.4h0M114.8 159.8h0M106.7 158.4h0M97.7 159.5h0M101.3 160.4h0M110.8 161.8h0M103.2 158.3h0M104.3 156.7h0M93.7 156.5h0M97.0 157.5h0" stroke="#9df020"/><path d="M105.2 156.4h0M96.2 156.4h0M93.7 157.4h0M98.0 156.4h0M109.4 158.6h0M109.0 157.6h0M90.1 156.9h0M115.5 158.1h0" stroke="#adf026"/><path d="M116.4 160.5h0M118.1 158.5h0M107.8 158.6h0M88.1 154.4h0M90.5 154.0h0M108.6 157.1h0" stroke="#bcf02e"/><path d="M106.8 156.8h0M92.3 154.3h0M103.5 156.9h0M100.8 153.8h0M97.1 158.1h0M103.9 158.2h0M111.6 156.8h0" stroke="#c9f235"/><path d="M117.5 159.0h0M106.4 156.7h0M108.3 158.3h0" stroke="#d6f53b"/><path d="M96.1 155.6h0M103.4 155.3h0M106.0 155.5h0M115.1 156.8h0" stroke="#e2f841"/><path d="M117.7 157.8h0M91.4 156.7h0M96.1 154.7h0M107.6 156.1h0M90.8 153.1h0" stroke="#ebf844"/><path d="M91.0 155.1h0M116.2 157.0h0M93.8 152.4h0M108.1 156.8h0M106.0 155.8h0" stroke="#f5f847"/><path d="M101.5 155.3h0M121.8 157.4h0M102.2 153.9h0" stroke="#f3e642"/><path d="M114.5 155.7h0M97.9 152.9h0M106.7 153.8h0M98.7 153.3h0" stroke="#edcb39"/><path d="M111.3 154.5h0M90.9 152.8h0M119.9 157.3h0" stroke="#eab834"/><path d="M123.1 156.9h0M95.3 152.3h0M122.7 154.9h0M109.5 155.1h0" stroke="#e8a730"/><path d="M110.2 155.1h0M110.5 154.2h0M109.6 154.6h0M123.5 155.7h0M99.4 152.1h0M97.3 152.2h0" stroke="#e8992b"/><path d="M113.7 154.3h0M117.0 155.5h0M105.1 152.5h0M110.2 153.9h0" stroke="#e98b27"/><path d="M95.8 153.5h0M103.2 152.3h0M115.3 153.6h0" stroke="#ec7c24"/><path d="M100.3 152.2h0M106.4 153.0h0M103.8 151.9h0M97.4 151.4h0" stroke="#ed6e22"/><path d="M98.3 150.7h0M104.1 151.7h0M100.1 152.3h0" stroke="#ee5f20"/><path d="M106.2 151.0h0M103.8 151.7h0M125.6 150.4h0M118.6 153.8h0M108.8 151.3h0M99.6 151.1h0" stroke="#ee4e1a"/><path d="M118.9 154.2h0M102.3 152.9h0M120.9 152.7h0M125.4 153.6h0" stroke="#ef4018"/><path d="M122.3 146.9h0M109.7 150.0h0M127.4 149.8h0M126.2 152.4h0" stroke="#f03218"/><path d="M125.8 152.4h0M125.2 150.8h0M116.8 152.8h0M114.2 151.7h0" stroke="#f12b16"/><path d="M123.2 151.0h0M104.5 148.4h0M126.6 150.1h0M125.0 152.4h0M116.1 152.2h0M123.2 153.9h0" stroke="#f32513"/><path d="M118.3 152.7h0M129.0 147.8h0M129.0 149.5h0M127.4 148.7h0M122.6 151.9h0M120.2 150.7h0" stroke="#f51e10"/></g>
</g>
<g clip-path="url(#c5)"><line x1="29.56" y1="234.16" x2="139.65" y2="138.10" stroke="#111" stroke-width="1.1" stroke-dasharray="3.2,1.8"/>
<line x1="52.6" y1="207.0" x2="126.0" y2="138" stroke="#f52020" stroke-width="1.1"/></g>
<path d="M28.8 138H140.2M28.8 234H140.2" stroke="#222" stroke-width="1.45" fill="none"/>
<path d="M29.5 138V234M139.5 138V234" stroke="#1a1a1a" stroke-width="1.15" fill="none"/>
<path d="M29.56 234v1.2M29.5 234.16h-1.2M32.20 234v1.2M29.5 231.86h-1.2M34.43 234v1.2M29.5 229.91h-1.2M36.37 234v1.2M29.5 228.22h-1.2M38.07 234v1.2M29.5 226.73h-1.2M39.60 234v2.2M29.5 225.40h-2.2M49.64 234v1.2M29.5 216.64h-1.2M55.51 234v1.2M29.5 211.52h-1.2M59.68 234v1.2M29.5 207.88h-1.2M62.91 234v1.2M29.5 205.06h-1.2M65.55 234v1.2M29.5 202.76h-1.2M67.78 234v1.2M29.5 200.81h-1.2M69.72 234v1.2M29.5 199.12h-1.2M71.42 234v1.2M29.5 197.63h-1.2M72.95 234v2.2M29.5 196.30h-2.2M82.99 234v1.2M29.5 187.54h-1.2M88.86 234v1.2M29.5 182.42h-1.2M93.03 234v1.2M29.5 178.78h-1.2M96.26 234v1.2M29.5 175.96h-1.2M98.90 234v1.2M29.5 173.66h-1.2M101.13 234v1.2M29.5 171.71h-1.2M103.07 234v1.2M29.5 170.02h-1.2M104.77 234v1.2M29.5 168.53h-1.2M106.30 234v2.2M29.5 167.20h-2.2M116.34 234v1.2M29.5 158.44h-1.2M122.21 234v1.2M29.5 153.32h-1.2M126.38 234v1.2M29.5 149.68h-1.2M129.61 234v1.2M29.5 146.86h-1.2M132.25 234v1.2M29.5 144.56h-1.2M134.48 234v1.2M29.5 142.61h-1.2M136.42 234v1.2M29.5 140.92h-1.2M138.12 234v1.2M29.5 139.43h-1.2M139.65 234v2.2M29.5 138.10h-2.2" stroke="#222" stroke-width="0.9" fill="none"/>
<text x="40.10" y="247.90" font-size="9.6" text-anchor="middle" fill="#1a1a1a">10<tspan font-size="6.8" dx="-0.3" dy="-3.7">5</tspan></text>
<text x="24.60" y="228.90" font-size="9.6" text-anchor="end" fill="#1a1a1a">10<tspan font-size="6.8" dx="-0.4" dy="-3.7">5</tspan></text>
<text x="73.45" y="247.90" font-size="9.6" text-anchor="middle" fill="#1a1a1a">10<tspan font-size="6.8" dx="-0.3" dy="-3.7">6</tspan></text>
<text x="24.60" y="199.80" font-size="9.6" text-anchor="end" fill="#1a1a1a">10<tspan font-size="6.8" dx="-0.4" dy="-3.7">6</tspan></text>
<text x="106.80" y="247.90" font-size="9.6" text-anchor="middle" fill="#1a1a1a">10<tspan font-size="6.8" dx="-0.3" dy="-3.7">7</tspan></text>
<text x="24.60" y="170.70" font-size="9.6" text-anchor="end" fill="#1a1a1a">10<tspan font-size="6.8" dx="-0.4" dy="-3.7">7</tspan></text>
<text x="140.15" y="247.90" font-size="9.6" text-anchor="middle" fill="#1a1a1a">10<tspan font-size="6.8" dx="-0.3" dy="-3.7">8</tspan></text>
<text x="24.60" y="141.60" font-size="9.6" text-anchor="end" fill="#1a1a1a">10<tspan font-size="6.8" dx="-0.4" dy="-3.7">8</tspan></text>
<text transform="translate(9.00,185.40) rotate(-90)" font-size="10.6" text-anchor="middle" fill="#1a1a1a">Estimation</text>
<text x="84.50" y="262.9" font-size="10.4" text-anchor="middle" fill="#1a1a1a">Measurement</text>
<text x="75.95" y="133.40" font-size="9.7" fill="#1a1a1a">P<tspan font-size="7.1" dx="0.1" dy="2.3">5</tspan></text>
<text x="34.90" y="148.20" font-size="9.7" fill="#1a1a1a">R=0.85</text>
<text x="34.90" y="160.50" font-size="9.7" fill="#1a1a1a">RE=1.33</text>
<text x="31.80" y="216.80" font-size="9.7" fill="#1a1a1a">1:1</text>
<text x="77.60" y="216.00" font-size="9.7" fill="#f21818">Slope=1.07</text>
<text x="77.60" y="228.10" font-size="9.7" fill="#f21818">Intercept=-0.08</text>
<clipPath id="c6"><rect x="194.5" y="138" width="110.0" height="96"/></clipPath>
<g clip-path="url(#c6)">
<g stroke-width="2.5" stroke-linecap="round" fill="none"><path d="M267.0 188.7h0M255.0 195.3h0M256.2 185.3h0M242.8 198.0h0M254.6 198.3h0M244.2 199.8h0M245.7 200.2h0M253.2 198.9h0M246.0 194.1h0M242.2 195.8h0M253.7 195.4h0M262.7 183.6h0M262.2 183.8h0M256.4 193.7h0M246.7 192.1h0M263.8 183.3h0M259.3 183.4h0M263.8 184.4h0M251.2 187.1h0M254.3 190.6h0M246.7 185.6h0M257.4 200.8h0M255.8 190.8h0M243.5 188.3h0M255.7 194.5h0M255.1 185.8h0M258.4 186.9h0M252.0 190.0h0M247.2 195.8h0M255.8 190.2h0M255.0 190.6h0M258.7 190.2h0M248.1 196.2h0M251.1 188.8h0M244.2 192.2h0M253.0 194.0h0M252.1 197.4h0M255.8 188.0h0M239.1 191.7h0M245.6 192.9h0M242.1 197.7h0M248.2 195.1h0M250.4 195.7h0M248.9 197.6h0M252.9 197.3h0M249.6 188.5h0M251.7 187.1h0M241.3 190.9h0M257.2 187.5h0M253.5 188.9h0M248.8 187.0h0M244.6 196.3h0M248.1 186.3h0M252.5 199.2h0M245.9 191.1h0M263.3 188.4h0M245.9 190.3h0M265.8 183.8h0M260.1 188.8h0M252.8 191.7h0M248.0 192.4h0M240.8 198.4h0M246.2 196.9h0M240.3 188.8h0M252.3 188.3h0M248.2 191.5h0M250.8 190.4h0M251.1 192.2h0M248.1 195.9h0M242.1 192.9h0M243.0 196.6h0M242.9 192.0h0M252.4 187.7h0M245.0 192.7h0M255.5 193.3h0M247.2 191.3h0M261.5 192.9h0M242.6 198.2h0M264.1 190.6h0M265.8 185.5h0M254.7 191.5h0M246.7 203.6h0M268.1 181.1h0M261.5 193.3h0M258.0 186.7h0M246.3 196.7h0M258.5 183.6h0M247.9 184.4h0M244.3 196.2h0M259.2 190.8h0M242.9 191.8h0M248.6 202.2h0M249.8 193.6h0M245.9 189.6h0M243.4 197.3h0M248.7 189.9h0M265.0 192.4h0M247.5 192.0h0M259.0 190.3h0M260.7 183.7h0M268.6 184.3h0M243.0 193.0h0M246.7 186.7h0M254.3 185.3h0M249.1 190.9h0M258.0 193.0h0M251.6 201.5h0M247.6 198.8h0M250.6 188.7h0M248.9 190.2h0M247.7 183.5h0M250.5 199.3h0M247.4 201.8h0M242.2 194.6h0M245.9 199.6h0M259.3 191.9h0M255.0 201.1h0M254.3 190.1h0M259.3 185.4h0M257.0 189.8h0M266.7 186.5h0M243.1 190.3h0M247.7 200.3h0M261.4 192.7h0M265.6 188.3h0M254.6 183.8h0M245.6 194.7h0M253.9 197.0h0M263.1 191.4h0M254.7 192.2h0M249.1 189.8h0M261.9 186.5h0M247.5 192.4h0M254.6 187.0h0M259.5 183.5h0M248.0 183.7h0M254.7 198.1h0M267.5 184.5h0M255.6 192.7h0M247.1 200.8h0M241.2 192.5h0M255.0 190.1h0M255.8 192.6h0M253.4 188.9h0M255.8 187.7h0M243.9 185.9h0M250.0 191.8h0M246.1 197.5h0M266.3 184.5h0M255.3 192.8h0M258.9 185.3h0M260.3 186.8h0M260.7 183.8h0M257.5 190.2h0M259.0 187.5h0M261.8 188.8h0M260.8 184.5h0M262.1 187.5h0M253.1 188.8h0M263.6 191.0h0M243.5 190.3h0M258.0 193.4h0M260.9 193.9h0M246.8 195.7h0M257.4 196.7h0M249.9 196.8h0M248.5 185.8h0M254.9 188.5h0M247.7 194.5h0M266.4 188.3h0M247.9 189.6h0M248.8 184.8h0M255.6 191.8h0M245.9 191.1h0M267.4 187.7h0M250.0 191.8h0M258.2 187.8h0M250.1 189.6h0M253.9 197.0h0M243.5 189.2h0M250.6 188.6h0M249.5 205.7h0M250.3 182.5h0M251.3 192.1h0M248.4 199.6h0M249.2 193.2h0M254.4 187.0h0M251.4 186.6h0M248.2 187.0h0M250.5 187.1h0M257.9 188.8h0M242.3 195.6h0M249.0 190.9h0M245.3 187.2h0M253.3 190.0h0M242.2 193.0h0M243.2 195.9h0M243.6 194.8h0M244.5 193.7h0M247.5 192.6h0M246.9 195.7h0M254.1 192.8h0M244.4 188.7h0M256.4 194.3h0M247.7 189.2h0M246.3 188.8h0M255.0 192.8h0M258.3 186.6h0M250.5 191.9h0M252.7 186.9h0M241.9 199.4h0M241.9 195.6h0M258.1 193.5h0M253.1 196.8h0M241.8 196.7h0M249.3 188.5h0M257.0 191.0h0M249.5 188.4h0M242.9 186.5h0M270.3 181.1h0M255.2 187.2h0M245.2 197.3h0M260.1 189.0h0M248.7 191.6h0M249.0 194.1h0M244.1 189.6h0M247.1 203.4h0M255.2 189.4h0M249.6 194.0h0M251.3 189.9h0M253.7 199.6h0M256.4 186.1h0M261.2 197.3h0M244.5 189.6h0M253.4 190.1h0M269.9 186.8h0M260.9 186.0h0M257.0 189.7h0M249.8 195.4h0M258.5 194.5h0M250.3 185.1h0M258.7 184.2h0M249.7 192.5h0M241.5 197.1h0M264.4 182.0h0M264.0 189.3h0M258.6 189.1h0M244.6 189.6h0M243.3 198.9h0M244.1 185.7h0M251.4 189.9h0M264.7 181.2h0M256.8 182.7h0M260.3 183.0h0M249.2 191.8h0M253.5 180.8h0M269.6 182.3h0M259.1 188.4h0M252.4 200.3h0M266.3 184.6h0M253.1 187.1h0M259.2 185.3h0M260.3 181.2h0M256.8 197.1h0M252.0 190.8h0M251.9 193.5h0M256.2 183.7h0M261.0 187.5h0M244.3 189.1h0" stroke="#0000ff"/><path d="M270.3 185.2h0M246.6 183.2h0M255.0 183.4h0M252.3 193.2h0M256.6 182.7h0M257.8 181.4h0M255.8 184.6h0M252.6 186.9h0M250.7 183.1h0M243.0 191.6h0M247.5 182.5h0M253.5 185.5h0M268.6 187.0h0M262.4 180.6h0M256.8 185.8h0M268.9 183.2h0M268.8 182.7h0M254.4 182.9h0M247.3 183.0h0M254.9 185.4h0M251.2 181.0h0M240.1 195.5h0M250.3 184.9h0M256.5 183.7h0M251.2 187.5h0M267.7 183.5h0M255.9 181.9h0M270.3 182.6h0M250.8 186.0h0M264.6 180.9h0M261.8 179.9h0M269.8 185.4h0M249.3 185.9h0M256.4 184.9h0M262.4 181.2h0" stroke="#0102ff"/><path d="M243.5 187.8h0M257.5 178.9h0M263.8 179.9h0M258.8 188.1h0M253.8 181.9h0M257.0 187.9h0M257.2 182.2h0M258.0 182.1h0M251.9 179.0h0M251.5 181.9h0M258.0 185.1h0M259.5 180.3h0M267.4 182.4h0M264.2 182.6h0M268.3 187.3h0M259.4 180.9h0M254.0 183.0h0M253.9 187.9h0M272.6 183.1h0M246.6 183.8h0M256.0 186.3h0M259.8 179.7h0M254.1 182.9h0M255.5 183.9h0M264.4 185.3h0M257.4 180.6h0" stroke="#0a14ff"/><path d="M256.6 182.2h0M260.9 180.5h0M259.6 181.5h0M262.9 175.5h0M274.9 180.1h0M259.6 178.8h0M250.8 182.1h0M246.2 183.2h0M268.1 183.7h0M259.7 181.7h0M256.1 187.9h0M271.2 178.2h0M269.3 180.9h0M263.3 179.5h0M249.3 180.9h0M272.1 180.1h0M262.3 179.1h0M247.6 182.9h0M255.3 182.0h0M262.2 180.1h0M274.4 175.3h0M258.8 181.3h0M281.2 179.2h0M248.7 178.0h0M271.0 179.3h0M262.6 181.5h0M271.5 178.6h0" stroke="#142bff"/><path d="M259.3 185.2h0M252.9 179.4h0M255.0 183.9h0M269.8 181.5h0M253.1 182.0h0M273.1 181.2h0M266.8 178.7h0M262.7 179.1h0M264.7 182.4h0M247.4 185.1h0M267.3 183.6h0M266.5 181.9h0M254.5 178.4h0M248.4 181.3h0M257.0 180.6h0M251.0 181.6h0M258.9 180.3h0M264.5 179.4h0M274.8 179.1h0M249.1 181.0h0M256.7 179.4h0" stroke="#1f4cff"/><path d="M264.7 178.4h0M253.8 182.1h0M272.3 179.3h0M258.1 183.7h0M260.5 181.4h0M271.8 180.9h0M264.8 180.4h0M259.4 181.7h0M259.5 178.9h0M260.5 179.8h0M275.9 180.4h0M257.2 180.6h0M248.1 179.8h0M267.0 178.0h0M260.5 176.3h0M246.6 181.4h0M251.6 179.8h0M251.0 184.5h0M263.2 177.7h0M260.8 177.6h0" stroke="#2860ff"/><path d="M261.1 179.2h0M252.6 181.0h0M258.9 177.0h0M265.1 180.0h0M250.1 180.6h0M262.7 178.1h0M262.0 179.6h0M269.0 177.3h0M254.8 177.0h0M254.5 180.7h0M258.7 177.9h0M267.1 177.4h0M271.1 177.0h0M260.6 182.3h0M259.1 174.1h0M252.7 179.8h0M254.6 180.2h0M264.5 177.2h0M249.3 177.3h0M254.3 178.7h0" stroke="#3172ff"/><path d="M251.3 176.3h0M257.6 178.1h0M258.8 176.7h0M254.2 176.5h0M274.8 180.5h0M262.5 179.1h0M275.6 176.3h0M273.4 175.5h0M263.1 177.8h0M253.3 180.0h0M268.6 177.1h0M258.7 180.3h0M258.9 179.9h0M250.3 179.7h0M260.8 178.3h0M268.3 178.3h0M268.8 177.1h0M263.6 174.8h0M260.1 176.0h0M272.3 177.6h0M258.5 176.7h0M273.8 179.7h0" stroke="#3a83ff"/><path d="M265.1 175.3h0M256.9 178.5h0M265.8 174.2h0M261.0 179.2h0M270.0 177.9h0M263.4 178.1h0M270.5 176.9h0M262.4 177.0h0M250.0 178.9h0M259.3 177.2h0M264.3 178.8h0M274.0 173.5h0M267.4 176.4h0M265.2 179.6h0M268.5 177.7h0M260.8 177.6h0M252.1 174.6h0M248.8 179.8h0M256.5 176.5h0" stroke="#4397ff"/><path d="M253.6 176.5h0M259.2 176.1h0M282.9 177.3h0M270.9 175.5h0M280.5 175.3h0M268.9 171.9h0M249.8 178.9h0M272.4 176.0h0M259.0 179.0h0M270.9 178.7h0M266.4 174.9h0M259.4 174.0h0M259.0 178.6h0M261.9 176.5h0M277.3 176.1h0M268.9 179.2h0" stroke="#4eadff"/><path d="M285.5 173.2h0M278.4 175.2h0M274.6 174.2h0M255.9 180.0h0M263.6 175.6h0M263.2 177.1h0M272.7 174.2h0M274.6 173.2h0M267.7 176.4h0M271.2 172.8h0M257.1 176.1h0M263.4 173.5h0M261.9 177.7h0M272.5 174.7h0M277.0 174.5h0M258.9 178.1h0M263.4 175.5h0M266.7 173.5h0M270.9 172.8h0M255.7 176.1h0M263.9 174.6h0M271.4 176.3h0M273.2 176.7h0M275.6 174.6h0M275.2 174.7h0" stroke="#58bfff"/><path d="M274.0 176.4h0M271.9 175.6h0M274.6 173.1h0M268.8 179.4h0M263.3 175.1h0M257.0 173.9h0M276.1 173.7h0M264.1 172.4h0M278.8 177.1h0M273.4 174.5h0M281.5 175.4h0M263.7 173.9h0M284.3 172.2h0M264.2 174.1h0M260.4 173.8h0M283.7 172.7h0M256.1 172.4h0M267.4 174.9h0M281.6 174.6h0M277.3 174.1h0M259.2 175.7h0" stroke="#61d1ff"/><path d="M272.8 171.7h0M285.4 173.3h0M268.5 175.3h0M261.1 175.2h0M280.0 173.9h0M262.7 173.8h0M279.7 172.8h0M263.8 178.0h0M274.5 171.5h0M281.4 174.3h0M264.5 174.5h0M273.7 175.4h0M256.9 176.7h0M259.9 173.3h0M283.1 174.2h0M268.9 172.7h0M258.4 170.3h0M253.3 173.5h0M285.2 171.8h0M262.0 172.4h0M274.6 174.5h0M273.9 175.0h0M270.1 172.9h0M265.4 173.7h0M254.5 172.2h0M270.8 174.0h0M274.2 174.3h0M280.5 175.6h0M269.8 174.7h0M264.2 173.6h0M281.9 171.8h0" stroke="#72e8ff"/><path d="M267.1 172.5h0M282.6 173.0h0M269.8 172.1h0M258.5 175.1h0M282.7 173.3h0M263.9 172.3h0M256.0 171.4h0M266.2 173.1h0M277.2 175.2h0M258.1 173.7h0M255.8 173.5h0M283.0 173.0h0M258.2 171.5h0M278.3 172.7h0M263.5 176.5h0M256.8 172.7h0M277.3 173.4h0M255.2 175.1h0M255.6 172.6h0M277.4 171.7h0M266.2 172.0h0M286.3 169.5h0M265.6 173.2h0M266.0 174.9h0M262.6 173.6h0M260.7 170.2h0M277.3 169.2h0" stroke="#7bf7ff"/><path d="M276.1 171.7h0M263.1 174.3h0M253.8 171.9h0M279.9 171.5h0M279.4 171.9h0M271.1 172.2h0M272.6 173.7h0M270.0 170.0h0M252.9 172.7h0M283.1 172.6h0M266.4 171.4h0M278.7 170.2h0M256.0 170.8h0M275.2 173.1h0M271.8 176.3h0M275.3 171.3h0" stroke="#80fefc"/><path d="M285.3 170.4h0M269.1 169.5h0M274.5 172.5h0M262.3 170.5h0M274.8 169.2h0M270.6 173.5h0M270.0 169.9h0M261.8 169.9h0M274.1 172.5h0M261.3 170.6h0M265.6 170.3h0M279.4 172.0h0M273.6 171.8h0M268.8 173.8h0M257.3 169.8h0M278.4 169.8h0M279.8 169.1h0M265.9 170.2h0M273.3 169.8h0" stroke="#80fbee"/><path d="M282.7 173.4h0M261.4 169.5h0M259.1 168.4h0M254.4 171.4h0M278.4 170.2h0M255.9 172.8h0M268.0 174.1h0M281.7 170.1h0M270.4 170.0h0M274.6 169.5h0M264.6 171.7h0M258.2 169.3h0M272.9 169.6h0M264.3 169.8h0M258.3 171.2h0M263.4 169.2h0M260.9 171.4h0M277.0 168.8h0M283.1 169.0h0M267.7 169.2h0M255.9 174.8h0M262.2 173.4h0M264.9 169.9h0" stroke="#80f8df"/><path d="M264.8 169.2h0M257.6 168.0h0M263.5 171.5h0M259.8 169.3h0M282.4 172.0h0M262.6 170.3h0M271.4 169.3h0M273.0 168.9h0M276.8 170.3h0M287.0 168.5h0M273.8 170.7h0M273.3 170.2h0M281.7 171.1h0M280.7 168.7h0M276.6 170.6h0M274.1 165.9h0M285.4 172.5h0M271.2 171.4h0M276.1 170.9h0M278.4 168.2h0M265.6 169.6h0M259.9 167.6h0M273.2 167.8h0" stroke="#77f3ce"/><path d="M288.9 166.1h0M273.7 168.4h0M280.8 170.2h0M271.0 168.9h0M279.4 168.6h0M258.6 170.1h0M274.7 173.0h0M273.1 171.1h0M273.2 168.6h0M269.8 169.0h0M279.5 169.0h0M282.0 169.5h0M268.1 169.2h0M284.8 169.6h0M271.6 170.9h0M275.6 167.0h0M285.0 168.3h0M256.9 168.5h0M274.6 173.2h0" stroke="#6ef0bc"/><path d="M274.1 169.3h0M263.5 168.4h0M275.2 167.7h0M266.9 169.8h0M266.4 170.1h0M259.5 167.6h0M264.1 166.8h0M277.7 167.3h0M269.9 168.2h0M263.4 168.1h0M285.5 167.9h0M268.4 168.3h0M258.8 168.2h0M260.4 169.4h0M279.8 168.2h0M261.0 169.0h0M263.2 168.4h0" stroke="#65f0aa"/><path d="M285.6 169.4h0M277.5 172.2h0M288.9 168.2h0M284.7 167.2h0M268.3 169.1h0M274.0 169.7h0M281.2 167.9h0M266.1 169.1h0M283.2 168.4h0M256.6 170.0h0M263.9 168.3h0M257.5 167.8h0M271.5 167.6h0M262.6 169.0h0M273.9 167.7h0M268.2 169.5h0M275.1 170.1h0M262.2 165.5h0M275.6 167.6h0M277.9 167.8h0M277.0 167.1h0M270.5 165.9h0M261.2 168.4h0M275.0 168.2h0M281.3 166.9h0" stroke="#5cf094"/><path d="M273.5 167.3h0M280.5 168.3h0M275.6 165.9h0M269.8 167.0h0M285.1 165.7h0M274.8 168.5h0M271.1 167.1h0M267.3 166.9h0M261.6 166.7h0M279.9 167.7h0M259.7 168.8h0" stroke="#53f079"/><path d="M282.6 167.5h0M271.2 168.4h0M284.9 167.0h0M269.7 166.7h0M280.7 166.9h0M271.7 166.5h0M265.7 167.2h0M281.8 167.2h0M264.3 166.7h0M271.2 166.4h0M260.9 167.0h0" stroke="#4af05f"/><path d="M286.9 165.6h0M285.1 165.3h0M272.3 166.2h0M282.5 167.0h0M262.1 166.5h0M264.5 167.9h0M279.7 165.1h0" stroke="#41f044"/><path d="M280.5 164.0h0M270.8 166.2h0M262.1 164.5h0M286.7 164.5h0M266.4 165.3h0M288.6 165.4h0M285.8 166.5h0M276.4 167.8h0M260.2 167.4h0M280.6 164.8h0M286.1 166.8h0M264.3 166.5h0M276.0 164.1h0M273.4 164.3h0" stroke="#3af02d"/><path d="M278.8 167.1h0M281.5 165.5h0M278.2 165.6h0M278.8 166.0h0M289.9 165.3h0M272.4 165.5h0M263.5 166.6h0M276.6 165.4h0M281.8 166.5h0M267.5 165.1h0M271.8 165.7h0M278.8 165.5h0M283.8 167.2h0" stroke="#32f017"/><path d="M269.0 166.6h0M265.6 165.9h0M277.6 165.7h0M274.5 165.0h0M287.4 166.2h0M271.3 163.6h0M271.5 163.8h0M265.3 163.9h0M289.4 166.0h0M288.2 165.2h0M275.9 164.1h0M286.1 163.7h0M264.3 163.4h0M276.2 164.6h0" stroke="#33f010"/><path d="M289.6 164.2h0M268.8 166.1h0M275.8 164.2h0M278.5 166.2h0M286.0 163.5h0M265.7 164.8h0M294.4 162.5h0M266.6 164.1h0M285.7 163.2h0M286.7 164.3h0M268.1 164.2h0M265.2 162.8h0M290.6 164.1h0" stroke="#36f010"/><path d="M274.5 163.2h0M279.3 165.7h0M269.1 163.4h0M264.1 165.0h0M281.5 165.5h0M276.9 163.7h0M260.7 163.3h0M274.1 163.9h0M264.0 164.0h0M274.6 163.7h0" stroke="#44f012"/><path d="M260.0 164.7h0M285.6 162.6h0M278.7 163.8h0M286.1 164.2h0M273.4 164.6h0M284.9 162.9h0M279.9 163.4h0M273.0 163.3h0M272.1 163.2h0M295.1 162.1h0M287.8 163.6h0" stroke="#5af015"/><path d="M265.7 163.3h0M286.6 162.7h0M269.9 163.4h0M296.9 162.0h0M264.3 164.0h0M258.0 163.3h0M271.9 164.3h0M290.0 162.4h0" stroke="#71f018"/><path d="M265.2 162.8h0M275.8 163.3h0M294.7 161.7h0M271.0 162.8h0M294.7 162.2h0M261.5 163.5h0M268.3 163.0h0M280.0 165.6h0M287.5 163.1h0" stroke="#87f01c"/><path d="M288.3 161.6h0M275.0 162.7h0M284.4 160.8h0" stroke="#9df020"/><path d="M288.5 162.6h0M265.0 162.6h0M272.9 161.0h0M295.2 162.8h0M268.6 161.3h0M281.7 161.2h0" stroke="#adf026"/><path d="M290.8 162.2h0M286.3 161.0h0M267.7 161.1h0M265.5 160.9h0M273.0 161.8h0M293.6 160.7h0M276.7 161.4h0M282.4 161.2h0" stroke="#bcf02e"/><path d="M279.2 162.3h0M270.3 161.0h0M300.8 160.8h0M279.2 160.1h0M277.7 161.5h0M267.9 160.9h0M282.4 161.3h0M277.4 161.7h0" stroke="#c9f235"/><path d="M280.6 160.8h0M271.3 162.1h0M291.7 160.8h0M296.8 161.7h0M296.0 160.7h0M287.3 161.0h0M284.0 161.3h0M280.7 160.5h0" stroke="#d6f53b"/><path d="M271.0 161.3h0M266.9 160.5h0M284.1 161.4h0M273.9 161.7h0M273.8 160.4h0M291.7 161.2h0M278.4 159.5h0M280.6 161.0h0M291.1 160.1h0M275.9 159.3h0" stroke="#e2f841"/><path d="M266.6 160.8h0M265.9 160.4h0M275.6 160.3h0M290.5 160.6h0M294.9 160.5h0M284.0 160.4h0M279.2 160.7h0M287.9 161.0h0" stroke="#ebf844"/><path d="M284.4 159.1h0" stroke="#f5f847"/><path d="M273.9 159.3h0M267.9 159.5h0M270.7 160.6h0M305.3 161.2h0M281.1 159.4h0M272.6 159.5h0M287.0 159.3h0" stroke="#f3e642"/><path d="M294.9 158.0h0M293.0 159.3h0" stroke="#edcb39"/><path d="M279.7 160.0h0M288.6 158.2h0M269.5 159.1h0" stroke="#eab834"/><path d="M297.1 158.8h0M281.4 159.4h0M282.8 158.7h0M285.5 159.3h0M290.4 158.5h0" stroke="#e8a730"/><path d="M270.9 159.5h0M292.5 159.4h0M269.5 159.2h0" stroke="#e8992b"/><path d="M280.2 158.2h0M294.6 158.2h0M274.7 159.1h0" stroke="#e98b27"/><path d="M286.7 158.0h0M281.0 158.9h0M281.8 157.2h0M276.1 158.4h0M287.3 157.8h0M272.0 158.8h0M301.1 157.4h0M288.2 158.6h0" stroke="#ec7c24"/><path d="M296.6 157.7h0M269.7 158.2h0M292.2 157.8h0" stroke="#ed6e22"/><path d="M277.7 157.9h0M269.1 157.9h0" stroke="#ee5f20"/><path d="M297.9 158.6h0M282.9 157.6h0M267.9 157.9h0M270.3 156.7h0M291.1 157.1h0M269.7 157.6h0M277.8 157.5h0M267.8 157.9h0M303.9 157.0h0" stroke="#ee4e1a"/><path d="M272.6 157.1h0" stroke="#ef4018"/><path d="M287.7 157.1h0M288.3 156.9h0M286.1 156.2h0M272.0 156.2h0" stroke="#f03218"/><path d="M296.8 156.7h0M288.6 156.9h0" stroke="#f12b16"/><path d="M298.7 156.2h0M287.3 153.7h0M276.1 153.2h0M291.6 156.7h0" stroke="#f51e10"/></g>
</g>
<g clip-path="url(#c6)"><line x1="193.70" y1="233.97" x2="304.85" y2="138.23" stroke="#111" stroke-width="1.1" stroke-dasharray="3.2,1.8"/>
<line x1="239.9" y1="195.4" x2="303.4" y2="147.4" stroke="#f52020" stroke-width="1.1"/></g>
<path d="M193.8 138H305.2M193.8 234H305.2" stroke="#222" stroke-width="1.45" fill="none"/>
<path d="M194.5 138V234M304.5 138V234" stroke="#1a1a1a" stroke-width="1.15" fill="none"/>
<path d="M194.5 233.97h-1.2M195.85 234v1.2M194.5 232.11h-1.2M197.68 234v1.2M194.5 230.54h-1.2M199.26 234v1.2M194.5 229.17h-1.2M200.65 234v1.2M194.5 227.97h-1.2M201.90 234v2.2M194.5 226.90h-2.2M210.10 234v1.2M194.5 219.83h-1.2M214.90 234v1.2M194.5 215.70h-1.2M218.31 234v1.2M194.5 212.77h-1.2M220.95 234v1.2M194.5 210.50h-1.2M223.10 234v1.2M194.5 208.64h-1.2M224.93 234v1.2M194.5 207.07h-1.2M226.51 234v1.2M194.5 205.70h-1.2M227.90 234v1.2M194.5 204.50h-1.2M229.15 234v2.2M194.5 203.43h-2.2M237.35 234v1.2M194.5 196.36h-1.2M242.15 234v1.2M194.5 192.23h-1.2M245.56 234v1.2M194.5 189.30h-1.2M248.20 234v1.2M194.5 187.03h-1.2M250.35 234v1.2M194.5 185.17h-1.2M252.18 234v1.2M194.5 183.60h-1.2M253.76 234v1.2M194.5 182.23h-1.2M255.15 234v1.2M194.5 181.03h-1.2M256.40 234v2.2M194.5 179.96h-2.2M264.60 234v1.2M194.5 172.89h-1.2M269.40 234v1.2M194.5 168.76h-1.2M272.81 234v1.2M194.5 165.83h-1.2M275.45 234v1.2M194.5 163.56h-1.2M277.60 234v1.2M194.5 161.70h-1.2M279.43 234v1.2M194.5 160.13h-1.2M281.01 234v1.2M194.5 158.76h-1.2M282.40 234v1.2M194.5 157.56h-1.2M283.65 234v2.2M194.5 156.49h-2.2M291.85 234v1.2M194.5 149.42h-1.2M296.65 234v1.2M194.5 145.29h-1.2M300.06 234v1.2M194.5 142.36h-1.2M302.70 234v1.2M194.5 140.09h-1.2M304.85 234v1.2M194.5 138.23h-1.2" stroke="#222" stroke-width="0.9" fill="none"/>
<text x="202.40" y="247.90" font-size="9.6" text-anchor="middle" fill="#1a1a1a">10<tspan font-size="6.8" dx="-0.3" dy="-3.7">4</tspan></text>
<text x="189.60" y="230.40" font-size="9.6" text-anchor="end" fill="#1a1a1a">10<tspan font-size="6.8" dx="-0.4" dy="-3.7">4</tspan></text>
<text x="229.65" y="247.90" font-size="9.6" text-anchor="middle" fill="#1a1a1a">10<tspan font-size="6.8" dx="-0.3" dy="-3.7">5</tspan></text>
<text x="189.60" y="206.93" font-size="9.6" text-anchor="end" fill="#1a1a1a">10<tspan font-size="6.8" dx="-0.4" dy="-3.7">5</tspan></text>
<text x="256.90" y="247.90" font-size="9.6" text-anchor="middle" fill="#1a1a1a">10<tspan font-size="6.8" dx="-0.3" dy="-3.7">6</tspan></text>
<text x="189.60" y="183.46" font-size="9.6" text-anchor="end" fill="#1a1a1a">10<tspan font-size="6.8" dx="-0.4" dy="-3.7">6</tspan></text>
<text x="284.15" y="247.90" font-size="9.6" text-anchor="middle" fill="#1a1a1a">10<tspan font-size="6.8" dx="-0.3" dy="-3.7">7</tspan></text>
<text x="189.60" y="159.99" font-size="9.6" text-anchor="end" fill="#1a1a1a">10<tspan font-size="6.8" dx="-0.4" dy="-3.7">7</tspan></text>
<text transform="translate(174.00,185.40) rotate(-90)" font-size="10.6" text-anchor="middle" fill="#1a1a1a">Estimation</text>
<text x="249.50" y="262.9" font-size="10.4" text-anchor="middle" fill="#1a1a1a">Measurement</text>
<text x="245.20" y="132.90" font-size="9.7" fill="#1a1a1a">P<tspan font-size="7.1" dx="0.1" dy="2.3">6</tspan></text>
<text x="197.20" y="149.00" font-size="9.7" fill="#1a1a1a">R=0.86</text>
<text x="197.20" y="161.30" font-size="9.7" fill="#1a1a1a">RE=0.39</text>
<text x="200.10" y="216.00" font-size="9.7" fill="#1a1a1a">1 : 1</text>
<text x="244.60" y="216.80" font-size="9.7" fill="#f21818">Slope=0.87</text>
<text x="244.60" y="228.60" font-size="9.7" fill="#f21818">Intercept=0.69</text>
<clipPath id="c7"><rect x="359.5" y="138" width="110.0" height="96"/></clipPath>
<g clip-path="url(#c7)">
<g stroke-width="2.5" stroke-linecap="round" fill="none"><path d="M390.0 201.9h0M388.4 214.0h0M375.0 187.9h0M391.6 178.3h0M396.6 208.5h0M395.4 201.0h0M384.7 194.8h0M372.1 196.9h0M370.2 196.1h0M389.1 173.1h0M380.4 184.3h0M382.1 204.6h0M380.5 177.0h0M391.0 174.6h0M377.4 181.9h0M380.9 172.0h0M384.4 196.5h0M373.1 201.1h0M372.6 192.9h0M384.0 194.4h0M402.6 180.8h0M391.5 201.5h0M383.5 197.7h0M396.7 188.7h0M393.1 187.7h0M381.3 184.8h0M383.8 197.7h0M397.4 199.8h0M387.8 198.0h0M389.3 194.9h0M399.6 187.5h0M384.9 171.7h0M388.1 197.8h0M379.4 170.7h0M378.6 189.9h0M382.4 201.5h0M387.4 172.9h0M376.4 176.6h0M379.2 211.2h0M387.8 188.5h0M396.3 196.0h0M388.8 198.0h0M403.2 183.3h0M369.0 184.9h0M369.2 189.4h0M374.1 179.0h0M390.5 190.1h0M387.5 202.5h0M389.1 176.2h0M384.6 214.8h0M382.1 193.1h0M387.0 172.8h0M383.3 195.3h0M375.0 185.3h0M381.6 178.4h0M394.5 211.4h0M393.1 199.7h0M372.3 197.6h0M389.0 195.2h0M389.4 200.8h0M378.7 180.0h0M395.5 200.2h0M382.7 201.5h0M395.8 198.0h0M401.0 184.5h0M375.9 200.6h0M370.0 184.6h0M390.1 229.3h0M384.4 185.2h0M383.2 177.2h0M388.6 202.6h0M383.0 199.2h0M386.5 179.1h0M386.4 207.1h0M391.5 202.4h0M385.8 183.1h0M375.1 201.4h0M383.8 182.5h0M380.8 185.0h0M395.9 185.2h0M388.2 205.5h0M382.1 188.0h0M381.9 206.9h0M383.8 201.3h0M384.6 200.3h0M400.6 184.7h0M388.3 206.9h0M393.3 188.1h0M396.4 178.8h0M383.3 181.5h0M392.3 179.0h0M382.3 200.4h0M377.6 195.5h0M387.2 195.8h0M379.2 195.6h0M377.9 177.7h0M388.8 196.0h0M391.9 175.2h0M395.8 178.3h0M386.8 191.7h0M381.1 181.0h0M393.1 188.7h0M396.5 189.5h0M389.4 213.4h0M372.8 196.1h0M385.2 190.5h0M384.1 177.3h0M376.4 202.7h0M398.6 198.9h0M394.8 178.1h0M399.0 182.7h0M376.0 180.2h0M372.6 179.4h0M372.5 189.6h0M388.8 193.6h0M387.7 195.8h0M376.9 193.5h0M397.2 182.4h0M396.2 205.3h0M390.1 173.8h0M397.5 172.8h0M373.1 184.5h0M373.9 191.0h0M370.6 196.7h0M390.3 183.0h0M396.1 196.9h0M389.7 178.8h0M392.8 203.2h0M388.4 196.4h0M392.7 195.6h0M396.7 181.1h0M374.1 200.0h0M371.7 191.2h0M385.1 184.5h0M383.3 187.2h0M381.8 200.1h0M392.4 208.1h0M367.9 190.3h0M388.6 200.2h0M388.0 228.1h0M386.0 199.7h0M373.6 203.5h0M379.1 191.2h0M381.2 181.6h0M389.0 185.2h0M395.3 210.8h0M374.3 185.9h0M384.3 185.7h0M385.9 201.9h0M391.6 178.1h0M394.5 180.6h0M370.4 194.4h0M387.0 211.2h0M390.7 199.6h0M389.6 189.2h0M385.3 191.2h0M375.9 178.0h0M400.2 188.7h0M378.5 187.7h0M374.1 185.1h0M383.1 178.6h0M384.3 182.2h0M378.5 201.3h0M395.4 203.1h0M383.0 209.8h0M383.0 202.8h0M393.2 215.1h0M386.0 181.7h0M390.2 218.2h0M384.5 198.3h0M399.6 190.2h0M386.0 199.6h0M393.4 188.6h0M377.5 182.9h0M392.6 190.6h0M374.7 202.3h0M378.1 187.7h0M374.6 195.1h0M378.9 182.6h0M383.1 175.8h0M394.8 199.7h0M376.1 187.6h0M391.7 174.3h0M383.2 205.9h0M384.7 193.0h0M389.0 191.4h0M391.6 198.5h0M389.9 211.1h0M388.0 230.0h0M380.5 191.4h0M382.9 212.0h0M371.8 185.9h0M376.4 200.3h0M387.4 183.3h0M392.2 188.4h0M392.8 200.1h0M390.3 200.9h0M375.4 196.0h0M389.2 173.5h0M381.4 187.8h0M396.2 195.2h0M380.0 204.3h0M377.5 174.5h0M372.5 201.4h0M384.1 181.6h0M399.0 191.8h0M393.9 199.3h0M392.9 190.5h0M386.3 208.4h0M368.5 185.1h0M380.6 183.5h0M386.5 201.2h0M384.4 188.3h0M393.1 199.5h0M388.1 196.1h0M385.9 194.7h0M388.2 171.4h0M378.8 184.5h0M387.7 176.2h0M375.4 184.9h0M394.1 190.3h0M391.7 171.6h0M388.7 204.2h0M395.1 181.9h0M386.7 190.1h0M394.1 190.1h0M379.2 191.2h0M382.3 186.7h0M382.3 192.0h0M385.9 192.1h0M393.5 205.7h0M376.2 193.6h0M392.4 195.6h0M389.9 204.5h0M379.5 196.4h0M385.5 194.8h0M381.4 199.7h0M382.4 201.4h0M400.2 195.1h0M377.9 171.9h0M396.0 210.5h0M392.4 186.1h0M385.8 197.5h0M386.9 202.7h0M390.9 189.3h0M369.1 186.0h0M396.6 207.1h0M389.1 206.0h0M370.2 183.4h0M377.5 193.7h0M390.0 208.1h0M386.6 194.6h0M394.3 193.5h0M375.2 178.7h0M375.4 188.0h0M400.1 181.7h0M387.3 208.7h0M393.3 171.2h0M387.0 201.1h0M395.1 207.7h0M383.7 200.7h0M393.9 193.0h0M383.0 182.7h0M379.3 193.0h0M390.1 194.0h0M374.1 189.2h0M388.5 200.9h0M388.5 187.5h0M384.2 174.5h0M395.3 208.9h0M379.3 175.2h0M378.2 175.1h0M390.5 227.1h0M375.9 189.6h0M378.9 189.6h0M386.0 189.8h0M378.0 183.8h0M385.7 195.0h0M373.9 200.1h0M370.9 182.9h0M389.0 190.1h0M381.2 173.6h0M378.6 185.9h0M399.3 180.0h0M370.1 193.3h0M395.2 189.2h0M383.4 184.6h0M390.6 213.8h0M371.2 194.3h0M373.9 179.7h0M387.1 184.3h0M390.7 215.4h0M380.7 210.3h0M387.9 169.3h0M396.7 201.5h0M382.8 193.5h0M389.2 184.6h0M378.6 190.4h0M382.7 199.8h0M385.4 180.9h0M388.8 196.3h0M398.3 182.3h0M379.1 205.8h0M372.8 197.8h0M383.2 205.8h0M392.8 200.7h0M393.1 175.6h0M389.1 176.8h0M391.0 190.1h0M391.6 201.1h0M382.6 189.5h0M377.4 183.2h0M394.4 197.6h0M397.6 206.7h0M382.7 207.9h0M389.7 178.3h0M378.7 206.2h0M384.3 204.5h0M401.8 181.8h0M386.6 203.6h0M375.9 189.9h0M394.9 196.9h0M386.7 183.8h0M396.7 185.8h0M377.8 197.3h0M391.1 178.1h0M394.1 202.3h0M397.1 206.4h0M385.0 216.6h0M375.8 195.7h0M384.0 185.9h0M385.3 182.5h0M380.4 198.1h0M390.1 177.3h0M390.8 198.7h0M377.8 184.9h0M390.9 205.2h0M394.9 194.6h0M390.6 228.8h0M378.1 177.9h0M394.4 194.3h0M380.2 199.7h0M381.4 178.9h0M381.5 198.1h0M389.5 179.4h0M398.0 183.3h0M390.5 199.9h0M380.3 188.9h0M377.2 193.5h0M374.2 190.9h0M379.5 182.3h0M381.6 193.7h0M388.6 196.4h0M399.9 185.1h0M379.1 203.1h0M374.9 192.9h0M386.5 215.0h0M398.4 203.4h0M391.0 187.0h0M389.3 188.9h0M383.6 197.5h0M396.1 190.8h0M389.3 204.2h0M378.9 176.2h0M393.8 180.9h0M389.2 206.7h0M391.0 185.1h0M380.8 190.3h0M370.2 189.4h0M379.3 187.5h0M380.8 198.2h0M385.8 192.0h0M395.5 193.3h0M372.8 192.8h0M382.7 201.4h0M384.7 191.1h0M374.1 186.9h0M390.0 180.7h0M383.3 183.8h0M387.8 180.5h0M389.8 191.9h0M377.8 178.1h0M388.6 196.0h0M373.2 196.2h0M392.1 178.2h0M383.9 201.0h0M391.7 180.4h0M382.1 184.5h0M392.2 214.5h0M390.2 186.6h0M377.2 199.3h0M389.6 201.8h0M389.1 185.6h0M384.3 206.4h0M376.5 187.3h0M383.7 201.2h0M386.1 201.5h0M388.4 185.3h0M384.8 171.4h0M374.1 183.6h0M397.9 183.4h0M372.0 187.7h0M381.0 195.2h0M387.4 205.7h0M391.9 200.9h0M390.0 205.2h0M379.0 181.9h0M379.7 207.2h0M380.5 206.1h0M384.5 194.7h0M390.6 217.3h0M369.9 190.6h0M387.8 204.4h0M384.6 194.0h0M383.2 206.5h0M378.9 207.0h0M385.2 199.4h0M386.3 188.7h0M374.0 197.7h0M379.6 208.3h0M384.3 191.3h0M390.0 177.3h0M387.0 190.5h0M384.6 168.0h0M377.0 193.8h0M385.9 206.3h0M379.7 207.7h0M379.5 196.0h0M378.0 185.2h0M379.6 196.5h0M381.2 179.7h0M379.2 187.3h0M398.6 185.0h0M387.0 196.7h0M398.2 175.7h0M372.3 181.4h0M396.2 191.0h0M380.0 207.4h0M401.6 176.1h0M371.7 196.0h0M372.7 181.4h0M396.5 208.1h0M385.7 195.2h0M389.8 193.1h0M382.3 197.9h0M393.7 195.5h0M373.7 186.9h0M374.6 182.4h0M384.5 178.7h0M374.5 204.1h0M373.4 176.4h0M392.2 192.1h0M375.4 185.3h0M397.8 191.9h0M387.1 214.4h0M373.2 181.9h0M395.9 173.8h0M385.2 216.8h0M385.1 199.7h0M397.2 196.8h0M393.4 198.7h0M394.6 194.9h0M391.5 175.7h0M383.4 179.3h0M379.8 194.5h0M396.3 184.9h0M387.0 178.8h0M394.6 198.2h0M387.4 200.4h0M394.9 183.5h0M397.4 193.0h0M370.5 187.0h0M378.4 192.0h0M398.5 200.0h0M375.1 183.8h0M383.7 208.0h0M395.1 190.5h0M392.2 187.5h0M376.6 182.2h0M384.6 190.4h0M400.0 182.0h0M367.8 187.0h0M401.4 187.1h0M379.7 174.3h0M374.7 185.2h0M393.9 198.7h0M394.5 176.8h0M382.7 207.6h0M395.6 185.1h0M387.5 190.7h0M396.5 209.5h0M385.0 183.2h0M385.0 194.3h0M386.0 196.2h0M386.0 198.3h0M391.5 194.7h0M390.8 178.8h0M378.2 192.7h0M391.7 196.0h0M388.5 200.5h0M382.5 171.8h0M383.7 188.0h0M382.4 187.5h0M377.5 198.7h0M399.5 200.3h0M376.1 192.3h0M380.7 187.6h0M379.2 185.6h0M391.6 195.5h0M373.1 185.3h0M376.9 186.9h0M394.6 193.4h0M386.8 203.3h0M396.9 180.0h0M367.0 186.0h0M371.5 182.1h0M388.5 193.1h0M381.0 207.4h0M396.4 191.7h0M392.7 199.7h0M397.6 175.4h0M390.9 201.9h0M381.7 198.4h0M375.6 181.6h0M376.9 191.7h0M371.0 190.9h0M370.8 187.5h0M374.3 187.7h0M380.9 188.5h0M393.1 194.0h0M383.2 205.7h0M401.3 198.4h0M388.8 179.0h0M401.8 193.7h0M374.2 189.3h0M382.4 190.3h0M392.4 175.8h0M377.2 198.2h0M377.7 195.0h0M374.9 194.1h0M396.3 209.4h0M380.6 196.3h0M380.6 190.0h0M398.5 186.7h0M387.0 209.9h0M379.5 200.4h0M390.5 182.4h0M381.9 205.7h0M393.1 185.2h0M378.2 194.7h0M387.3 196.8h0M394.1 191.2h0M385.0 202.7h0M393.9 188.8h0M379.2 198.1h0M391.1 199.0h0M396.9 199.1h0M385.1 204.5h0M380.1 188.1h0M392.5 200.0h0M383.9 172.5h0M380.8 209.9h0M377.8 177.8h0M381.7 197.4h0M386.1 193.0h0M374.0 203.8h0M397.5 182.6h0M373.0 199.4h0M391.4 200.4h0M373.0 190.4h0M379.3 186.9h0M379.2 199.9h0M391.1 205.9h0M400.0 189.4h0M374.0 182.8h0M386.7 211.6h0M385.2 185.1h0M372.2 201.5h0M396.4 175.4h0M396.7 206.8h0M375.2 189.7h0M390.7 199.1h0M393.4 182.1h0M388.1 187.4h0M390.8 198.4h0M395.4 199.8h0M381.6 203.2h0M376.4 183.4h0M382.7 191.5h0M385.0 178.3h0M378.4 205.8h0M390.8 198.3h0M381.0 193.1h0M398.3 193.4h0M387.0 194.2h0M392.3 201.1h0M384.6 192.7h0M381.6 186.2h0M382.9 190.5h0M383.2 173.1h0M390.1 202.8h0M374.9 205.7h0M383.4 212.7h0M392.3 192.9h0M376.5 180.3h0M384.1 181.6h0M385.4 201.0h0M392.2 188.0h0M380.1 190.5h0M381.6 202.1h0M374.5 192.6h0M385.6 187.5h0M384.1 189.6h0M370.0 191.3h0M385.5 193.6h0M396.1 198.0h0M386.0 191.5h0M377.7 201.4h0M383.7 184.3h0M397.8 205.9h0M396.8 189.6h0M391.5 216.9h0M382.3 187.7h0M386.9 196.3h0M395.9 180.1h0M396.0 198.3h0M396.8 187.7h0M374.7 201.6h0M374.4 183.2h0M372.9 193.5h0M376.6 190.7h0M387.6 198.0h0M396.1 188.5h0M385.1 183.4h0M384.9 207.7h0M380.8 182.0h0M397.9 185.5h0M394.2 198.8h0M384.3 189.6h0M383.8 176.6h0M383.1 196.9h0M389.8 184.5h0M388.0 200.2h0M383.5 174.7h0M385.0 209.6h0M387.7 182.9h0M389.5 206.3h0M391.8 194.9h0M393.9 174.8h0M385.6 181.2h0M385.5 214.1h0M388.9 206.8h0M387.4 186.3h0M375.2 185.3h0M385.9 190.6h0M379.3 176.2h0M370.0 190.0h0M396.7 183.2h0M386.9 176.7h0M396.2 188.1h0M374.6 186.1h0M393.2 205.1h0M385.2 216.2h0M385.7 191.3h0M391.0 177.5h0M385.2 183.9h0M400.2 194.7h0M395.9 185.8h0M397.8 179.0h0M390.0 197.9h0M385.8 187.4h0M395.0 181.3h0M386.6 176.0h0M378.7 181.0h0M392.8 216.4h0M396.5 176.7h0M382.4 211.2h0M385.3 178.9h0M393.0 198.3h0M374.0 184.7h0M387.8 189.1h0M386.0 217.5h0M396.7 192.9h0M388.5 205.0h0M377.2 205.5h0M386.0 204.7h0M377.3 209.4h0M390.5 209.1h0M384.4 210.8h0M382.7 205.0h0M381.2 183.2h0M395.0 203.8h0M394.3 183.0h0M390.2 210.4h0M393.7 174.8h0M391.9 193.0h0M391.7 209.3h0M395.1 175.8h0M376.3 190.2h0M393.9 200.0h0M384.7 185.6h0M379.6 173.1h0M373.5 198.7h0M384.3 231.4h0M382.9 183.1h0M378.4 209.7h0" stroke="#c0c0c0"/><path d="M396.8 185.1h0M406.8 192.6h0M403.4 198.4h0M405.0 189.9h0M399.5 185.1h0M403.0 192.5h0M393.4 185.1h0M402.0 203.2h0M396.9 190.8h0M394.7 179.3h0M400.1 185.1h0M411.3 194.7h0M405.8 191.0h0M401.7 202.6h0M401.1 188.5h0M410.5 200.9h0M407.5 194.4h0M407.5 196.4h0M400.6 187.8h0M397.4 192.1h0M407.0 198.1h0M397.6 197.1h0M404.9 197.7h0M414.3 197.0h0M412.7 196.7h0M394.5 178.8h0M407.1 192.6h0M383.1 187.7h0M385.6 178.4h0M393.9 178.2h0M397.0 185.0h0M407.7 197.1h0M404.6 190.3h0M399.6 202.8h0M405.3 192.2h0M409.2 199.6h0M391.9 180.3h0M409.5 190.0h0M405.7 193.0h0M393.7 186.1h0M399.7 200.4h0M394.0 175.5h0M404.3 193.9h0M396.0 189.5h0M403.3 191.9h0M402.3 190.4h0M399.9 192.6h0M406.9 202.6h0M395.2 199.2h0M401.9 180.9h0M400.1 204.0h0M404.5 195.9h0M406.0 193.0h0M404.8 207.6h0M408.2 195.2h0M406.1 201.8h0M401.6 204.1h0M396.0 187.6h0M396.2 186.2h0M398.3 186.5h0M399.7 203.1h0M397.8 186.6h0M407.0 198.7h0M404.5 202.1h0M399.6 201.5h0M405.0 193.5h0M399.9 192.5h0M402.8 187.8h0M394.1 175.5h0M389.1 179.3h0M405.1 193.9h0M402.7 204.1h0M393.8 178.9h0M409.2 201.3h0M398.4 192.3h0M397.9 188.0h0M408.2 203.9h0M400.2 185.8h0M411.9 194.0h0M412.1 201.1h0M406.2 200.8h0M406.8 194.5h0M399.2 181.6h0M404.7 201.0h0M404.3 190.5h0M400.6 182.1h0M397.6 187.6h0M382.3 183.3h0M395.1 196.1h0M398.3 187.6h0M393.5 183.1h0M396.2 180.7h0M405.0 192.8h0M396.7 183.6h0M408.0 194.3h0M402.1 188.8h0M408.3 203.3h0M407.9 196.8h0M407.9 199.9h0M397.9 192.6h0M394.5 190.8h0M396.2 189.7h0M397.9 191.9h0M391.4 187.6h0M415.9 195.1h0M401.5 189.0h0M410.1 202.3h0M394.3 189.0h0M404.4 198.1h0M408.6 198.4h0M388.4 193.6h0M412.3 196.8h0M405.0 199.7h0M404.1 193.9h0M397.2 192.9h0M402.9 193.3h0M386.2 180.7h0M405.1 200.7h0M401.4 203.6h0M399.9 202.6h0M403.4 190.3h0M407.3 198.0h0M383.9 180.8h0M377.9 190.9h0M404.5 201.1h0M403.4 203.3h0M394.4 193.7h0M394.4 187.9h0M387.3 181.8h0M398.8 182.6h0M396.9 184.6h0M398.9 192.8h0M383.1 183.6h0M407.8 188.0h0M399.0 188.3h0M419.0 195.5h0M393.2 198.3h0M404.9 201.1h0M406.6 201.2h0M403.2 200.9h0M404.6 195.5h0M418.7 195.4h0M410.9 202.5h0M377.2 190.3h0M407.7 190.4h0M419.1 192.0h0M397.4 201.9h0M401.4 196.9h0M407.4 195.1h0M399.8 198.2h0M403.1 196.5h0M396.9 195.3h0M404.9 202.6h0M396.3 182.0h0M393.7 189.0h0M406.7 193.9h0M418.0 192.0h0M400.3 195.9h0M405.2 197.0h0M402.8 190.0h0M398.2 185.3h0M402.4 198.6h0M400.1 193.7h0M399.8 189.3h0M399.1 182.0h0M388.2 176.2h0M396.1 182.5h0M398.6 194.9h0M406.4 189.7h0M414.6 196.3h0M400.8 182.5h0M398.5 189.3h0M402.2 187.1h0M401.1 196.4h0M406.9 192.6h0M401.8 190.7h0M403.0 191.0h0M397.6 178.0h0M407.4 190.4h0M406.3 196.6h0M401.6 193.5h0M403.1 184.6h0M400.0 200.2h0M403.3 197.9h0M405.1 198.8h0M402.3 190.0h0M406.8 189.8h0M394.9 192.7h0M400.4 196.2h0M386.0 182.6h0M406.8 193.4h0M395.7 187.3h0M404.9 194.3h0M402.4 187.7h0M394.3 188.0h0M408.1 193.5h0M411.5 196.1h0M409.7 189.2h0M413.5 198.3h0M406.7 190.6h0M403.0 190.1h0M405.5 186.6h0M416.4 195.5h0M397.8 188.9h0M402.9 203.6h0M398.9 179.4h0M407.7 199.5h0M400.1 185.2h0M395.4 179.7h0M404.0 191.6h0" stroke="#0000ff"/><path d="M422.1 194.2h0M402.4 187.5h0M404.2 190.6h0M416.9 197.0h0M414.8 198.0h0M409.4 190.1h0M413.8 197.2h0M396.0 177.6h0M399.4 186.0h0M409.4 186.8h0M394.5 176.3h0M406.1 184.5h0M408.5 192.9h0M412.4 193.2h0M415.3 189.9h0M399.7 184.8h0M426.6 189.8h0M422.0 195.0h0M408.2 191.1h0M412.2 191.9h0M407.2 191.1h0M399.5 182.1h0M406.3 187.2h0M411.6 196.5h0M405.8 184.1h0M423.8 191.1h0M394.5 176.8h0M395.1 176.9h0" stroke="#0102ff"/><path d="M417.5 196.9h0M409.5 188.9h0M409.5 187.7h0M410.1 188.1h0M413.0 195.8h0M400.6 184.0h0M403.6 185.8h0M407.4 189.4h0M406.7 190.6h0M400.8 179.1h0M416.0 194.8h0M415.4 195.0h0M405.9 188.5h0" stroke="#0a14ff"/><path d="M412.3 192.4h0M426.0 194.2h0M398.8 186.7h0M416.1 196.7h0M429.9 191.1h0M415.4 194.3h0M402.8 191.4h0M405.6 182.4h0M411.6 193.7h0M421.4 191.9h0M402.0 180.0h0M430.6 190.7h0M415.5 191.8h0M407.3 195.4h0M414.4 195.5h0M401.9 184.2h0M408.7 190.1h0M406.0 188.5h0" stroke="#142bff"/><path d="M400.3 181.1h0M397.6 176.2h0M412.1 194.1h0M398.8 176.3h0M426.2 193.2h0M394.8 172.3h0M416.9 194.5h0M399.8 180.1h0M414.8 191.2h0M403.2 183.3h0M409.8 186.2h0M407.4 187.2h0M405.8 188.1h0M407.4 183.9h0M415.1 188.5h0" stroke="#1f4cff"/><path d="M423.3 192.0h0M402.6 184.5h0M406.7 190.6h0M401.9 184.0h0M404.7 186.7h0M421.9 192.1h0M417.0 191.2h0M408.0 187.0h0M403.4 182.9h0M418.0 185.0h0M428.5 190.4h0M400.7 180.7h0M402.7 179.4h0M408.1 184.6h0M433.1 189.1h0M403.1 179.8h0M420.5 188.9h0" stroke="#2860ff"/><path d="M399.5 179.1h0M414.8 192.4h0M424.8 189.5h0M417.4 194.1h0M407.5 186.0h0M408.1 188.0h0M406.3 184.1h0M400.7 182.7h0M417.3 187.6h0M403.2 184.4h0M404.6 185.8h0M415.4 189.8h0M408.2 185.9h0M408.5 186.9h0M403.8 177.2h0M397.9 175.7h0M414.1 188.2h0M406.2 179.0h0M425.8 193.2h0M418.7 187.6h0M430.7 188.4h0M414.7 194.1h0M403.4 180.0h0" stroke="#3172ff"/><path d="M408.9 193.6h0M426.9 192.7h0M401.3 179.9h0M411.8 184.7h0M409.2 182.7h0M425.7 191.9h0M412.3 191.5h0M402.6 177.7h0M404.7 180.6h0M422.6 185.5h0M427.1 188.2h0M431.0 189.9h0M422.7 190.6h0M408.8 181.1h0M430.7 195.5h0M414.3 192.9h0M415.4 187.9h0M422.8 188.1h0M423.6 188.2h0M415.1 191.9h0M432.7 183.0h0M418.1 190.8h0" stroke="#3a83ff"/><path d="M413.1 185.8h0M405.3 179.1h0M430.4 186.2h0M430.5 187.9h0M407.5 180.7h0M407.3 183.4h0M408.6 187.8h0M413.9 190.5h0M410.9 181.7h0M409.2 184.1h0M433.1 188.0h0M408.5 181.7h0M404.5 182.7h0M430.7 191.6h0M422.2 188.3h0M418.1 189.6h0M407.6 182.7h0M422.6 190.0h0M416.1 184.6h0M419.8 188.5h0M431.7 188.2h0M422.8 191.1h0M412.5 190.2h0M417.5 189.2h0M402.9 180.7h0M428.9 191.3h0" stroke="#4397ff"/><path d="M407.0 181.4h0M418.2 186.6h0M406.2 188.2h0M426.7 189.9h0M421.1 188.7h0M402.5 177.0h0M408.3 188.6h0M403.1 180.0h0M428.4 192.5h0M419.6 189.7h0M409.9 183.3h0M421.9 183.9h0M407.7 183.5h0M402.5 183.6h0M405.9 178.1h0M415.8 190.8h0M424.8 184.4h0M415.0 188.1h0M422.6 187.7h0M423.4 186.4h0M421.4 189.2h0M412.5 185.9h0M419.0 187.3h0" stroke="#4eadff"/><path d="M415.5 189.8h0M415.6 185.7h0M418.6 183.4h0M412.2 189.1h0M415.3 187.5h0M408.1 185.2h0M424.6 185.9h0M436.7 188.9h0M423.7 186.1h0M408.1 180.0h0M421.9 190.4h0M410.9 187.3h0M414.2 190.1h0M408.8 182.2h0M407.7 183.3h0M429.3 187.5h0M430.7 189.4h0M421.8 186.8h0M423.8 184.1h0M438.0 187.4h0M406.8 182.0h0M420.1 188.9h0" stroke="#58bfff"/><path d="M436.0 187.5h0M404.2 181.4h0M407.7 184.5h0M434.6 188.0h0M419.0 188.5h0M420.2 187.6h0M426.4 184.7h0M421.6 186.8h0M411.7 183.6h0M415.9 188.1h0M401.5 174.4h0M409.7 180.2h0M404.5 181.2h0M412.4 188.7h0M432.9 183.2h0M401.9 175.4h0M431.5 190.7h0M431.8 186.6h0M423.3 188.9h0M426.4 183.7h0M415.9 181.3h0M420.9 185.2h0M411.0 185.6h0M434.3 185.6h0M410.2 183.8h0" stroke="#61d1ff"/><path d="M405.3 178.4h0M407.5 178.3h0M406.6 180.3h0M416.3 185.1h0M425.0 188.6h0M420.7 186.0h0M416.2 183.1h0M423.5 183.7h0M405.5 179.9h0M412.4 188.3h0M412.1 189.5h0M401.6 179.4h0M430.5 182.0h0M416.8 181.9h0M412.9 188.4h0M420.8 184.2h0M431.1 188.9h0M418.8 183.9h0M429.7 179.1h0M426.2 187.6h0M436.1 184.6h0M405.5 184.1h0" stroke="#72e8ff"/><path d="M410.9 182.3h0M421.4 181.8h0M410.9 181.2h0M417.2 181.4h0M420.0 183.2h0M404.4 179.3h0M423.1 186.5h0M415.2 185.1h0M410.8 184.2h0M415.1 186.0h0M436.4 182.6h0M419.1 183.3h0M431.7 181.4h0M405.0 178.4h0M420.5 184.3h0" stroke="#7bf7ff"/><path d="M430.9 181.8h0M414.3 187.0h0M432.7 182.8h0M420.8 182.9h0M437.0 184.2h0M417.8 185.8h0M415.3 181.0h0M417.2 182.9h0M428.5 188.0h0M422.9 184.5h0M436.7 186.6h0M419.7 184.0h0M415.2 182.1h0M413.4 182.1h0M425.5 180.9h0M429.8 184.6h0M416.4 186.1h0M424.3 182.3h0M441.6 183.2h0M426.7 187.9h0M431.2 184.7h0" stroke="#80fefc"/><path d="M419.0 180.8h0M422.9 190.5h0M426.1 183.5h0M424.0 180.1h0M413.7 184.9h0M429.4 187.0h0M416.3 182.7h0M427.5 182.6h0M411.6 180.3h0M427.4 183.8h0M438.1 184.5h0M418.8 181.2h0M420.6 184.2h0M412.4 185.3h0M431.0 186.3h0M442.9 182.9h0M425.9 186.9h0M416.1 179.7h0M418.5 182.9h0M427.7 186.8h0M426.4 186.0h0M431.0 187.9h0M422.9 183.5h0M406.8 181.0h0M422.5 182.9h0M412.3 181.0h0M421.0 186.4h0M424.7 184.8h0M436.0 182.2h0M410.8 179.3h0M413.1 181.7h0M417.4 183.2h0" stroke="#80fbee"/><path d="M405.5 176.2h0M415.9 181.2h0M432.0 186.0h0M421.1 180.9h0M414.1 180.9h0M405.2 176.5h0M408.6 180.8h0M433.2 181.3h0M431.5 183.6h0M411.8 179.3h0M434.0 181.5h0M416.5 184.2h0M428.8 180.7h0M411.8 182.5h0M429.3 181.4h0M424.4 181.9h0M415.2 179.6h0M417.9 180.2h0M427.9 181.5h0M424.4 182.9h0M406.5 176.8h0M429.8 184.2h0M420.6 184.8h0M422.8 182.8h0M414.7 182.9h0M431.5 183.8h0M413.4 185.8h0M422.4 181.0h0M417.2 187.5h0" stroke="#80f8df"/><path d="M428.7 185.4h0M412.8 179.4h0M426.7 184.4h0M421.8 188.3h0M428.6 184.3h0M417.9 183.6h0M417.4 182.2h0M421.1 177.4h0M425.6 187.1h0M416.9 185.1h0M400.4 173.7h0M415.8 182.9h0M424.9 183.3h0M417.2 181.9h0M413.9 184.4h0M406.7 173.2h0M439.3 180.5h0M402.5 173.1h0M434.0 186.1h0M411.2 180.0h0M435.7 181.0h0" stroke="#77f3ce"/><path d="M405.3 174.9h0M416.8 185.5h0M426.6 182.1h0M426.5 179.9h0M411.7 179.3h0M447.0 182.4h0M413.5 180.1h0M425.0 181.0h0M411.0 182.0h0M426.0 183.0h0M439.7 183.1h0M411.0 178.3h0M418.0 183.7h0M430.1 180.3h0M439.7 186.1h0M407.8 179.2h0M419.1 178.3h0M414.5 181.5h0M430.6 180.0h0M431.6 178.4h0M424.8 184.2h0M405.8 174.4h0" stroke="#6ef0bc"/><path d="M411.1 178.5h0M421.2 176.5h0M436.8 184.2h0M412.0 180.9h0M403.8 170.8h0M438.2 185.0h0M418.4 183.1h0M438.8 183.0h0M424.9 183.7h0M419.6 177.9h0M416.4 182.7h0M428.4 181.8h0M434.1 182.0h0M412.9 181.2h0M411.8 183.0h0M420.6 176.4h0M419.5 181.4h0M414.0 177.7h0M418.1 175.8h0M424.9 181.8h0M434.1 178.5h0M410.2 175.7h0M409.6 176.3h0M418.0 178.3h0M428.2 180.4h0M408.1 179.0h0M435.8 182.9h0M423.3 179.1h0M420.6 180.0h0M428.6 179.0h0M413.4 182.4h0" stroke="#65f0aa"/><path d="M441.6 182.5h0M415.9 180.5h0M415.6 177.0h0M431.7 177.7h0M418.8 182.1h0M419.9 180.8h0M422.6 183.9h0M437.0 186.2h0M416.0 177.8h0M427.3 181.6h0M417.6 178.8h0M426.1 184.2h0M423.7 178.7h0M420.9 180.5h0M414.5 177.8h0M403.7 174.2h0M435.9 182.1h0" stroke="#5cf094"/><path d="M398.6 168.0h0M425.0 183.1h0M404.8 174.8h0M438.4 181.6h0M423.7 178.4h0M416.8 178.6h0M437.8 179.7h0M426.6 186.7h0M438.9 180.8h0M416.8 179.0h0M404.2 173.5h0M427.6 180.8h0M422.3 175.3h0M431.7 182.3h0M435.1 179.8h0M403.6 173.5h0M425.6 180.8h0M425.8 182.4h0M425.2 177.5h0M423.0 179.5h0M400.8 172.3h0M412.9 178.3h0M440.7 178.0h0M419.2 177.9h0" stroke="#53f079"/><path d="M421.1 177.9h0M441.3 187.9h0M425.2 178.6h0M425.5 178.2h0M435.2 183.9h0M433.4 179.9h0M426.4 180.0h0M412.6 182.3h0M410.2 174.1h0M413.5 179.3h0M414.2 178.9h0M410.6 175.3h0M428.7 176.4h0M425.3 181.1h0M408.8 173.8h0M410.5 175.3h0M407.2 172.5h0M427.1 179.3h0" stroke="#4af05f"/><path d="M400.7 171.5h0M436.3 176.8h0M431.6 178.3h0M408.9 175.3h0M418.5 177.6h0M424.4 179.8h0M411.6 177.5h0M439.7 180.0h0M426.9 176.3h0M422.1 179.6h0" stroke="#41f044"/><path d="M410.3 176.3h0M438.0 178.4h0M427.9 175.6h0M411.6 178.1h0M432.7 178.8h0M412.6 175.7h0M432.5 178.3h0M430.9 180.6h0M428.6 175.7h0M421.8 179.1h0M435.1 179.0h0M419.9 174.8h0M440.1 179.3h0M423.5 179.1h0M436.2 177.7h0M413.8 174.9h0M438.1 177.7h0M436.5 177.2h0M417.3 178.4h0M436.8 178.3h0M440.5 179.3h0" stroke="#3af02d"/><path d="M423.1 177.8h0M416.0 175.7h0M425.1 175.5h0M423.1 177.1h0M413.4 177.1h0M422.2 178.5h0M420.4 176.7h0M432.4 176.0h0M438.9 177.3h0M424.2 175.7h0M423.4 176.5h0M429.5 174.1h0M425.0 176.5h0M419.7 175.7h0M430.2 177.8h0M402.7 171.6h0M450.0 179.0h0M424.0 176.6h0M438.5 177.4h0" stroke="#32f017"/><path d="M422.5 175.8h0M409.2 171.5h0M431.0 176.3h0M421.7 177.0h0M424.9 182.8h0M434.1 177.8h0M434.9 175.0h0M421.5 175.8h0M415.2 174.0h0M436.7 173.4h0M424.7 178.8h0M434.1 176.9h0M441.9 175.5h0M418.6 175.5h0M435.6 180.6h0M421.7 179.4h0M419.9 174.3h0M409.2 172.6h0M416.3 176.1h0M440.7 175.6h0" stroke="#33f010"/><path d="M424.3 177.7h0M431.7 178.7h0M432.6 175.9h0M426.5 174.6h0M424.6 178.7h0M414.2 174.9h0M410.4 171.2h0M408.9 175.0h0M417.4 172.9h0M420.6 178.2h0M430.2 175.4h0" stroke="#36f010"/><path d="M421.9 173.3h0M421.3 177.3h0M431.5 179.6h0M415.7 174.3h0M415.9 174.5h0M413.4 171.1h0M437.7 175.8h0M431.3 176.1h0" stroke="#44f012"/><path d="M431.2 177.3h0M440.1 177.7h0M426.0 174.7h0M417.2 173.4h0M420.4 173.3h0M431.5 179.1h0M411.8 175.9h0M440.3 175.0h0M450.3 178.6h0M454.1 176.5h0M412.1 176.4h0M425.6 175.4h0M429.6 172.9h0M423.9 173.5h0M425.0 176.4h0" stroke="#5af015"/><path d="M430.8 174.7h0M413.7 176.2h0M442.7 177.9h0M407.7 170.6h0M431.2 175.6h0M413.5 171.6h0" stroke="#71f018"/><path d="M415.9 172.7h0M444.5 176.6h0M410.4 172.8h0M431.9 174.1h0M432.5 175.0h0M436.6 174.2h0M433.6 171.1h0M425.7 174.2h0M416.0 173.8h0M415.8 172.4h0M447.4 177.8h0" stroke="#87f01c"/><path d="M431.8 175.3h0M424.2 172.6h0M442.7 173.5h0M438.7 174.8h0M442.0 173.9h0M429.1 175.2h0M428.5 173.2h0M429.6 173.9h0M421.7 172.6h0M434.4 173.8h0M443.4 175.7h0" stroke="#9df020"/><path d="M444.1 174.7h0M448.2 176.9h0M417.9 174.6h0M437.7 175.4h0" stroke="#adf026"/><path d="M444.5 173.6h0M409.5 171.2h0M415.5 172.6h0" stroke="#bcf02e"/><path d="M453.2 176.8h0M430.5 172.1h0M432.9 170.2h0M453.3 172.6h0M433.3 172.7h0M412.1 170.0h0M424.2 174.8h0M441.3 173.8h0M413.8 174.0h0M420.9 174.9h0M455.3 177.0h0" stroke="#c9f235"/><path d="M417.6 169.7h0M427.6 174.4h0M414.5 170.8h0M414.3 171.2h0M453.6 174.4h0M425.6 173.6h0M417.6 169.7h0M432.4 172.7h0" stroke="#d6f53b"/><path d="M440.0 171.3h0M431.6 171.0h0M416.6 170.9h0M436.2 172.4h0M440.3 172.3h0M430.9 171.5h0M413.5 172.8h0" stroke="#e2f841"/><path d="M412.6 170.8h0M453.3 175.3h0M427.1 173.3h0M420.7 169.8h0M423.6 172.0h0M425.4 170.5h0" stroke="#ebf844"/><path d="M443.9 170.5h0M411.3 171.3h0M436.1 171.2h0M441.1 172.0h0M455.8 174.3h0" stroke="#f5f847"/><path d="M436.5 171.2h0M427.0 171.7h0M437.4 169.9h0M453.3 173.5h0" stroke="#f3e642"/><path d="M440.4 174.3h0M442.8 170.6h0M444.4 171.7h0" stroke="#edcb39"/><path d="M434.7 172.3h0M438.4 172.3h0" stroke="#eab834"/><path d="M459.4 171.6h0M456.3 172.0h0M430.2 170.5h0M440.3 172.1h0M432.3 170.6h0M454.5 173.2h0" stroke="#e8a730"/><path d="M448.9 171.0h0M421.9 170.2h0" stroke="#e8992b"/><path d="M414.3 167.1h0M428.2 170.4h0M450.1 173.0h0M436.6 171.5h0" stroke="#e98b27"/><path d="M453.2 172.1h0M459.6 170.5h0M460.4 172.6h0" stroke="#ec7c24"/><path d="M461.8 171.3h0M457.3 171.1h0" stroke="#ed6e22"/><path d="M435.1 171.5h0M438.0 169.2h0M424.8 168.7h0" stroke="#ee5f20"/><path d="M457.9 166.8h0" stroke="#f12b16"/></g>
</g>
<g clip-path="url(#c7)"><line x1="359.10" y1="234.00" x2="469.50" y2="138.00" stroke="#111" stroke-width="1.1" stroke-dasharray="3.2,1.8"/>
<line x1="369.2" y1="199" x2="460.8" y2="170.8" stroke="#f52020" stroke-width="1.1"/></g>
<path d="M358.8 138H470.2M358.8 234H470.2" stroke="#222" stroke-width="1.45" fill="none"/>
<path d="M359.5 138V234M469.5 138V234" stroke="#1a1a1a" stroke-width="1.15" fill="none"/>
<path d="M359.10 234v2.2M359.5 234.00h-2.2M370.18 234v1.2M359.5 224.37h-1.2M376.66 234v1.2M359.5 218.73h-1.2M381.26 234v1.2M359.5 214.73h-1.2M384.82 234v1.2M359.5 211.63h-1.2M387.74 234v1.2M359.5 209.10h-1.2M390.20 234v1.2M359.5 206.96h-1.2M392.33 234v1.2M359.5 205.10h-1.2M394.22 234v1.2M359.5 203.46h-1.2M395.90 234v2.2M359.5 202.00h-2.2M406.98 234v1.2M359.5 192.37h-1.2M413.46 234v1.2M359.5 186.73h-1.2M418.06 234v1.2M359.5 182.73h-1.2M421.62 234v1.2M359.5 179.63h-1.2M424.54 234v1.2M359.5 177.10h-1.2M427.00 234v1.2M359.5 174.96h-1.2M429.13 234v1.2M359.5 173.10h-1.2M431.02 234v1.2M359.5 171.46h-1.2M432.70 234v2.2M359.5 170.00h-2.2M443.78 234v1.2M359.5 160.37h-1.2M450.26 234v1.2M359.5 154.73h-1.2M454.86 234v1.2M359.5 150.73h-1.2M458.42 234v1.2M359.5 147.63h-1.2M461.34 234v1.2M359.5 145.10h-1.2M463.80 234v1.2M359.5 142.96h-1.2M465.93 234v1.2M359.5 141.10h-1.2M467.82 234v1.2M359.5 139.46h-1.2M469.50 234v2.2M359.5 138.00h-2.2" stroke="#222" stroke-width="0.9" fill="none"/>
<text x="359.60" y="247.90" font-size="9.6" text-anchor="middle" fill="#1a1a1a">10<tspan font-size="6.8" dx="-0.3" dy="-3.7">5</tspan></text>
<text x="354.60" y="237.50" font-size="9.6" text-anchor="end" fill="#1a1a1a">10<tspan font-size="6.8" dx="-0.4" dy="-3.7">5</tspan></text>
<text x="396.40" y="247.90" font-size="9.6" text-anchor="middle" fill="#1a1a1a">10<tspan font-size="6.8" dx="-0.3" dy="-3.7">6</tspan></text>
<text x="354.60" y="205.50" font-size="9.6" text-anchor="end" fill="#1a1a1a">10<tspan font-size="6.8" dx="-0.4" dy="-3.7">6</tspan></text>
<text x="433.20" y="247.90" font-size="9.6" text-anchor="middle" fill="#1a1a1a">10<tspan font-size="6.8" dx="-0.3" dy="-3.7">7</tspan></text>
<text x="354.60" y="173.50" font-size="9.6" text-anchor="end" fill="#1a1a1a">10<tspan font-size="6.8" dx="-0.4" dy="-3.7">7</tspan></text>
<text x="470.00" y="247.90" font-size="9.6" text-anchor="middle" fill="#1a1a1a">10<tspan font-size="6.8" dx="-0.3" dy="-3.7">8</tspan></text>
<text x="354.60" y="141.50" font-size="9.6" text-anchor="end" fill="#1a1a1a">10<tspan font-size="6.8" dx="-0.4" dy="-3.7">8</tspan></text>
<text transform="translate(339.00,185.40) rotate(-90)" font-size="10.6" text-anchor="middle" fill="#1a1a1a">Estimation</text>
<text x="414.50" y="262.9" font-size="10.4" text-anchor="middle" fill="#1a1a1a">Measurement</text>
<text x="407.70" y="134.70" font-size="9.7" fill="#1a1a1a">P<tspan font-size="7.1" dx="0.1" dy="2.3">7</tspan></text>
<text x="361.20" y="148.40" font-size="9.7" fill="#1a1a1a">R=0.7</text>
<text x="361.20" y="160.50" font-size="9.7" fill="#1a1a1a">RE=1.87</text>
<text x="437.40" y="148.20" font-size="9.7" fill="#1a1a1a">1:1</text>
<text x="415.60" y="216.80" font-size="9.7" fill="#f21818">Slope=0.37</text>
<text x="415.60" y="228.90" font-size="9.7" fill="#f21818">Intercept=4.1</text>
<clipPath id="c8"><rect x="524.5" y="138" width="110.0" height="96"/></clipPath>
<g clip-path="url(#c8)">
<g stroke-width="2.5" stroke-linecap="round" fill="none"><path d="M543.9 203.2h0M545.0 216.9h0M541.7 197.7h0M559.9 220.1h0M545.8 203.5h0M544.5 210.4h0M554.7 209.4h0M558.1 216.4h0M561.0 215.8h0M549.1 224.7h0M540.5 209.7h0M552.3 226.9h0M541.9 212.4h0M548.1 212.1h0M566.6 206.3h0M537.4 203.7h0M558.1 204.4h0M545.6 209.4h0M557.9 201.9h0M536.8 202.4h0M552.5 217.9h0M546.1 210.6h0M538.9 204.8h0M561.9 204.7h0M557.8 210.2h0M552.8 207.8h0M543.0 217.7h0M549.8 215.3h0M560.7 204.0h0M559.9 213.0h0M561.5 217.9h0M536.8 206.9h0M548.2 208.1h0M535.6 207.5h0M554.2 216.1h0M547.6 196.9h0M558.5 202.0h0M548.8 204.9h0M550.4 225.5h0M545.0 220.0h0M541.3 201.9h0M552.9 210.0h0M550.2 208.8h0M552.7 209.4h0M554.1 209.2h0M558.2 197.3h0M562.0 202.3h0M534.2 213.0h0M553.2 205.9h0M553.7 194.0h0M538.1 209.8h0M542.7 218.0h0M545.5 218.6h0M547.2 212.9h0M550.5 226.1h0M547.9 196.6h0M546.6 203.2h0M559.9 214.9h0M553.3 203.4h0M546.0 198.1h0M544.2 207.8h0M546.9 196.4h0M558.1 211.8h0M549.8 202.7h0M538.5 214.1h0M545.3 217.2h0M558.7 199.5h0M557.6 188.5h0M557.6 196.5h0M542.3 201.7h0M562.1 217.6h0M569.1 205.2h0M560.4 217.4h0M544.4 210.2h0M539.5 213.3h0M558.9 213.7h0M550.7 215.7h0M552.2 215.7h0M551.9 214.1h0M545.1 207.9h0M536.8 212.1h0M561.0 209.4h0M548.3 214.5h0M545.7 211.5h0M546.7 200.4h0M558.3 213.7h0M547.9 217.0h0M542.7 204.2h0M552.2 210.8h0M547.9 210.1h0M563.5 210.0h0M547.1 218.3h0M556.3 198.4h0M535.9 205.7h0M550.8 215.6h0M548.8 223.7h0M535.3 209.9h0M548.2 222.1h0M545.1 207.7h0M553.1 221.1h0M546.6 202.7h0M554.7 219.6h0M553.2 216.8h0M545.9 227.0h0M542.8 200.3h0M540.4 223.2h0M544.0 205.8h0M550.3 214.5h0M550.9 206.3h0M557.0 202.2h0M560.2 197.2h0M565.3 210.2h0M540.2 208.5h0M545.2 207.1h0M563.4 199.5h0M561.6 224.4h0M565.2 209.0h0M552.0 202.4h0M556.2 211.8h0M561.7 200.2h0M555.1 194.5h0M557.3 224.5h0M539.3 205.3h0M541.5 206.7h0M538.9 209.6h0M561.3 207.2h0M550.2 220.8h0M556.9 196.0h0M548.9 209.4h0M551.6 222.5h0M549.2 206.0h0M555.0 212.1h0M548.1 199.9h0M547.1 203.1h0M539.4 213.1h0M539.3 202.1h0M548.0 218.8h0M561.8 219.8h0M540.9 217.3h0M553.3 215.1h0M551.3 221.2h0M559.7 201.8h0M550.7 194.7h0M540.2 206.2h0M564.8 196.0h0M547.6 208.9h0M559.9 221.6h0M552.1 204.3h0M546.7 218.3h0M546.6 199.2h0M539.7 210.9h0M550.9 215.8h0M546.5 205.3h0M562.3 207.2h0M551.3 223.6h0M561.0 194.5h0M547.2 211.2h0M563.9 198.3h0M559.5 199.5h0M551.8 217.2h0M550.0 221.8h0M549.0 227.0h0M558.2 209.6h0M544.7 216.8h0M549.3 195.1h0M540.7 207.8h0M544.2 212.5h0M553.4 207.5h0M551.3 213.8h0M537.1 211.5h0M561.8 205.2h0M540.1 218.7h0M546.7 224.7h0M550.4 208.4h0M548.8 194.0h0M539.7 198.8h0M563.2 210.4h0M547.1 221.6h0M544.0 212.7h0M558.5 224.2h0M545.1 212.4h0M563.2 209.0h0M543.8 213.2h0M561.1 203.7h0M548.0 206.4h0M543.9 219.7h0M544.0 210.3h0M540.1 215.2h0M549.7 213.0h0M549.4 210.8h0M547.8 210.1h0M548.2 192.3h0M550.9 219.0h0M556.5 223.8h0M539.5 203.7h0M553.5 191.4h0M551.5 224.2h0M555.1 203.3h0M562.1 212.4h0M558.8 217.1h0M553.7 199.6h0M549.4 214.5h0M556.2 217.8h0M561.9 209.0h0M553.6 204.6h0M557.2 217.3h0M546.8 218.0h0M564.0 201.6h0M564.6 208.0h0M553.1 218.6h0M547.5 210.4h0M551.9 201.7h0M558.0 203.9h0M550.2 212.3h0M539.3 205.3h0M549.3 209.5h0M543.5 199.7h0M541.9 206.5h0M559.9 195.1h0M559.4 223.1h0M565.6 216.8h0M551.2 196.6h0M542.6 202.0h0M558.3 202.1h0M556.2 207.7h0M554.0 196.4h0M542.9 209.6h0M561.5 213.8h0M545.1 207.8h0M543.1 198.0h0M552.0 218.0h0M552.2 205.7h0M558.1 202.3h0M540.8 215.7h0M559.6 192.4h0M562.6 212.8h0M562.4 202.3h0M550.1 209.7h0M559.8 217.3h0M552.1 226.1h0M552.8 212.4h0M536.4 210.3h0M561.5 198.8h0M547.9 210.7h0M563.1 210.7h0M539.7 209.5h0M557.2 208.4h0M536.0 206.7h0M535.7 204.1h0M562.1 223.9h0M536.6 209.1h0M547.6 208.7h0M548.5 202.5h0M539.7 202.3h0M553.2 218.0h0M562.0 211.6h0M539.9 217.5h0M559.6 191.6h0M562.1 223.2h0M557.3 215.0h0M563.0 200.8h0M563.3 195.1h0M559.9 196.2h0M546.5 210.7h0M558.7 229.3h0M544.5 193.5h0M552.2 202.8h0M557.5 203.8h0M556.0 229.5h0M537.4 210.1h0M553.0 215.6h0M538.6 207.4h0M560.9 211.0h0M562.6 214.0h0M541.2 207.1h0M541.0 210.5h0M546.9 213.9h0M544.9 217.3h0M558.0 199.7h0M543.0 213.8h0M541.3 203.8h0M538.1 204.7h0M543.2 202.7h0M546.4 210.5h0M555.9 206.2h0M536.9 208.5h0M556.6 193.7h0M558.3 215.5h0M537.5 204.8h0M560.8 211.3h0M555.7 222.9h0M548.6 193.3h0M551.9 212.7h0M536.4 215.2h0M556.5 217.7h0M543.0 205.5h0M551.9 200.5h0M556.9 211.2h0M537.5 210.0h0M560.1 205.7h0M539.3 198.2h0M544.4 212.3h0M555.1 193.1h0M547.4 219.9h0M539.0 200.2h0M562.2 211.9h0M538.4 211.5h0M557.0 206.3h0M554.8 222.3h0M563.0 199.6h0M560.6 210.7h0M565.5 198.6h0M561.5 215.5h0M563.9 207.6h0M560.7 197.3h0M551.6 210.5h0M543.9 207.8h0M555.3 227.8h0M565.9 206.3h0M558.4 197.8h0M558.8 208.3h0M545.5 210.7h0M558.2 227.9h0M551.2 209.8h0M553.4 202.4h0M546.5 209.8h0M553.3 204.4h0M548.5 193.9h0M539.5 211.0h0M560.3 211.9h0M552.1 201.5h0M553.1 223.1h0M565.5 210.9h0M563.3 201.7h0M545.8 196.4h0M554.9 215.1h0M550.0 199.0h0M541.8 220.6h0M548.9 195.7h0M550.0 201.0h0M550.5 217.1h0M553.2 199.9h0M552.6 191.9h0M565.0 210.8h0M538.7 212.2h0M567.2 208.6h0M538.1 203.5h0M558.6 212.3h0M561.7 217.9h0M550.7 202.8h0M552.8 194.1h0M551.9 207.9h0M561.8 203.0h0M566.1 213.0h0M560.9 218.5h0M545.8 221.1h0M557.0 209.9h0M555.3 222.1h0M550.0 209.8h0M548.5 200.7h0M550.8 199.1h0M546.0 212.0h0M546.9 221.5h0M542.2 202.6h0M547.2 215.6h0M546.9 207.2h0M545.9 212.5h0M548.2 191.3h0M542.9 219.0h0M566.5 208.3h0M555.3 193.6h0M556.4 208.3h0M542.9 210.0h0M565.8 206.2h0M561.2 200.8h0M546.7 223.7h0M551.1 207.3h0M545.4 214.5h0M565.9 204.1h0M554.2 213.0h0M537.3 203.8h0M556.1 200.9h0M556.8 219.7h0M552.2 214.2h0M552.7 210.5h0M534.6 206.5h0M563.3 219.8h0M552.6 190.8h0M544.5 195.9h0M546.5 213.5h0M551.6 194.0h0M543.6 211.4h0M544.2 212.4h0M549.0 214.3h0M559.9 225.5h0M561.2 194.1h0M549.7 201.5h0M541.6 208.5h0M555.5 203.6h0M559.7 196.1h0M556.7 220.2h0M567.0 210.4h0M549.7 213.4h0M547.4 207.6h0M535.0 206.3h0M557.6 197.4h0M545.8 202.0h0M558.7 221.1h0M544.4 209.8h0M560.9 212.6h0M548.3 210.5h0M558.6 209.0h0M555.8 214.5h0M564.2 207.9h0M541.4 198.5h0M541.9 201.9h0M565.7 201.5h0M555.6 194.6h0M554.9 196.9h0M558.5 222.6h0M540.4 217.0h0M554.5 206.4h0M558.7 198.7h0M563.7 207.3h0M542.4 209.1h0M557.5 224.3h0M541.3 220.9h0M543.0 214.8h0M547.3 204.9h0M555.4 226.1h0M542.2 215.3h0M553.9 208.2h0M537.2 208.4h0M538.0 211.4h0M553.8 226.3h0M547.8 201.1h0M545.7 207.8h0M552.5 216.1h0M570.3 211.0h0M562.5 210.4h0M555.9 190.7h0M557.2 207.7h0M546.0 216.6h0M544.0 212.6h0M549.0 219.5h0M542.8 213.0h0M556.6 206.5h0M549.0 210.5h0M544.4 216.0h0M561.4 205.1h0M562.9 196.4h0M552.2 215.6h0M545.9 207.6h0M543.7 201.1h0M563.5 214.8h0M556.5 216.5h0M561.8 200.4h0M561.5 198.2h0M538.1 210.8h0M547.8 213.9h0M557.5 212.4h0M541.3 203.0h0M542.2 218.6h0M544.4 218.8h0M564.2 207.0h0M546.1 194.2h0M543.6 193.4h0M558.7 210.8h0M545.7 196.6h0M543.6 201.0h0M555.4 194.3h0M552.6 223.8h0M554.6 204.0h0M562.1 207.9h0M549.0 227.4h0M538.1 216.1h0M549.5 223.0h0M542.7 221.9h0M545.0 217.0h0M561.3 197.1h0M549.7 208.8h0M551.6 207.3h0M562.4 211.7h0M552.7 223.9h0M561.1 225.3h0M547.1 213.4h0M543.7 193.6h0M554.4 203.2h0M559.8 213.5h0M545.4 203.1h0M558.6 223.8h0M556.7 208.5h0M566.5 208.5h0M564.8 217.3h0M562.7 211.1h0M562.2 213.7h0M565.0 214.2h0M562.7 210.5h0M561.1 211.4h0M553.5 208.7h0M564.8 202.1h0M541.1 214.9h0M556.1 203.1h0M540.6 209.4h0M565.2 196.5h0M545.4 204.0h0M551.0 213.0h0M537.8 208.0h0M548.0 205.3h0M553.2 228.3h0M561.7 218.0h0M558.8 215.5h0M545.8 222.1h0M562.3 203.2h0M553.6 196.5h0M549.0 215.5h0M561.4 217.5h0M544.8 199.6h0M560.4 195.7h0M541.4 220.3h0M559.9 210.8h0M550.5 210.2h0M541.9 215.7h0M544.1 206.5h0M558.9 206.8h0M553.6 205.3h0M542.6 199.4h0M552.7 208.6h0M556.7 207.1h0M542.6 204.2h0M539.2 209.9h0M553.5 195.6h0M552.2 200.5h0M551.9 210.8h0M547.6 199.5h0M538.7 199.3h0M555.2 212.4h0M560.4 195.2h0M547.7 220.3h0M543.2 211.2h0M567.0 206.1h0M557.2 217.6h0M539.5 208.5h0M546.1 201.8h0M558.3 194.1h0M555.0 208.2h0M555.1 197.2h0M552.8 202.4h0M544.5 216.8h0M542.9 212.8h0M543.7 206.5h0M543.6 203.5h0M564.1 207.9h0M554.4 223.4h0M538.9 215.7h0M537.8 214.8h0M556.1 212.7h0M544.9 223.7h0M552.3 206.3h0M556.0 207.8h0M550.8 222.9h0M548.2 209.1h0M552.6 203.3h0M550.6 204.6h0M547.0 212.6h0M544.7 204.9h0M563.6 211.2h0M558.4 208.0h0M556.9 212.9h0M542.2 211.9h0M560.1 215.1h0M545.6 216.5h0M558.8 227.7h0M557.9 201.7h0M560.3 221.2h0M551.0 210.4h0M565.1 209.5h0M563.1 198.8h0M547.6 216.0h0M547.8 211.3h0M563.8 202.1h0M547.2 212.9h0M550.3 210.0h0M554.7 215.7h0M558.7 200.1h0M557.6 197.4h0M559.6 206.7h0M538.9 203.4h0M546.9 219.8h0M544.3 205.6h0M550.8 206.2h0M538.7 207.5h0M542.1 205.5h0M545.6 213.3h0M565.0 198.4h0M541.4 199.6h0M551.1 208.4h0M556.0 212.4h0M551.6 193.7h0M565.4 210.0h0M551.5 222.3h0M552.3 222.2h0M564.3 198.6h0M555.8 203.5h0M561.5 197.6h0M559.3 206.8h0M558.1 224.6h0M541.1 213.3h0M548.7 221.2h0M550.8 215.2h0M555.3 207.5h0M567.2 212.1h0M553.3 201.5h0M544.8 207.8h0M542.3 222.1h0M553.3 200.5h0M553.3 214.9h0M550.1 210.8h0M556.3 224.4h0M544.7 212.2h0M548.7 215.1h0M548.1 217.6h0M547.9 212.8h0M565.1 202.1h0M541.4 221.4h0M554.2 208.5h0M544.3 197.8h0M557.2 203.3h0M549.1 207.4h0M547.8 204.5h0M547.1 215.0h0M557.0 218.4h0M554.5 193.2h0M544.9 208.7h0M550.6 193.2h0M558.4 222.5h0M537.7 213.1h0M556.6 220.5h0M537.9 204.1h0M551.9 203.9h0M556.1 210.6h0M556.2 205.7h0M564.3 219.6h0M548.4 214.0h0M554.8 220.3h0M564.9 214.5h0M559.2 224.4h0M554.5 198.1h0M556.0 224.2h0M561.6 208.5h0" stroke="#c0c0c0"/><path d="M562.7 196.6h0M563.9 202.6h0M568.4 195.9h0M559.5 202.1h0M564.8 197.5h0M561.0 201.8h0M571.7 200.3h0M576.5 199.8h0M561.6 202.6h0M564.4 196.9h0M560.7 201.4h0M548.8 197.6h0M547.8 198.0h0M542.6 194.3h0M569.5 196.5h0M537.7 203.3h0M568.0 199.8h0M564.4 196.9h0M573.2 201.9h0M547.3 197.7h0M557.3 200.4h0M566.7 199.1h0M565.9 203.5h0M558.4 202.1h0M549.2 197.7h0M568.0 202.7h0M557.5 194.8h0M571.5 202.3h0M563.7 198.7h0M562.9 198.1h0M566.6 197.2h0M571.4 194.6h0M555.8 198.1h0M546.6 196.9h0M550.2 191.8h0M566.9 194.3h0M570.3 205.2h0M549.7 194.8h0M562.4 196.6h0M562.6 197.1h0M581.3 198.9h0M564.2 192.5h0M563.0 197.6h0M567.8 193.8h0M560.7 197.4h0M549.2 192.6h0M573.5 196.8h0M567.0 196.5h0M558.7 195.6h0M558.3 201.1h0M561.6 198.5h0M568.5 200.9h0M556.7 193.0h0M577.6 196.7h0M544.4 200.0h0M557.8 196.7h0M569.6 201.1h0M556.5 194.8h0M567.5 201.8h0M542.1 198.0h0M539.7 202.2h0M565.8 200.5h0M566.7 198.2h0M568.7 195.5h0M555.9 192.8h0M563.6 197.1h0M569.4 200.0h0M561.9 197.3h0M550.2 191.8h0M576.6 197.2h0M579.2 200.5h0M565.4 198.3h0M572.5 200.0h0M569.0 200.4h0M566.1 202.3h0M560.7 197.4h0M546.3 192.5h0M564.7 195.7h0M569.0 197.5h0M555.8 196.6h0M572.2 199.3h0M572.1 196.5h0M550.9 192.2h0M570.0 197.3h0M560.2 197.4h0M570.3 198.9h0M572.9 195.3h0M560.9 196.3h0M570.6 193.8h0M580.1 197.1h0M562.6 196.0h0M560.3 196.4h0M571.5 196.5h0M568.7 200.6h0M561.0 194.8h0M572.0 201.3h0M565.0 192.1h0M573.9 197.7h0M555.8 198.5h0M563.2 195.5h0M578.6 199.5h0M555.7 195.6h0M574.7 195.6h0M549.1 193.7h0" stroke="#0000ff"/><path d="M549.0 197.6h0M567.2 198.6h0M562.0 193.7h0M570.3 198.7h0M551.1 192.5h0M560.4 200.1h0M560.2 195.4h0M562.9 195.5h0M565.7 194.4h0M545.5 194.9h0M561.4 196.3h0M565.1 195.0h0M566.5 199.4h0M559.9 188.7h0M565.3 197.0h0M569.8 196.3h0M576.4 198.6h0M559.0 192.2h0M562.8 196.5h0M570.5 194.7h0M581.9 199.0h0M556.1 191.3h0M552.5 198.2h0M546.4 194.5h0M575.5 195.3h0M562.2 193.2h0M583.1 195.2h0" stroke="#0102ff"/><path d="M569.8 197.3h0M572.3 197.6h0M575.9 195.3h0M568.6 193.9h0M562.6 192.8h0M567.0 192.9h0M576.7 197.3h0M564.4 194.6h0M569.8 194.4h0M576.0 198.0h0M555.6 196.8h0M588.4 195.1h0M559.5 189.7h0M559.7 190.5h0M571.9 195.1h0M582.6 196.6h0M579.0 193.8h0M565.1 191.0h0M581.6 199.7h0M583.4 195.1h0M564.4 191.4h0M577.4 194.9h0" stroke="#0a14ff"/><path d="M576.9 197.1h0M566.1 193.5h0M565.6 192.1h0M580.4 193.6h0M559.7 197.1h0M573.3 195.3h0M581.2 198.1h0M556.9 189.9h0M570.0 195.3h0M552.0 191.0h0M568.5 198.9h0M559.9 197.6h0M575.3 196.0h0M570.7 192.3h0M570.8 192.3h0M570.0 195.1h0M563.0 191.0h0M559.1 192.6h0M588.3 195.6h0M572.6 193.2h0M570.5 191.8h0M571.6 193.8h0" stroke="#142bff"/><path d="M585.2 197.2h0M570.3 194.5h0M577.7 194.0h0M582.7 194.9h0M569.9 195.4h0M564.5 192.7h0M581.6 192.9h0M564.9 189.6h0M573.7 195.5h0M562.0 189.6h0M554.3 188.2h0M560.4 189.4h0M564.8 189.4h0M580.6 199.9h0M565.3 190.1h0M558.4 192.4h0M563.4 193.3h0M568.0 191.8h0M586.0 193.0h0M567.9 193.8h0M585.9 198.5h0M584.9 196.8h0M560.8 191.5h0M570.9 191.4h0M564.3 192.2h0M564.2 192.7h0M577.5 193.4h0M562.7 191.4h0M561.2 188.2h0M561.9 195.5h0" stroke="#1f4cff"/><path d="M571.8 196.2h0M571.5 194.3h0M586.5 192.4h0M576.9 196.5h0M573.5 192.0h0M562.6 190.8h0M576.6 194.5h0M557.3 188.8h0M565.2 192.3h0M559.0 190.2h0M568.8 196.0h0M576.0 197.0h0M583.6 197.4h0M561.3 194.6h0M556.1 192.6h0M560.6 189.3h0M566.7 190.3h0M576.1 196.4h0M563.3 193.5h0M576.4 194.0h0M574.7 190.7h0M578.1 191.0h0M564.7 189.9h0M558.1 189.2h0M562.6 189.4h0M564.7 191.0h0M562.7 191.8h0M581.0 197.4h0M571.7 191.4h0M562.0 189.9h0M571.3 189.4h0M581.4 194.4h0M581.7 197.1h0M556.0 192.0h0M573.0 192.3h0" stroke="#2860ff"/><path d="M559.3 187.1h0M579.5 193.9h0M566.4 195.5h0M590.0 193.7h0M563.8 191.9h0M574.7 190.7h0M580.5 195.0h0M584.6 193.9h0M560.4 188.7h0M566.7 189.2h0M557.9 190.0h0M585.2 192.5h0M578.8 187.6h0M576.6 194.5h0M566.0 189.5h0M586.5 196.8h0M580.4 193.0h0M577.1 191.7h0M556.9 186.3h0M578.7 192.7h0M579.4 187.7h0M594.6 192.1h0M587.2 192.8h0M578.2 191.3h0M560.1 192.9h0" stroke="#3172ff"/><path d="M576.7 191.5h0M566.4 185.2h0M581.9 194.6h0M583.2 192.0h0M564.1 196.1h0M577.7 192.6h0M571.4 191.2h0M577.0 189.0h0M555.6 192.2h0M568.8 188.3h0M564.1 190.0h0M574.2 192.1h0M575.4 193.2h0M565.6 188.2h0M594.6 193.6h0M575.7 190.4h0M588.9 189.2h0M565.6 186.8h0M583.5 191.5h0M558.1 193.5h0" stroke="#3a83ff"/><path d="M568.3 191.2h0M586.5 196.2h0M565.3 188.9h0M588.7 189.9h0M571.7 190.7h0M569.9 188.0h0M581.2 192.7h0M585.3 194.6h0M570.5 191.4h0M571.8 188.4h0M590.0 194.5h0M580.3 193.0h0M594.6 192.5h0M572.0 189.7h0M591.7 194.7h0M585.7 193.7h0M577.4 191.5h0M577.3 195.4h0M573.4 187.6h0M581.3 188.5h0M557.8 189.7h0M585.9 189.2h0M588.3 190.4h0M589.0 191.4h0M575.9 191.7h0M577.8 189.3h0" stroke="#4397ff"/><path d="M570.9 188.6h0M565.9 187.4h0M559.6 184.9h0M584.6 190.0h0M579.2 185.2h0M588.5 191.6h0M576.5 193.4h0M571.6 192.2h0M576.7 186.0h0M563.3 188.0h0M569.7 190.7h0M581.6 187.3h0M559.8 191.2h0M567.1 188.4h0M595.4 191.1h0M572.5 188.8h0M587.2 192.0h0M587.5 192.5h0M587.0 191.0h0M592.6 193.6h0M576.7 188.3h0M572.7 189.8h0M580.8 190.3h0M563.1 191.5h0M554.8 185.5h0M566.4 190.3h0M558.2 184.7h0M561.0 185.8h0M573.6 194.6h0M580.4 192.8h0M597.0 192.2h0M570.7 185.2h0M563.3 188.3h0" stroke="#4eadff"/><path d="M589.4 190.1h0M568.8 190.3h0M558.0 188.4h0M575.5 189.3h0M588.4 191.6h0M588.8 187.8h0M567.0 186.7h0M570.0 185.6h0M567.0 187.2h0M571.0 187.3h0M568.2 187.1h0M570.2 185.4h0M574.7 188.0h0M585.2 185.5h0M565.0 186.3h0M593.1 189.6h0M585.7 190.9h0M580.5 191.0h0M561.6 188.5h0M582.7 190.6h0M572.7 188.9h0M563.7 189.8h0M595.1 189.4h0M568.2 184.7h0M582.3 189.3h0M593.2 191.3h0M563.4 186.5h0M589.9 189.6h0M563.6 185.5h0M576.1 190.7h0M590.8 190.7h0M585.5 186.7h0M598.9 189.5h0M584.3 188.9h0M571.3 187.7h0M562.5 182.1h0M574.6 187.4h0M574.1 185.2h0M594.2 191.1h0M568.3 189.2h0M591.8 192.3h0M587.9 189.7h0M578.2 190.9h0" stroke="#58bfff"/><path d="M594.6 190.1h0M570.2 189.3h0M566.8 187.8h0M584.2 187.1h0M572.6 188.5h0M585.8 189.7h0M577.7 187.0h0M571.2 187.7h0M574.7 188.1h0M557.2 184.7h0M569.8 186.5h0M577.9 190.0h0M590.0 186.0h0M583.5 187.8h0M566.5 183.0h0M576.2 188.9h0M558.2 186.7h0M574.7 189.3h0M567.6 187.0h0M573.0 186.5h0M576.6 187.9h0M597.9 191.8h0M588.8 187.7h0M580.8 192.9h0M568.2 188.5h0M575.5 185.2h0M575.7 189.9h0M592.1 189.0h0M571.5 189.3h0M570.3 186.8h0M567.5 185.1h0" stroke="#61d1ff"/><path d="M587.4 191.8h0M590.1 188.3h0M574.3 186.7h0M590.8 188.6h0M568.2 185.5h0M561.5 186.0h0M585.8 189.2h0M578.1 185.2h0M560.2 183.0h0M589.2 192.4h0M569.9 186.2h0M555.8 187.0h0M570.0 185.9h0M568.0 187.4h0M583.0 186.8h0M596.6 187.5h0M593.1 190.6h0M593.5 186.0h0M570.8 188.3h0M577.6 187.2h0M574.7 187.5h0M581.9 187.9h0M574.4 187.4h0M559.3 183.1h0M566.9 187.3h0M577.9 187.6h0M584.6 191.5h0M576.3 186.2h0M570.1 184.3h0M586.7 188.1h0" stroke="#72e8ff"/><path d="M575.8 188.2h0M581.2 183.3h0M563.9 186.8h0M562.4 183.5h0M586.0 192.6h0M593.5 185.7h0M573.4 186.3h0M566.7 184.8h0M581.8 191.5h0M581.8 185.6h0M571.8 183.4h0M581.2 186.9h0M585.6 184.5h0M597.8 189.0h0M585.5 190.1h0M584.2 186.8h0M590.7 188.0h0M565.2 180.6h0M577.4 191.4h0M584.2 189.3h0M596.0 186.9h0M564.5 182.7h0M562.6 188.3h0M571.7 185.7h0M565.9 185.1h0M582.2 187.5h0M577.3 189.1h0M571.4 184.4h0M586.3 189.6h0" stroke="#7bf7ff"/><path d="M564.1 184.4h0M582.3 186.0h0M591.9 191.4h0M569.6 187.7h0M583.1 187.4h0M579.8 185.3h0M578.9 191.4h0M565.7 182.7h0M580.0 188.9h0M560.0 184.0h0M578.5 185.0h0M584.1 189.6h0M588.3 188.3h0M582.9 183.0h0M586.8 186.4h0M571.1 185.4h0M593.2 185.7h0M581.0 185.7h0M582.0 186.2h0M585.9 185.8h0M568.0 184.1h0M571.8 186.6h0M588.3 187.9h0M580.5 187.4h0M577.6 186.1h0M586.2 186.4h0M590.6 186.1h0M564.1 179.9h0M583.6 185.6h0M581.3 186.8h0M586.5 186.3h0M577.4 184.6h0M581.3 184.9h0M583.8 188.5h0" stroke="#80fefc"/><path d="M577.0 183.6h0M572.7 184.4h0M599.9 188.2h0M596.6 190.3h0M593.6 186.7h0M594.2 188.4h0M577.1 184.9h0M594.1 188.2h0M593.6 192.9h0M572.0 185.4h0M587.9 189.6h0M590.6 185.0h0M563.7 180.5h0M588.7 186.9h0M577.8 187.2h0M572.1 185.2h0M590.1 185.1h0M593.1 187.6h0M592.1 190.3h0M583.6 190.9h0M563.3 183.4h0M589.9 186.4h0M595.2 189.8h0M585.7 186.8h0M577.8 182.7h0M585.8 186.8h0M580.7 183.0h0M582.3 183.9h0M562.4 185.5h0M572.0 184.3h0M578.5 184.2h0M559.9 184.6h0M587.1 187.0h0M571.5 183.2h0M575.1 181.5h0M578.7 186.2h0M588.8 186.1h0" stroke="#80fbee"/><path d="M573.7 184.7h0M577.8 184.1h0M582.8 183.1h0M570.3 180.5h0M583.9 186.4h0M574.3 180.8h0M573.9 180.4h0M585.0 187.3h0M589.7 185.4h0M570.7 186.8h0M577.6 187.6h0M581.2 187.3h0M582.6 182.0h0M583.1 191.2h0M593.2 188.0h0M577.0 183.2h0M590.9 186.6h0M580.6 182.9h0M598.5 186.6h0M594.5 186.6h0M595.5 181.1h0M587.9 188.4h0M584.9 185.2h0M580.2 183.6h0" stroke="#80f8df"/><path d="M574.3 184.7h0M585.1 183.3h0M592.0 191.0h0M595.2 186.2h0M584.8 187.9h0M582.1 183.7h0M563.8 184.6h0M566.1 180.3h0M572.5 179.7h0M565.4 182.3h0M575.5 182.1h0M575.9 187.1h0M587.8 184.2h0M588.4 185.6h0M572.8 180.2h0M593.1 184.4h0M573.4 182.5h0M593.8 187.5h0M599.6 188.4h0M588.6 185.1h0" stroke="#77f3ce"/><path d="M563.5 181.0h0M579.7 186.5h0M567.9 179.7h0M594.1 186.0h0M581.2 182.9h0M578.7 185.5h0M571.4 182.9h0M603.6 187.2h0M592.8 183.2h0M589.7 185.4h0M588.9 185.5h0M584.6 186.0h0M576.2 178.7h0M576.1 180.7h0M582.1 184.3h0M571.2 180.0h0M582.3 185.8h0M576.2 181.1h0M583.0 182.1h0M597.9 183.3h0M581.6 180.5h0" stroke="#6ef0bc"/><path d="M596.1 184.1h0M569.3 180.0h0M572.2 180.6h0M569.7 181.4h0M584.6 184.2h0M583.4 183.7h0M591.5 186.0h0M593.5 183.3h0M573.6 180.7h0M571.2 182.4h0M596.9 186.7h0M585.6 183.5h0M575.9 179.9h0M595.2 185.1h0M593.6 186.2h0M580.0 180.5h0M585.1 182.5h0M574.8 181.9h0M588.9 181.7h0M575.1 181.7h0M569.2 182.1h0M575.7 180.2h0M583.2 186.2h0M597.6 183.9h0M583.9 184.0h0" stroke="#65f0aa"/><path d="M577.9 180.7h0M596.2 184.5h0M592.8 182.3h0M578.0 183.5h0M561.9 181.1h0M573.3 183.0h0M586.2 186.6h0M562.0 180.9h0M585.7 181.1h0M567.8 181.3h0M588.0 186.1h0M569.1 178.4h0M594.2 183.9h0M599.1 189.4h0M590.9 184.3h0M588.2 184.7h0M595.7 184.7h0M596.9 184.2h0M568.7 178.3h0M588.3 183.4h0M567.2 179.1h0M596.8 189.0h0M590.0 182.1h0M574.1 178.2h0M574.4 180.9h0M569.0 179.6h0" stroke="#5cf094"/><path d="M583.1 184.3h0M594.7 183.1h0M576.5 182.7h0M589.3 180.0h0M595.3 184.2h0M599.0 187.3h0M590.2 182.9h0M583.4 179.4h0M593.9 182.8h0M589.5 182.0h0M573.4 180.7h0M583.3 186.1h0M602.1 185.9h0M575.2 177.8h0M595.2 183.8h0M590.7 183.0h0M567.8 179.6h0M593.5 184.9h0" stroke="#53f079"/><path d="M573.9 178.1h0M576.5 178.5h0M576.2 181.0h0M573.8 179.3h0M579.9 180.8h0M593.4 186.4h0M594.6 184.8h0M575.9 180.6h0M591.5 183.5h0M585.9 182.1h0M575.5 179.4h0M580.3 179.1h0M578.7 180.7h0M592.6 183.9h0M582.1 181.6h0M569.6 178.0h0" stroke="#4af05f"/><path d="M599.2 183.9h0M599.8 183.5h0M592.1 181.2h0M581.9 182.1h0M568.2 178.1h0M601.3 184.1h0M583.7 179.1h0M592.1 182.7h0M578.5 178.4h0M586.7 183.4h0M591.5 182.5h0M582.0 179.3h0M584.8 181.5h0M601.0 184.1h0M591.8 181.2h0M569.0 177.1h0M586.0 180.8h0M585.3 182.0h0M585.6 179.9h0M580.5 179.7h0M579.5 179.6h0" stroke="#41f044"/><path d="M574.8 179.7h0M596.8 180.5h0M576.7 179.2h0M594.4 182.5h0M587.8 181.3h0M599.2 184.5h0M578.4 179.5h0M583.6 180.1h0M580.8 178.3h0M575.5 178.7h0M573.9 177.0h0M586.4 183.4h0M584.1 181.3h0M585.8 181.0h0M580.2 177.3h0M601.3 183.0h0M581.5 180.2h0M571.1 176.3h0M579.6 176.3h0M573.5 178.6h0M593.4 179.6h0M589.6 180.3h0" stroke="#3af02d"/><path d="M578.1 178.2h0M577.4 179.0h0M572.7 177.2h0M577.0 177.5h0M598.9 180.0h0M584.4 180.1h0M604.8 182.1h0M593.6 180.0h0M595.3 180.3h0M575.7 180.0h0M598.9 181.9h0M579.9 178.7h0M587.5 179.8h0M598.7 182.6h0M578.4 178.4h0" stroke="#32f017"/><path d="M584.4 178.1h0M594.8 181.3h0M594.9 180.6h0M592.2 181.5h0M576.1 181.3h0M593.0 179.5h0M586.7 177.8h0M596.0 182.7h0M585.1 179.0h0M571.1 177.3h0M602.0 183.8h0M597.4 182.3h0M600.7 181.6h0M591.8 181.8h0M591.7 179.6h0M603.2 182.4h0M602.9 184.2h0M598.9 183.8h0" stroke="#33f010"/><path d="M572.1 178.6h0M596.0 182.1h0M582.3 178.9h0M602.9 182.2h0M588.7 178.3h0M596.4 179.8h0M577.3 176.6h0M584.1 179.2h0M569.7 177.2h0M589.3 178.7h0M589.3 180.8h0M586.4 180.3h0" stroke="#36f010"/><path d="M581.2 178.8h0M585.4 177.7h0M568.6 176.7h0M595.4 178.0h0M577.2 179.7h0M595.1 179.1h0M579.1 175.2h0M592.5 179.2h0M572.5 175.4h0M602.2 181.0h0M595.8 179.1h0" stroke="#44f012"/><path d="M574.8 177.4h0M603.1 182.7h0M582.6 177.3h0M594.0 180.2h0M573.3 176.4h0M587.0 178.2h0M597.4 180.1h0M579.4 177.2h0" stroke="#5af015"/><path d="M596.5 181.1h0M580.4 179.1h0M591.4 177.4h0M584.8 177.0h0M591.5 179.7h0M576.5 173.6h0M592.4 181.5h0M595.9 179.2h0M581.2 175.3h0M574.2 175.5h0M588.7 177.0h0M588.4 178.8h0M573.7 175.3h0M576.2 175.4h0M583.6 176.5h0M574.1 174.1h0M582.2 175.2h0" stroke="#71f018"/><path d="M581.2 176.8h0M597.3 180.4h0M597.8 179.2h0M602.8 181.1h0M598.7 179.9h0M588.7 176.3h0M573.1 174.1h0M591.8 177.7h0" stroke="#87f01c"/><path d="M577.6 174.1h0M585.2 175.1h0M582.0 176.2h0M599.9 181.0h0M601.1 179.7h0M582.5 175.3h0M580.4 175.3h0M589.2 176.0h0M597.0 179.6h0M600.9 178.9h0M568.2 175.1h0M588.2 176.1h0M579.9 174.8h0M587.3 176.3h0" stroke="#9df020"/><path d="M604.9 179.5h0M587.2 180.0h0M585.2 175.7h0M600.4 178.8h0M591.2 177.2h0M585.7 177.7h0M588.7 176.7h0M572.4 175.0h0M572.1 174.4h0M594.8 176.9h0M585.9 176.0h0" stroke="#adf026"/><path d="M584.4 176.0h0M604.7 178.2h0M573.6 174.1h0M576.1 175.0h0M582.5 175.1h0M605.1 180.8h0M595.5 178.3h0M582.5 175.3h0M605.2 179.0h0M577.1 173.3h0M583.5 174.3h0M581.4 174.4h0M595.9 177.1h0M599.0 178.8h0M578.6 174.7h0M602.6 179.2h0M578.4 176.2h0" stroke="#bcf02e"/><path d="M593.5 177.5h0M577.3 175.9h0M604.3 180.8h0M587.7 175.0h0M588.7 176.6h0M594.0 177.9h0M599.6 177.7h0M598.6 177.4h0M580.7 174.9h0M576.2 174.8h0M588.7 176.1h0" stroke="#c9f235"/><path d="M590.3 176.7h0M575.8 172.4h0M601.9 178.6h0M587.7 176.5h0M594.6 177.2h0M594.3 177.9h0M599.4 179.2h0M609.6 177.3h0M585.6 174.5h0M605.4 178.8h0M606.5 178.9h0M597.4 177.0h0" stroke="#d6f53b"/><path d="M591.4 176.2h0M578.6 173.6h0M601.3 177.3h0M581.2 175.4h0M598.1 177.4h0M603.7 178.9h0" stroke="#e2f841"/><path d="M587.4 174.1h0M593.9 177.5h0M583.2 172.7h0M587.7 175.0h0M595.8 176.6h0M580.1 172.7h0M577.8 173.2h0" stroke="#ebf844"/><path d="M586.9 174.8h0M582.5 174.5h0" stroke="#f5f847"/><path d="M579.0 172.9h0M604.8 177.4h0M602.5 178.4h0M611.2 177.7h0M581.8 174.0h0" stroke="#f3e642"/><path d="M590.0 175.2h0M591.7 175.2h0M591.0 173.0h0M578.4 172.0h0M588.1 172.4h0M601.4 174.9h0M594.2 174.2h0M606.2 177.8h0M580.8 172.4h0" stroke="#edcb39"/><path d="M595.0 175.2h0M583.8 173.6h0M601.5 176.9h0M603.4 176.6h0M584.0 172.0h0M601.5 174.7h0M587.1 173.9h0" stroke="#eab834"/><path d="M603.3 174.6h0M594.2 175.6h0M589.3 173.8h0" stroke="#e8a730"/><path d="M588.4 172.7h0M594.8 175.1h0M593.8 174.4h0" stroke="#e8992b"/><path d="M600.7 175.1h0M598.6 174.9h0M598.4 174.3h0" stroke="#e98b27"/><path d="M588.5 172.6h0M588.5 172.0h0M604.1 172.9h0M600.5 174.1h0M592.4 173.4h0M595.9 172.9h0" stroke="#ec7c24"/><path d="M593.0 172.0h0M615.0 176.3h0M602.5 175.7h0M610.0 176.6h0M624.5 171.4h0M606.7 174.6h0M598.7 174.3h0" stroke="#ed6e22"/><path d="M592.4 172.2h0M602.3 173.9h0M581.4 170.3h0M614.9 170.4h0M605.0 175.7h0" stroke="#ee5f20"/><path d="M601.9 173.9h0M596.1 172.7h0M604.5 175.1h0M624.9 171.5h0M620.0 173.9h0M599.1 175.0h0M608.6 174.2h0M606.8 175.4h0M606.4 175.4h0" stroke="#ee4e1a"/><path d="M617.9 171.5h0M601.6 172.9h0M618.3 172.9h0M596.0 172.7h0M600.6 172.5h0M607.0 174.6h0" stroke="#ef4018"/><path d="M596.6 172.4h0M615.3 175.4h0M605.5 172.2h0M593.4 172.1h0M592.1 171.9h0M611.1 174.7h0M609.7 174.2h0M601.8 173.6h0" stroke="#f03218"/><path d="M609.0 174.8h0M621.2 173.3h0M613.7 175.6h0M617.3 175.1h0" stroke="#f12b16"/><path d="M610.3 174.1h0M616.1 173.5h0M594.3 171.9h0" stroke="#f32513"/><path d="M607.6 175.2h0M618.0 175.2h0M614.9 175.5h0M621.3 175.0h0M622.2 171.5h0M608.1 176.0h0M611.4 171.7h0M611.4 173.8h0M600.6 172.2h0M610.0 171.7h0M599.4 171.8h0M623.2 172.9h0" stroke="#f51e10"/></g>
</g>
<g clip-path="url(#c8)"><line x1="524.10" y1="234.00" x2="634.50" y2="138.00" stroke="#111" stroke-width="1.1" stroke-dasharray="3.2,1.8"/>
<line x1="536" y1="217.3" x2="624" y2="158" stroke="#f52020" stroke-width="1.1"/></g>
<path d="M523.8 138H635.2M523.8 234H635.2" stroke="#222" stroke-width="1.45" fill="none"/>
<path d="M524.5 138V234M634.5 138V234" stroke="#1a1a1a" stroke-width="1.15" fill="none"/>
<path d="M524.10 234v2.2M524.5 234.00h-2.2M535.18 234v1.2M524.5 224.37h-1.2M541.66 234v1.2M524.5 218.73h-1.2M546.26 234v1.2M524.5 214.73h-1.2M549.82 234v1.2M524.5 211.63h-1.2M552.74 234v1.2M524.5 209.10h-1.2M555.20 234v1.2M524.5 206.96h-1.2M557.33 234v1.2M524.5 205.10h-1.2M559.22 234v1.2M524.5 203.46h-1.2M560.90 234v2.2M524.5 202.00h-2.2M571.98 234v1.2M524.5 192.37h-1.2M578.46 234v1.2M524.5 186.73h-1.2M583.06 234v1.2M524.5 182.73h-1.2M586.62 234v1.2M524.5 179.63h-1.2M589.54 234v1.2M524.5 177.10h-1.2M592.00 234v1.2M524.5 174.96h-1.2M594.13 234v1.2M524.5 173.10h-1.2M596.02 234v1.2M524.5 171.46h-1.2M597.70 234v2.2M524.5 170.00h-2.2M608.78 234v1.2M524.5 160.37h-1.2M615.26 234v1.2M524.5 154.73h-1.2M619.86 234v1.2M524.5 150.73h-1.2M623.42 234v1.2M524.5 147.63h-1.2M626.34 234v1.2M524.5 145.10h-1.2M628.80 234v1.2M524.5 142.96h-1.2M630.93 234v1.2M524.5 141.10h-1.2M632.82 234v1.2M524.5 139.46h-1.2M634.50 234v2.2M524.5 138.00h-2.2" stroke="#222" stroke-width="0.9" fill="none"/>
<text x="524.60" y="247.90" font-size="9.6" text-anchor="middle" fill="#1a1a1a">10<tspan font-size="6.8" dx="-0.3" dy="-3.7">5</tspan></text>
<text x="519.60" y="237.50" font-size="9.6" text-anchor="end" fill="#1a1a1a">10<tspan font-size="6.8" dx="-0.4" dy="-3.7">5</tspan></text>
<text x="561.40" y="247.90" font-size="9.6" text-anchor="middle" fill="#1a1a1a">10<tspan font-size="6.8" dx="-0.3" dy="-3.7">6</tspan></text>
<text x="519.60" y="205.50" font-size="9.6" text-anchor="end" fill="#1a1a1a">10<tspan font-size="6.8" dx="-0.4" dy="-3.7">6</tspan></text>
<text x="598.20" y="247.90" font-size="9.6" text-anchor="middle" fill="#1a1a1a">10<tspan font-size="6.8" dx="-0.3" dy="-3.7">7</tspan></text>
<text x="519.60" y="173.50" font-size="9.6" text-anchor="end" fill="#1a1a1a">10<tspan font-size="6.8" dx="-0.4" dy="-3.7">7</tspan></text>
<text x="635.00" y="247.90" font-size="9.6" text-anchor="middle" fill="#1a1a1a">10<tspan font-size="6.8" dx="-0.3" dy="-3.7">8</tspan></text>
<text x="519.60" y="141.50" font-size="9.6" text-anchor="end" fill="#1a1a1a">10<tspan font-size="6.8" dx="-0.4" dy="-3.7">8</tspan></text>
<text transform="translate(504.00,185.40) rotate(-90)" font-size="10.6" text-anchor="middle" fill="#1a1a1a">Estimation</text>
<text x="579.50" y="262.9" font-size="10.4" text-anchor="middle" fill="#1a1a1a">Measurement</text>
<text x="575.50" y="133.80" font-size="9.7" fill="#1a1a1a">P<tspan font-size="7.1" dx="0.1" dy="2.3">8</tspan></text>
<text x="528.70" y="148.70" font-size="9.7" fill="#1a1a1a">R=0.83</text>
<text x="528.70" y="161.30" font-size="9.7" fill="#1a1a1a">RE=0.51</text>
<text x="604.30" y="149.80" font-size="9.7" fill="#1a1a1a">1 : 1</text>
<text x="574.60" y="216.80" font-size="9.7" fill="#f21818">Slope=0.78</text>
<text x="574.60" y="228.60" font-size="9.7" fill="#f21818">Intercept=1.37</text>
<rect x="653" y="66.00" width="12" height="4.97" fill="#f42312"/><rect x="653" y="70.67" width="12" height="4.97" fill="#f12e17"/><rect x="653" y="75.33" width="12" height="4.97" fill="#ef4218"/><rect x="653" y="80.00" width="12" height="4.97" fill="#ee5c1f"/><rect x="653" y="84.67" width="12" height="4.97" fill="#ec7523"/><rect x="653" y="89.33" width="12" height="4.97" fill="#e88e28"/><rect x="653" y="94.00" width="12" height="4.97" fill="#e8a52f"/><rect x="653" y="98.67" width="12" height="4.97" fill="#ebc236"/><rect x="653" y="103.33" width="12" height="4.97" fill="#f5eb44"/><rect x="653" y="108.00" width="12" height="4.97" fill="#edf844"/><rect x="653" y="112.67" width="12" height="4.97" fill="#dbf73e"/><rect x="653" y="117.33" width="12" height="4.97" fill="#c6f233"/><rect x="653" y="122.00" width="12" height="4.97" fill="#aef027"/><rect x="653" y="126.67" width="12" height="4.97" fill="#90f01d"/><rect x="653" y="131.33" width="12" height="4.97" fill="#6bf017"/><rect x="653" y="136.00" width="12" height="4.97" fill="#45f012"/><rect x="653" y="140.67" width="12" height="4.97" fill="#34f010"/><rect x="653" y="145.33" width="12" height="4.97" fill="#34f01d"/><rect x="653" y="150.00" width="12" height="4.97" fill="#41f043"/><rect x="653" y="154.67" width="12" height="4.97" fill="#50f070"/><rect x="653" y="159.33" width="12" height="4.97" fill="#5ff09d"/><rect x="653" y="164.00" width="12" height="4.97" fill="#6ef0bc"/><rect x="653" y="168.67" width="12" height="4.97" fill="#7df6da"/><rect x="653" y="173.33" width="12" height="4.97" fill="#80fcf3"/><rect x="653" y="178.00" width="12" height="4.97" fill="#7bf6ff"/><rect x="653" y="182.67" width="12" height="4.97" fill="#66d8ff"/><rect x="653" y="187.33" width="12" height="4.97" fill="#54b9ff"/><rect x="653" y="192.00" width="12" height="4.97" fill="#4395ff"/><rect x="653" y="196.67" width="12" height="4.97" fill="#3376ff"/><rect x="653" y="201.33" width="12" height="4.97" fill="#2459ff"/><rect x="653" y="206.00" width="12" height="4.97" fill="#1328ff"/><rect x="653" y="210.67" width="12" height="4.97" fill="#0306ff"/><rect x="653" y="215.33" width="12" height="4.97" fill="#0000ff"/><rect x="653" y="220" width="12" height="5" fill="#c8c8c8"/><path d="M665.5 62V225" stroke="#c8c8c8" stroke-width="0.6"/><path d="M665 80.5h1.8" stroke="#888" stroke-width="0.7"/><text x="670.3" y="83.9" font-size="9.6" fill="#1a1a1a">610</text><path d="M665 126.9h1.8" stroke="#888" stroke-width="0.7"/><text x="670.3" y="130.3" font-size="9.6" fill="#1a1a1a">410</text><path d="M665 173.3h1.8" stroke="#888" stroke-width="0.7"/><text x="670.3" y="176.70000000000002" font-size="9.6" fill="#1a1a1a">210</text><path d="M665 219.8h1.8" stroke="#888" stroke-width="0.7"/><text x="670.3" y="223.20000000000002" font-size="9.6" fill="#1a1a1a">10</text><text x="641.8" y="53.7" font-size="9.5" fill="#1a1a1a">SR (W/m<tspan font-size="6.3" dy="-3.6">2</tspan><tspan dy="3.6">)</tspan></text>
</svg></body></html>
